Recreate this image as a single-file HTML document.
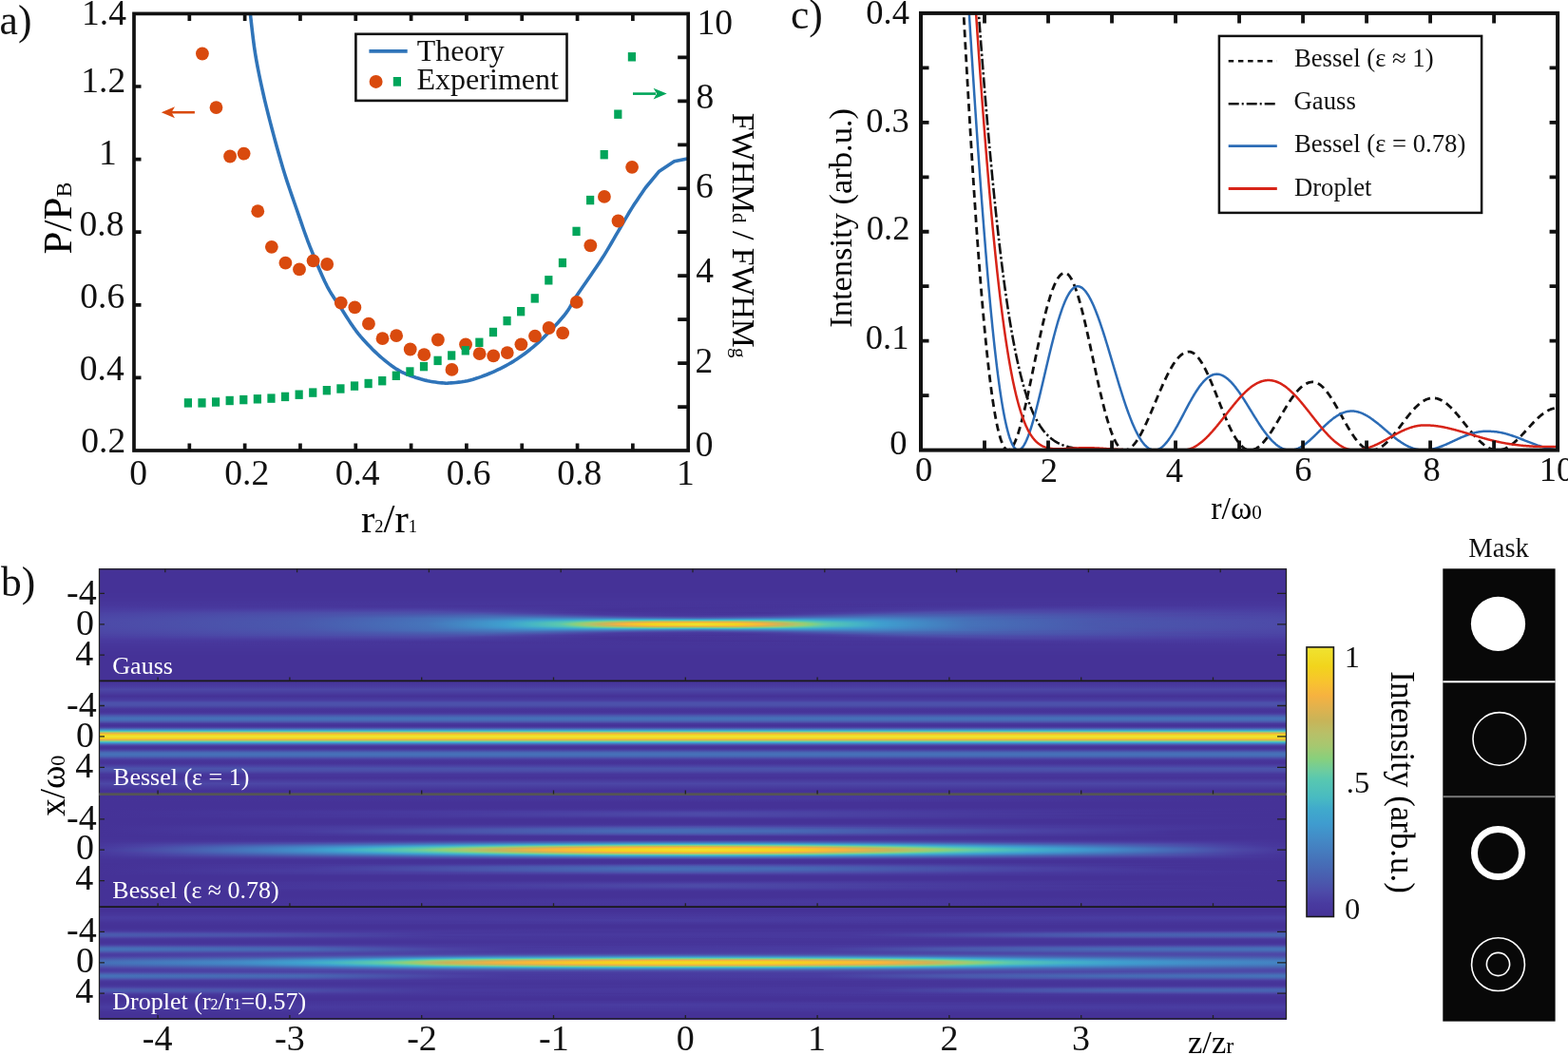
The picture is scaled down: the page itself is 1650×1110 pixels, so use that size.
<!DOCTYPE html>
<html><head><meta charset="utf-8"><title>Figure</title><style>html,body{margin:0;padding:0;background:#fff;width:1650px;height:1110px;overflow:hidden}svg{display:block}text{font-family:"Liberation Serif","Times New Roman",serif}</style></head><body>
<svg width="1650" height="1110" viewBox="0 0 1650 1110">
<defs><linearGradient id="g1"><stop offset="0" stop-color="#453297"/><stop offset="1" stop-color="#453297"/></linearGradient><linearGradient id="g2"><stop offset="0" stop-color="#453398"/><stop offset="1" stop-color="#453398"/></linearGradient><linearGradient id="g3"><stop offset="0" stop-color="#463398"/><stop offset="1" stop-color="#463398"/></linearGradient><linearGradient id="g4"><stop offset="0" stop-color="#463499"/><stop offset="1" stop-color="#463499"/></linearGradient><linearGradient id="g5"><stop offset="0" stop-color="#46359a"/><stop offset="1" stop-color="#46359a"/></linearGradient><linearGradient id="g6"><stop offset="0" stop-color="#47369b"/><stop offset="0.779" stop-color="#463499"/><stop offset="1" stop-color="#47369b"/></linearGradient><linearGradient id="g7"><stop offset="0" stop-color="#47369b"/><stop offset="0.731" stop-color="#463499"/><stop offset="1" stop-color="#47369b"/></linearGradient><linearGradient id="g8"><stop offset="0" stop-color="#47379c"/><stop offset="0.698" stop-color="#463499"/><stop offset="1" stop-color="#47379c"/></linearGradient><linearGradient id="g9"><stop offset="0" stop-color="#47379c"/><stop offset="0.67" stop-color="#463398"/><stop offset="1" stop-color="#47379c"/></linearGradient><linearGradient id="g10"><stop offset="0" stop-color="#48389d"/><stop offset="0.323" stop-color="#463499"/><stop offset="0.698" stop-color="#46359a"/><stop offset="1" stop-color="#48389d"/></linearGradient><linearGradient id="g11"><stop offset="0" stop-color="#48399e"/><stop offset="0.31" stop-color="#47369b"/><stop offset="0.629" stop-color="#453398"/><stop offset="0.846" stop-color="#483a9f"/><stop offset="1" stop-color="#48399e"/></linearGradient><linearGradient id="g12"><stop offset="0" stop-color="#483a9f"/><stop offset="0.296" stop-color="#48389d"/><stop offset="0.491" stop-color="#453297"/><stop offset="0.691" stop-color="#48389d"/><stop offset="0.875" stop-color="#493ba0"/><stop offset="1" stop-color="#483a9f"/></linearGradient><linearGradient id="g13"><stop offset="0" stop-color="#493ba0"/><stop offset="0.27" stop-color="#493da1"/><stop offset="0.45" stop-color="#453297"/><stop offset="0.664" stop-color="#47379c"/><stop offset="0.789" stop-color="#4a3fa2"/><stop offset="1" stop-color="#493ba0"/></linearGradient><linearGradient id="g14"><stop offset="0" stop-color="#493ca1"/><stop offset="0.272" stop-color="#4b41a3"/><stop offset="0.432" stop-color="#453297"/><stop offset="0.645" stop-color="#47379c"/><stop offset="0.773" stop-color="#4b43a4"/><stop offset="1" stop-color="#493ca1"/></linearGradient><linearGradient id="g15"><stop offset="0" stop-color="#4a3ea1"/><stop offset="0.275" stop-color="#4c46a6"/><stop offset="0.424" stop-color="#453398"/><stop offset="0.629" stop-color="#47369b"/><stop offset="0.749" stop-color="#4c48a7"/><stop offset="1" stop-color="#4a3ea1"/></linearGradient><linearGradient id="g16"><stop offset="0" stop-color="#4a3fa2"/><stop offset="0.285" stop-color="#4d4ba8"/><stop offset="0.35" stop-color="#4a3ea1"/><stop offset="0.437" stop-color="#453398"/><stop offset="0.616" stop-color="#47379c"/><stop offset="0.714" stop-color="#4d4ba8"/><stop offset="0.822" stop-color="#4c47a6"/><stop offset="1" stop-color="#4a3fa2"/></linearGradient><linearGradient id="g17"><stop offset="0" stop-color="#4b41a3"/><stop offset="0.24" stop-color="#4c50aa"/><stop offset="0.326" stop-color="#4d4ca9"/><stop offset="0.398" stop-color="#47379c"/><stop offset="0.555" stop-color="#453398"/><stop offset="0.632" stop-color="#4a3ea2"/><stop offset="0.698" stop-color="#4c50aa"/><stop offset="0.806" stop-color="#4d4ba8"/><stop offset="1" stop-color="#4b41a3"/></linearGradient><linearGradient id="g18"><stop offset="0" stop-color="#4b43a4"/><stop offset="0.226" stop-color="#4c52ab"/><stop offset="0.322" stop-color="#4b55ac"/><stop offset="0.379" stop-color="#4b41a3"/><stop offset="0.424" stop-color="#47379c"/><stop offset="0.565" stop-color="#46359a"/><stop offset="0.619" stop-color="#4a40a3"/><stop offset="0.677" stop-color="#4b55ac"/><stop offset="0.773" stop-color="#4c52ab"/><stop offset="0.997" stop-color="#4b43a4"/><stop offset="1" stop-color="#4b43a4"/></linearGradient><linearGradient id="g19"><stop offset="0" stop-color="#4b44a5"/><stop offset="0.208" stop-color="#4b53ab"/><stop offset="0.323" stop-color="#495daf"/><stop offset="0.373" stop-color="#4c4faa"/><stop offset="0.422" stop-color="#493a9f"/><stop offset="0.525" stop-color="#46359a"/><stop offset="0.587" stop-color="#4a3ea1"/><stop offset="0.651" stop-color="#4a59ad"/><stop offset="0.71" stop-color="#495daf"/><stop offset="0.946" stop-color="#4c45a5"/><stop offset="1" stop-color="#4b44a5"/></linearGradient><linearGradient id="g20"><stop offset="0" stop-color="#4c45a5"/><stop offset="0.195" stop-color="#4b54ac"/><stop offset="0.326" stop-color="#4865b3"/><stop offset="0.374" stop-color="#4a5aae"/><stop offset="0.435" stop-color="#4a3fa2"/><stop offset="0.482" stop-color="#48389d"/><stop offset="0.563" stop-color="#4a3ea2"/><stop offset="0.622" stop-color="#4a58ad"/><stop offset="0.664" stop-color="#4864b2"/><stop offset="0.731" stop-color="#495fb0"/><stop offset="0.91" stop-color="#4d49a7"/><stop offset="1" stop-color="#4c45a5"/></linearGradient><linearGradient id="g21"><stop offset="0" stop-color="#4c46a6"/><stop offset="0.186" stop-color="#4b55ac"/><stop offset="0.331" stop-color="#476db6"/><stop offset="0.373" stop-color="#4867b4"/><stop offset="0.405" stop-color="#4a5caf"/><stop offset="0.454" stop-color="#4c46a6"/><stop offset="0.507" stop-color="#4a3ea2"/><stop offset="0.562" stop-color="#4d4ca9"/><stop offset="0.605" stop-color="#495eb0"/><stop offset="0.654" stop-color="#476db7"/><stop offset="0.72" stop-color="#4865b3"/><stop offset="0.893" stop-color="#4d4ca9"/><stop offset="1" stop-color="#4c46a6"/></linearGradient><linearGradient id="g22"><stop offset="0" stop-color="#4c47a7"/><stop offset="0.181" stop-color="#4b56ac"/><stop offset="0.355" stop-color="#4578bc"/><stop offset="0.405" stop-color="#466eb7"/><stop offset="0.456" stop-color="#4a5bae"/><stop offset="0.506" stop-color="#4c51ab"/><stop offset="0.562" stop-color="#4960b1"/><stop offset="0.602" stop-color="#466eb7"/><stop offset="0.653" stop-color="#4578bc"/><stop offset="0.853" stop-color="#4c51ab"/><stop offset="1" stop-color="#4c47a7"/></linearGradient><linearGradient id="g23"><stop offset="0" stop-color="#4c48a7"/><stop offset="0.176" stop-color="#4b57ad"/><stop offset="0.296" stop-color="#4673ba"/><stop offset="0.368" stop-color="#4485c3"/><stop offset="0.397" stop-color="#4482c2"/><stop offset="0.434" stop-color="#457dbf"/><stop offset="0.454" stop-color="#4576bb"/><stop offset="0.506" stop-color="#476cb6"/><stop offset="0.563" stop-color="#457bbe"/><stop offset="0.6" stop-color="#4482c2"/><stop offset="0.619" stop-color="#4483c2"/><stop offset="0.656" stop-color="#4481c2"/><stop offset="0.786" stop-color="#495db0"/><stop offset="0.952" stop-color="#4d49a8"/><stop offset="1" stop-color="#4c48a7"/></linearGradient><linearGradient id="g24"><stop offset="0" stop-color="#4d49a7"/><stop offset="0.173" stop-color="#4b57ad"/><stop offset="0.286" stop-color="#4673ba"/><stop offset="0.373" stop-color="#4193cb"/><stop offset="0.395" stop-color="#4096cc"/><stop offset="0.432" stop-color="#3f9ccf"/><stop offset="0.461" stop-color="#409ace"/><stop offset="0.506" stop-color="#4192ca"/><stop offset="0.546" stop-color="#4099ce"/><stop offset="0.592" stop-color="#3f9bce"/><stop offset="0.618" stop-color="#4193cb"/><stop offset="0.656" stop-color="#438bc6"/><stop offset="0.746" stop-color="#4769b5"/><stop offset="0.877" stop-color="#4c51ab"/><stop offset="1" stop-color="#4d49a7"/></linearGradient><linearGradient id="g25"><stop offset="0" stop-color="#4d49a8"/><stop offset="0.17" stop-color="#4a57ad"/><stop offset="0.282" stop-color="#4673ba"/><stop offset="0.368" stop-color="#3f9fce"/><stop offset="0.397" stop-color="#40a9cc"/><stop offset="0.427" stop-color="#4bbcbf"/><stop offset="0.478" stop-color="#50c1b9"/><stop offset="0.512" stop-color="#4ec0bb"/><stop offset="0.546" stop-color="#4fc0ba"/><stop offset="0.586" stop-color="#46b7c4"/><stop offset="0.614" stop-color="#3fa3ce"/><stop offset="0.653" stop-color="#4195cc"/><stop offset="0.734" stop-color="#466eb7"/><stop offset="0.851" stop-color="#4b55ac"/><stop offset="1" stop-color="#4d49a8"/></linearGradient><linearGradient id="g26"><stop offset="0" stop-color="#4d4aa8"/><stop offset="0.168" stop-color="#4a58ad"/><stop offset="0.278" stop-color="#4673ba"/><stop offset="0.344" stop-color="#409ace"/><stop offset="0.382" stop-color="#44b2c7"/><stop offset="0.411" stop-color="#57c7b1"/><stop offset="0.438" stop-color="#86d07e"/><stop offset="0.467" stop-color="#a7c76f"/><stop offset="0.536" stop-color="#a5c870"/><stop offset="0.563" stop-color="#84cf81"/><stop offset="0.589" stop-color="#57c7b1"/><stop offset="0.618" stop-color="#44b2c7"/><stop offset="0.656" stop-color="#409ace"/><stop offset="0.726" stop-color="#4672b9"/><stop offset="0.838" stop-color="#4b57ad"/><stop offset="1" stop-color="#4d4aa8"/></linearGradient><linearGradient id="g27"><stop offset="0" stop-color="#4d4aa8"/><stop offset="0.168" stop-color="#4a58ad"/><stop offset="0.278" stop-color="#4674ba"/><stop offset="0.344" stop-color="#3f9ecf"/><stop offset="0.368" stop-color="#44b3c7"/><stop offset="0.395" stop-color="#56c6b2"/><stop offset="0.406" stop-color="#74cd95"/><stop offset="0.414" stop-color="#89d07c"/><stop offset="0.426" stop-color="#a9c76f"/><stop offset="0.451" stop-color="#ceb456"/><stop offset="0.469" stop-color="#e4b24b"/><stop offset="0.507" stop-color="#ebb247"/><stop offset="0.536" stop-color="#e0b24e"/><stop offset="0.558" stop-color="#c2b95e"/><stop offset="0.578" stop-color="#a1c972"/><stop offset="0.587" stop-color="#85d080"/><stop offset="0.602" stop-color="#5dc9ac"/><stop offset="0.613" stop-color="#4fc0bb"/><stop offset="0.634" stop-color="#43b1c8"/><stop offset="0.661" stop-color="#3f9ace"/><stop offset="0.733" stop-color="#4671b8"/><stop offset="0.84" stop-color="#4b57ad"/><stop offset="1" stop-color="#4d4aa8"/></linearGradient><linearGradient id="g28"><stop offset="0" stop-color="#4d4aa8"/><stop offset="0.166" stop-color="#4a58ad"/><stop offset="0.275" stop-color="#4674ba"/><stop offset="0.342" stop-color="#3f9fce"/><stop offset="0.363" stop-color="#45b4c6"/><stop offset="0.39" stop-color="#59c8af"/><stop offset="0.4" stop-color="#7ace8e"/><stop offset="0.406" stop-color="#8fce79"/><stop offset="0.416" stop-color="#acc56d"/><stop offset="0.432" stop-color="#d0b355"/><stop offset="0.446" stop-color="#f6b240"/><stop offset="0.47" stop-color="#f5cb26"/><stop offset="0.504" stop-color="#f2d41c"/><stop offset="0.538" stop-color="#f7c52d"/><stop offset="0.555" stop-color="#f3b242"/><stop offset="0.573" stop-color="#c4b75c"/><stop offset="0.584" stop-color="#acc56d"/><stop offset="0.594" stop-color="#8fce79"/><stop offset="0.6" stop-color="#7ace8e"/><stop offset="0.61" stop-color="#59c8af"/><stop offset="0.637" stop-color="#45b4c6"/><stop offset="0.658" stop-color="#3f9fce"/><stop offset="0.728" stop-color="#4673b9"/><stop offset="0.835" stop-color="#4a58ad"/><stop offset="1" stop-color="#4d4aa8"/></linearGradient><linearGradient id="g29"><stop offset="0" stop-color="#4d4aa8"/><stop offset="0.166" stop-color="#4a58ad"/><stop offset="0.275" stop-color="#4674ba"/><stop offset="0.342" stop-color="#3fa0ce"/><stop offset="0.362" stop-color="#45b4c5"/><stop offset="0.387" stop-color="#5ac8ae"/><stop offset="0.395" stop-color="#75cd95"/><stop offset="0.402" stop-color="#8bcf7b"/><stop offset="0.411" stop-color="#abc66e"/><stop offset="0.422" stop-color="#c4b75c"/><stop offset="0.438" stop-color="#f5b241"/><stop offset="0.453" stop-color="#f6c928"/><stop offset="0.462" stop-color="#f2d41c"/><stop offset="0.502" stop-color="#f0e130"/><stop offset="0.538" stop-color="#f2d41c"/><stop offset="0.558" stop-color="#f7b83a"/><stop offset="0.563" stop-color="#f0b244"/><stop offset="0.578" stop-color="#c4b75c"/><stop offset="0.589" stop-color="#abc66e"/><stop offset="0.6" stop-color="#85d07f"/><stop offset="0.61" stop-color="#64caa7"/><stop offset="0.616" stop-color="#56c6b2"/><stop offset="0.64" stop-color="#44b2c7"/><stop offset="0.662" stop-color="#3f9ccf"/><stop offset="0.731" stop-color="#4672b9"/><stop offset="0.837" stop-color="#4a58ad"/><stop offset="1" stop-color="#4d4aa8"/></linearGradient><linearGradient id="g30"><stop offset="0" stop-color="#4d4aa8"/><stop offset="0.166" stop-color="#4a58ad"/><stop offset="0.275" stop-color="#4674ba"/><stop offset="0.342" stop-color="#3fa0ce"/><stop offset="0.362" stop-color="#45b4c6"/><stop offset="0.389" stop-color="#5bc9ad"/><stop offset="0.397" stop-color="#78ce91"/><stop offset="0.402" stop-color="#88d07c"/><stop offset="0.411" stop-color="#a9c76f"/><stop offset="0.422" stop-color="#c1b95f"/><stop offset="0.434" stop-color="#e2b24d"/><stop offset="0.442" stop-color="#f6b53d"/><stop offset="0.464" stop-color="#f3d21e"/><stop offset="0.504" stop-color="#f0de29"/><stop offset="0.536" stop-color="#f3d21e"/><stop offset="0.558" stop-color="#f6b53d"/><stop offset="0.568" stop-color="#ddb24f"/><stop offset="0.578" stop-color="#c1b95f"/><stop offset="0.589" stop-color="#a9c76f"/><stop offset="0.598" stop-color="#88d07c"/><stop offset="0.61" stop-color="#61caa9"/><stop offset="0.614" stop-color="#57c7b1"/><stop offset="0.638" stop-color="#45b4c6"/><stop offset="0.659" stop-color="#3f9ece"/><stop offset="0.731" stop-color="#4672b9"/><stop offset="0.837" stop-color="#4a58ad"/><stop offset="1" stop-color="#4d4aa8"/></linearGradient><linearGradient id="g31"><stop offset="0" stop-color="#4d4aa8"/><stop offset="0.166" stop-color="#4a58ad"/><stop offset="0.277" stop-color="#4674ba"/><stop offset="0.344" stop-color="#3fa0ce"/><stop offset="0.365" stop-color="#45b4c6"/><stop offset="0.392" stop-color="#58c8b0"/><stop offset="0.403" stop-color="#7cce8b"/><stop offset="0.408" stop-color="#8bcf7b"/><stop offset="0.419" stop-color="#acc56d"/><stop offset="0.437" stop-color="#cfb355"/><stop offset="0.45" stop-color="#ebb247"/><stop offset="0.459" stop-color="#f6b53d"/><stop offset="0.475" stop-color="#f8c032"/><stop offset="0.506" stop-color="#f7c62c"/><stop offset="0.536" stop-color="#f7bb37"/><stop offset="0.546" stop-color="#f3b242"/><stop offset="0.56" stop-color="#d8b351"/><stop offset="0.571" stop-color="#bfbb61"/><stop offset="0.586" stop-color="#9fca73"/><stop offset="0.594" stop-color="#86d07f"/><stop offset="0.605" stop-color="#63caa7"/><stop offset="0.61" stop-color="#56c6b2"/><stop offset="0.637" stop-color="#44b2c7"/><stop offset="0.661" stop-color="#3f9ccf"/><stop offset="0.731" stop-color="#4672b9"/><stop offset="0.837" stop-color="#4a58ad"/><stop offset="1" stop-color="#4d4aa8"/></linearGradient><linearGradient id="g32"><stop offset="0" stop-color="#4d4aa8"/><stop offset="0.168" stop-color="#4a58ad"/><stop offset="0.278" stop-color="#4674ba"/><stop offset="0.342" stop-color="#3f9bcf"/><stop offset="0.371" stop-color="#44b2c7"/><stop offset="0.395" stop-color="#52c3b7"/><stop offset="0.403" stop-color="#5dc9ac"/><stop offset="0.419" stop-color="#84cf81"/><stop offset="0.435" stop-color="#aac66e"/><stop offset="0.467" stop-color="#c8b458"/><stop offset="0.518" stop-color="#cab457"/><stop offset="0.539" stop-color="#c3b85d"/><stop offset="0.568" stop-color="#a5c870"/><stop offset="0.581" stop-color="#84cf81"/><stop offset="0.597" stop-color="#5dc9ac"/><stop offset="0.614" stop-color="#4abcbf"/><stop offset="0.646" stop-color="#40a3cd"/><stop offset="0.669" stop-color="#4192ca"/><stop offset="0.736" stop-color="#466fb8"/><stop offset="0.843" stop-color="#4b57ad"/><stop offset="1" stop-color="#4d4aa8"/></linearGradient><linearGradient id="g33"><stop offset="0" stop-color="#4d49a8"/><stop offset="0.17" stop-color="#4a58ad"/><stop offset="0.28" stop-color="#4673ba"/><stop offset="0.346" stop-color="#4098cd"/><stop offset="0.392" stop-color="#43b1c8"/><stop offset="0.41" stop-color="#4fc0ba"/><stop offset="0.429" stop-color="#5ec9ab"/><stop offset="0.469" stop-color="#80cf86"/><stop offset="0.504" stop-color="#7ace8e"/><stop offset="0.534" stop-color="#7fcf87"/><stop offset="0.573" stop-color="#5cc9ad"/><stop offset="0.605" stop-color="#46b5c5"/><stop offset="0.616" stop-color="#40abcb"/><stop offset="0.656" stop-color="#4097cd"/><stop offset="0.734" stop-color="#466fb7"/><stop offset="0.846" stop-color="#4b56ac"/><stop offset="1" stop-color="#4d49a8"/></linearGradient><linearGradient id="g34"><stop offset="0" stop-color="#4d49a7"/><stop offset="0.171" stop-color="#4a57ad"/><stop offset="0.283" stop-color="#4673ba"/><stop offset="0.376" stop-color="#3f9dcf"/><stop offset="0.398" stop-color="#3fa3ce"/><stop offset="0.438" stop-color="#42afc9"/><stop offset="0.475" stop-color="#43b0c8"/><stop offset="0.506" stop-color="#40aacc"/><stop offset="0.539" stop-color="#44b1c7"/><stop offset="0.587" stop-color="#40a9cc"/><stop offset="0.619" stop-color="#3f9dcf"/><stop offset="0.659" stop-color="#428ec8"/><stop offset="0.741" stop-color="#476bb6"/><stop offset="0.864" stop-color="#4b53ab"/><stop offset="1" stop-color="#4d49a7"/></linearGradient><linearGradient id="g35"><stop offset="0" stop-color="#4d48a7"/><stop offset="0.174" stop-color="#4b57ad"/><stop offset="0.288" stop-color="#4672b9"/><stop offset="0.371" stop-color="#428dc8"/><stop offset="0.395" stop-color="#428dc8"/><stop offset="0.432" stop-color="#4290c9"/><stop offset="0.456" stop-color="#438ac6"/><stop offset="0.506" stop-color="#4481c1"/><stop offset="0.549" stop-color="#438ac6"/><stop offset="0.59" stop-color="#4291c9"/><stop offset="0.618" stop-color="#438cc7"/><stop offset="0.654" stop-color="#4488c5"/><stop offset="0.752" stop-color="#4867b4"/><stop offset="0.883" stop-color="#4c50aa"/><stop offset="1" stop-color="#4d48a7"/></linearGradient><linearGradient id="g36"><stop offset="0" stop-color="#4c48a7"/><stop offset="0.178" stop-color="#4b56ad"/><stop offset="0.299" stop-color="#4673b9"/><stop offset="0.368" stop-color="#457fc0"/><stop offset="0.397" stop-color="#457abd"/><stop offset="0.435" stop-color="#4671b9"/><stop offset="0.456" stop-color="#476ab5"/><stop offset="0.506" stop-color="#4961b1"/><stop offset="0.562" stop-color="#466fb8"/><stop offset="0.598" stop-color="#457abd"/><stop offset="0.619" stop-color="#457cbf"/><stop offset="0.656" stop-color="#457ebf"/><stop offset="0.813" stop-color="#4a58ad"/><stop offset="0.986" stop-color="#4d48a7"/><stop offset="1" stop-color="#4c48a7"/></linearGradient><linearGradient id="g37"><stop offset="0" stop-color="#4c47a6"/><stop offset="0.182" stop-color="#4b55ac"/><stop offset="0.347" stop-color="#4674ba"/><stop offset="0.386" stop-color="#476ab5"/><stop offset="0.434" stop-color="#4a5bae"/><stop offset="0.454" stop-color="#4c52ab"/><stop offset="0.506" stop-color="#4d49a7"/><stop offset="0.562" stop-color="#4a58ad"/><stop offset="0.603" stop-color="#4867b4"/><stop offset="0.654" stop-color="#4673ba"/><stop offset="0.776" stop-color="#4a5caf"/><stop offset="0.947" stop-color="#4d48a7"/><stop offset="1" stop-color="#4c47a6"/></linearGradient><linearGradient id="g38"><stop offset="0" stop-color="#4c46a6"/><stop offset="0.189" stop-color="#4b54ac"/><stop offset="0.33" stop-color="#4769b5"/><stop offset="0.373" stop-color="#4962b2"/><stop offset="0.443" stop-color="#4b42a4"/><stop offset="0.514" stop-color="#493ba0"/><stop offset="0.562" stop-color="#4c45a5"/><stop offset="0.608" stop-color="#4a59ae"/><stop offset="0.654" stop-color="#4769b5"/><stop offset="0.718" stop-color="#4864b2"/><stop offset="0.898" stop-color="#4d4ba8"/><stop offset="1" stop-color="#4c46a6"/></linearGradient><linearGradient id="g39"><stop offset="0" stop-color="#4c45a5"/><stop offset="0.2" stop-color="#4b53ac"/><stop offset="0.325" stop-color="#4962b1"/><stop offset="0.373" stop-color="#4b56ac"/><stop offset="0.437" stop-color="#493a9f"/><stop offset="0.534" stop-color="#47379c"/><stop offset="0.574" stop-color="#4a3fa2"/><stop offset="0.632" stop-color="#4a58ad"/><stop offset="0.688" stop-color="#4962b2"/><stop offset="0.926" stop-color="#4c47a6"/><stop offset="1" stop-color="#4c45a5"/></linearGradient><linearGradient id="g40"><stop offset="0" stop-color="#4b43a4"/><stop offset="0.216" stop-color="#4b52ab"/><stop offset="0.323" stop-color="#4a5aae"/><stop offset="0.378" stop-color="#4c48a7"/><stop offset="0.424" stop-color="#48399e"/><stop offset="0.549" stop-color="#46359a"/><stop offset="0.614" stop-color="#4b43a4"/><stop offset="0.664" stop-color="#4b57ad"/><stop offset="0.72" stop-color="#4a5aae"/><stop offset="0.96" stop-color="#4b44a5"/><stop offset="1" stop-color="#4b43a4"/></linearGradient><linearGradient id="g41"><stop offset="0" stop-color="#4b42a4"/><stop offset="0.23" stop-color="#4c51ab"/><stop offset="0.323" stop-color="#4c52ab"/><stop offset="0.4" stop-color="#48399e"/><stop offset="0.52" stop-color="#453398"/><stop offset="0.619" stop-color="#493da1"/><stop offset="0.682" stop-color="#4b53ab"/><stop offset="0.781" stop-color="#4c4faa"/><stop offset="1" stop-color="#4b42a4"/></linearGradient><linearGradient id="g42"><stop offset="0" stop-color="#4a40a3"/><stop offset="0.293" stop-color="#4c4eaa"/><stop offset="0.354" stop-color="#4b41a3"/><stop offset="0.416" stop-color="#46359a"/><stop offset="0.597" stop-color="#47369b"/><stop offset="0.653" stop-color="#4b43a4"/><stop offset="0.714" stop-color="#4c4eaa"/><stop offset="1" stop-color="#4a40a3"/></linearGradient><linearGradient id="g43"><stop offset="0" stop-color="#4a3fa2"/><stop offset="0.277" stop-color="#4d49a7"/><stop offset="0.346" stop-color="#493da1"/><stop offset="0.445" stop-color="#453297"/><stop offset="0.624" stop-color="#47379c"/><stop offset="0.722" stop-color="#4d49a7"/><stop offset="0.829" stop-color="#4c45a5"/><stop offset="1" stop-color="#4a3fa2"/></linearGradient><linearGradient id="g44"><stop offset="0" stop-color="#4a3da1"/><stop offset="0.274" stop-color="#4b44a5"/><stop offset="0.427" stop-color="#453297"/><stop offset="0.635" stop-color="#47379c"/><stop offset="0.76" stop-color="#4c46a6"/><stop offset="1" stop-color="#4a3da1"/></linearGradient><linearGradient id="g45"><stop offset="0" stop-color="#493ba0"/><stop offset="0.27" stop-color="#4a3fa2"/><stop offset="0.437" stop-color="#453297"/><stop offset="0.653" stop-color="#47379c"/><stop offset="0.778" stop-color="#4b41a3"/><stop offset="1" stop-color="#493ba0"/></linearGradient><linearGradient id="g46"><stop offset="0" stop-color="#493a9f"/><stop offset="0.272" stop-color="#493ba0"/><stop offset="0.466" stop-color="#453297"/><stop offset="0.672" stop-color="#47379c"/><stop offset="0.802" stop-color="#4a3da1"/><stop offset="1" stop-color="#493a9f"/></linearGradient><linearGradient id="g47"><stop offset="0" stop-color="#48399e"/><stop offset="0.306" stop-color="#47379c"/><stop offset="0.536" stop-color="#453297"/><stop offset="0.856" stop-color="#493a9f"/><stop offset="1" stop-color="#48399e"/></linearGradient><linearGradient id="g48"><stop offset="0" stop-color="#48399e"/><stop offset="0.314" stop-color="#46359a"/><stop offset="0.666" stop-color="#463499"/><stop offset="0.888" stop-color="#48399e"/><stop offset="1" stop-color="#48399e"/></linearGradient><linearGradient id="g49"><stop offset="0" stop-color="#48389d"/><stop offset="0.33" stop-color="#463499"/><stop offset="0.715" stop-color="#47369b"/><stop offset="1" stop-color="#48389d"/></linearGradient><linearGradient id="g50"><stop offset="0" stop-color="#47379c"/><stop offset="0.68" stop-color="#463398"/><stop offset="1" stop-color="#47379c"/></linearGradient><linearGradient id="g51"><stop offset="0" stop-color="#47369b"/><stop offset="0.71" stop-color="#463499"/><stop offset="1" stop-color="#47369b"/></linearGradient><linearGradient id="g52"><stop offset="0" stop-color="#47369b"/><stop offset="0.742" stop-color="#463499"/><stop offset="1" stop-color="#47369b"/></linearGradient><linearGradient id="g53"><stop offset="0" stop-color="#46359a"/><stop offset="0.824" stop-color="#46359a"/><stop offset="1" stop-color="#46359a"/></linearGradient><linearGradient id="g54" x1="0" y1="0" x2="0" y2="1"><stop offset="0." stop-color="#453297"/><stop offset="0.0462" stop-color="#493ba0"/><stop offset="0.0756" stop-color="#4c47a6"/><stop offset="0.1345" stop-color="#453297"/><stop offset="0.1681" stop-color="#493ca0"/><stop offset="0.1933" stop-color="#4c51ab"/><stop offset="0.2143" stop-color="#4c51aa"/><stop offset="0.2479" stop-color="#47369b"/><stop offset="0.2731" stop-color="#463398"/><stop offset="0.2899" stop-color="#4a3ea2"/><stop offset="0.3067" stop-color="#4a5aae"/><stop offset="0.3277" stop-color="#4670b8"/><stop offset="0.3445" stop-color="#476db7"/><stop offset="0.3613" stop-color="#4b56ac"/><stop offset="0.3782" stop-color="#48389d"/><stop offset="0.395" stop-color="#453297"/><stop offset="0.4076" stop-color="#483a9f"/><stop offset="0.416" stop-color="#4c50aa"/><stop offset="0.4286" stop-color="#457fc0"/><stop offset="0.4328" stop-color="#4192ca"/><stop offset="0.437" stop-color="#40a4cd"/><stop offset="0.4412" stop-color="#49bbc1"/><stop offset="0.4454" stop-color="#5ac8ae"/><stop offset="0.4496" stop-color="#85d07f"/><stop offset="0.4538" stop-color="#adc56d"/><stop offset="0.458" stop-color="#c4b75c"/><stop offset="0.4622" stop-color="#e2b24d"/><stop offset="0.4664" stop-color="#f7b73b"/><stop offset="0.4748" stop-color="#f2d41d"/><stop offset="0.4874" stop-color="#f0e232"/><stop offset="0.4958" stop-color="#f0e130"/><stop offset="0.5042" stop-color="#f1d822"/><stop offset="0.5084" stop-color="#f4cf22"/><stop offset="0.5126" stop-color="#f8c131"/><stop offset="0.5168" stop-color="#f3b242"/><stop offset="0.521" stop-color="#d6b352"/><stop offset="0.5294" stop-color="#a0ca72"/><stop offset="0.5336" stop-color="#75cd95"/><stop offset="0.5378" stop-color="#52c3b6"/><stop offset="0.542" stop-color="#43b1c8"/><stop offset="0.5462" stop-color="#3f9dcf"/><stop offset="0.5588" stop-color="#4867b4"/><stop offset="0.5672" stop-color="#4d4aa8"/><stop offset="0.5756" stop-color="#48389d"/><stop offset="0.5924" stop-color="#453297"/><stop offset="0.6092" stop-color="#4a40a3"/><stop offset="0.6303" stop-color="#4866b3"/><stop offset="0.6471" stop-color="#4672b9"/><stop offset="0.6639" stop-color="#4769b5"/><stop offset="0.6891" stop-color="#4b42a4"/><stop offset="0.7017" stop-color="#47369b"/><stop offset="0.7269" stop-color="#463398"/><stop offset="0.7479" stop-color="#4a3fa2"/><stop offset="0.7731" stop-color="#4b53ab"/><stop offset="0.7941" stop-color="#4c4ea9"/><stop offset="0.8235" stop-color="#47379c"/><stop offset="0.8571" stop-color="#463398"/><stop offset="0.9076" stop-color="#4c47a6"/><stop offset="0.9706" stop-color="#453297"/><stop offset="0.9958" stop-color="#46359a"/></linearGradient><linearGradient id="g55"><stop offset="0" stop-color="#453297"/><stop offset="0.658" stop-color="#46359a"/><stop offset="1" stop-color="#453297"/></linearGradient><linearGradient id="g56"><stop offset="0" stop-color="#453297"/><stop offset="0.624" stop-color="#47369b"/><stop offset="1" stop-color="#453297"/></linearGradient><linearGradient id="g57"><stop offset="0" stop-color="#453297"/><stop offset="0.608" stop-color="#48389d"/><stop offset="1" stop-color="#453297"/></linearGradient><linearGradient id="g58"><stop offset="0" stop-color="#453297"/><stop offset="0.598" stop-color="#48399e"/><stop offset="1" stop-color="#453297"/></linearGradient><linearGradient id="g59"><stop offset="0" stop-color="#453297"/><stop offset="0.597" stop-color="#48399e"/><stop offset="1" stop-color="#453297"/></linearGradient><linearGradient id="g60"><stop offset="0" stop-color="#453297"/><stop offset="0.602" stop-color="#48399e"/><stop offset="1" stop-color="#453297"/></linearGradient><linearGradient id="g61"><stop offset="0" stop-color="#453297"/><stop offset="0.614" stop-color="#47379c"/><stop offset="1" stop-color="#453297"/></linearGradient><linearGradient id="g62"><stop offset="0" stop-color="#453297"/><stop offset="0.64" stop-color="#47369b"/><stop offset="1" stop-color="#453297"/></linearGradient><linearGradient id="g63"><stop offset="0" stop-color="#453297"/><stop offset="0.709" stop-color="#463499"/><stop offset="1" stop-color="#453297"/></linearGradient><linearGradient id="g64"><stop offset="0" stop-color="#453297"/><stop offset="1" stop-color="#453297"/></linearGradient><linearGradient id="g65"><stop offset="0" stop-color="#453297"/><stop offset="0.726" stop-color="#463499"/><stop offset="1" stop-color="#453297"/></linearGradient><linearGradient id="g66"><stop offset="0" stop-color="#453297"/><stop offset="0.63" stop-color="#47379c"/><stop offset="1" stop-color="#453297"/></linearGradient><linearGradient id="g67"><stop offset="0" stop-color="#453297"/><stop offset="0.579" stop-color="#493a9f"/><stop offset="1" stop-color="#453297"/></linearGradient><linearGradient id="g68"><stop offset="0" stop-color="#453297"/><stop offset="0.397" stop-color="#4a3da1"/><stop offset="0.563" stop-color="#4a40a3"/><stop offset="0.936" stop-color="#453297"/><stop offset="1" stop-color="#453297"/></linearGradient><linearGradient id="g69"><stop offset="0" stop-color="#453297"/><stop offset="0.346" stop-color="#493ca1"/><stop offset="0.517" stop-color="#4c46a6"/><stop offset="0.811" stop-color="#46359a"/><stop offset="1" stop-color="#453297"/></linearGradient><linearGradient id="g70"><stop offset="0" stop-color="#453297"/><stop offset="0.307" stop-color="#493ba0"/><stop offset="0.506" stop-color="#4d4aa8"/><stop offset="0.8" stop-color="#47369b"/><stop offset="1" stop-color="#453297"/></linearGradient><linearGradient id="g71"><stop offset="0" stop-color="#453297"/><stop offset="0.269" stop-color="#48399e"/><stop offset="0.506" stop-color="#4d4ba8"/><stop offset="0.67" stop-color="#4a3da1"/><stop offset="0.942" stop-color="#453297"/><stop offset="1" stop-color="#453297"/></linearGradient><linearGradient id="g72"><stop offset="0" stop-color="#453297"/><stop offset="0.258" stop-color="#48389d"/><stop offset="0.51" stop-color="#4d4aa8"/><stop offset="0.854" stop-color="#453297"/><stop offset="1" stop-color="#453297"/></linearGradient><linearGradient id="g73"><stop offset="0" stop-color="#453297"/><stop offset="0.267" stop-color="#48389d"/><stop offset="0.518" stop-color="#4c46a6"/><stop offset="0.875" stop-color="#453297"/><stop offset="1" stop-color="#453297"/></linearGradient><linearGradient id="g74"><stop offset="0" stop-color="#453297"/><stop offset="0.315" stop-color="#48399e"/><stop offset="0.546" stop-color="#4a41a3"/><stop offset="0.912" stop-color="#453297"/><stop offset="1" stop-color="#453297"/></linearGradient><linearGradient id="g75"><stop offset="0" stop-color="#453297"/><stop offset="0.662" stop-color="#47369b"/><stop offset="1" stop-color="#453297"/></linearGradient><linearGradient id="g76"><stop offset="0" stop-color="#453297"/><stop offset="0.706" stop-color="#463499"/><stop offset="1" stop-color="#453297"/></linearGradient><linearGradient id="g77"><stop offset="0" stop-color="#453297"/><stop offset="0.637" stop-color="#47379c"/><stop offset="1" stop-color="#453297"/></linearGradient><linearGradient id="g78"><stop offset="0" stop-color="#453297"/><stop offset="0.56" stop-color="#4a40a2"/><stop offset="0.834" stop-color="#47379c"/><stop offset="1" stop-color="#453297"/></linearGradient><linearGradient id="g79"><stop offset="0" stop-color="#453297"/><stop offset="0.323" stop-color="#4a3fa2"/><stop offset="0.506" stop-color="#4d4ca9"/><stop offset="0.672" stop-color="#4a3fa2"/><stop offset="1" stop-color="#453297"/></linearGradient><linearGradient id="g80"><stop offset="0" stop-color="#453297"/><stop offset="0.269" stop-color="#4a3fa2"/><stop offset="0.47" stop-color="#4b57ad"/><stop offset="0.603" stop-color="#4c51ab"/><stop offset="0.797" stop-color="#493a9f"/><stop offset="1" stop-color="#453297"/></linearGradient><linearGradient id="g81"><stop offset="0" stop-color="#453297"/><stop offset="0.237" stop-color="#4a40a2"/><stop offset="0.416" stop-color="#4a5caf"/><stop offset="0.541" stop-color="#4960b1"/><stop offset="0.76" stop-color="#4a40a3"/><stop offset="0.986" stop-color="#453297"/><stop offset="1" stop-color="#453297"/></linearGradient><linearGradient id="g82"><stop offset="0" stop-color="#453297"/><stop offset="0.206" stop-color="#4a3ea2"/><stop offset="0.35" stop-color="#4a59ae"/><stop offset="0.494" stop-color="#4769b5"/><stop offset="0.618" stop-color="#495eb0"/><stop offset="0.787" stop-color="#4a41a3"/><stop offset="0.954" stop-color="#453297"/><stop offset="1" stop-color="#453297"/></linearGradient><linearGradient id="g83"><stop offset="0" stop-color="#453297"/><stop offset="0.178" stop-color="#493ba0"/><stop offset="0.322" stop-color="#4b56ad"/><stop offset="0.462" stop-color="#476cb6"/><stop offset="0.582" stop-color="#4768b4"/><stop offset="0.79" stop-color="#4b42a4"/><stop offset="0.928" stop-color="#453398"/><stop offset="1" stop-color="#453297"/></linearGradient><linearGradient id="g84"><stop offset="0" stop-color="#453297"/><stop offset="0.166" stop-color="#493a9f"/><stop offset="0.31" stop-color="#4b55ac"/><stop offset="0.456" stop-color="#476db6"/><stop offset="0.571" stop-color="#476bb6"/><stop offset="0.792" stop-color="#4b42a4"/><stop offset="0.907" stop-color="#453398"/><stop offset="1" stop-color="#453297"/></linearGradient><linearGradient id="g85"><stop offset="0" stop-color="#453297"/><stop offset="0.165" stop-color="#48399e"/><stop offset="0.317" stop-color="#4b54ac"/><stop offset="0.459" stop-color="#476ab5"/><stop offset="0.581" stop-color="#4866b4"/><stop offset="0.787" stop-color="#4b41a3"/><stop offset="0.902" stop-color="#453398"/><stop offset="1" stop-color="#453297"/></linearGradient><linearGradient id="g86"><stop offset="0" stop-color="#453297"/><stop offset="0.17" stop-color="#48389d"/><stop offset="0.344" stop-color="#4b54ac"/><stop offset="0.491" stop-color="#4864b2"/><stop offset="0.622" stop-color="#4a5aae"/><stop offset="0.786" stop-color="#4a3fa2"/><stop offset="0.91" stop-color="#453297"/><stop offset="1" stop-color="#453297"/></linearGradient><linearGradient id="g87"><stop offset="0" stop-color="#453297"/><stop offset="0.181" stop-color="#47379c"/><stop offset="0.408" stop-color="#4b53ac"/><stop offset="0.544" stop-color="#4a58ad"/><stop offset="0.758" stop-color="#4a3da1"/><stop offset="0.917" stop-color="#453297"/><stop offset="1" stop-color="#453297"/></linearGradient><linearGradient id="g88"><stop offset="0" stop-color="#453297"/><stop offset="0.202" stop-color="#47379c"/><stop offset="0.514" stop-color="#4d4aa8"/><stop offset="0.904" stop-color="#453297"/><stop offset="1" stop-color="#453297"/></linearGradient><linearGradient id="g89"><stop offset="0" stop-color="#453297"/><stop offset="0.606" stop-color="#483a9f"/><stop offset="1" stop-color="#453297"/></linearGradient><linearGradient id="g90"><stop offset="0" stop-color="#453297"/><stop offset="0.816" stop-color="#453297"/><stop offset="1" stop-color="#453297"/></linearGradient><linearGradient id="g91"><stop offset="0" stop-color="#453398"/><stop offset="1" stop-color="#453297"/></linearGradient><linearGradient id="g92"><stop offset="0" stop-color="#463398"/><stop offset="0.72" stop-color="#46359a"/><stop offset="0.982" stop-color="#463398"/><stop offset="1" stop-color="#453398"/></linearGradient><linearGradient id="g93"><stop offset="0" stop-color="#463499"/><stop offset="0.182" stop-color="#47379c"/><stop offset="0.546" stop-color="#4b43a5"/><stop offset="0.814" stop-color="#48389d"/><stop offset="0.99" stop-color="#463499"/><stop offset="1" stop-color="#453398"/></linearGradient><linearGradient id="g94"><stop offset="0" stop-color="#463499"/><stop offset="0.189" stop-color="#493ba0"/><stop offset="0.398" stop-color="#4b57ad"/><stop offset="0.544" stop-color="#4a5caf"/><stop offset="0.77" stop-color="#4a3fa2"/><stop offset="0.91" stop-color="#493a9f"/><stop offset="1" stop-color="#463398"/></linearGradient><linearGradient id="g95"><stop offset="0" stop-color="#46359a"/><stop offset="0.237" stop-color="#4c4faa"/><stop offset="0.443" stop-color="#4675bb"/><stop offset="0.55" stop-color="#4576bb"/><stop offset="0.758" stop-color="#4c50aa"/><stop offset="0.907" stop-color="#4a3fa2"/><stop offset="1" stop-color="#463499"/></linearGradient><linearGradient id="g96"><stop offset="0" stop-color="#47369b"/><stop offset="0.171" stop-color="#4c50aa"/><stop offset="0.368" stop-color="#4484c3"/><stop offset="0.475" stop-color="#4098cd"/><stop offset="0.582" stop-color="#4191ca"/><stop offset="0.792" stop-color="#4a5aae"/><stop offset="0.901" stop-color="#4c48a7"/><stop offset="0.976" stop-color="#47379c"/><stop offset="1" stop-color="#46359a"/></linearGradient><linearGradient id="g97"><stop offset="0" stop-color="#47379c"/><stop offset="0.061" stop-color="#4b44a5"/><stop offset="0.238" stop-color="#4671b9"/><stop offset="0.362" stop-color="#3fa0ce"/><stop offset="0.456" stop-color="#49bbc1"/><stop offset="0.525" stop-color="#4bbdbf"/><stop offset="0.586" stop-color="#45b3c6"/><stop offset="0.651" stop-color="#3f9ccf"/><stop offset="0.781" stop-color="#476cb6"/><stop offset="0.893" stop-color="#4c52ab"/><stop offset="0.97" stop-color="#48399e"/><stop offset="1" stop-color="#46359a"/></linearGradient><linearGradient id="g98"><stop offset="0" stop-color="#47379c"/><stop offset="0.048" stop-color="#4b44a5"/><stop offset="0.224" stop-color="#457fc0"/><stop offset="0.296" stop-color="#3fa0ce"/><stop offset="0.333" stop-color="#45b3c6"/><stop offset="0.392" stop-color="#5ec9ab"/><stop offset="0.45" stop-color="#82cf84"/><stop offset="0.493" stop-color="#91ce78"/><stop offset="0.552" stop-color="#84cf81"/><stop offset="0.587" stop-color="#72cd98"/><stop offset="0.621" stop-color="#56c6b2"/><stop offset="0.667" stop-color="#45b4c6"/><stop offset="0.702" stop-color="#3fa1ce"/><stop offset="0.805" stop-color="#4578bc"/><stop offset="0.914" stop-color="#4c4faa"/><stop offset="0.981" stop-color="#48389d"/><stop offset="1" stop-color="#47369b"/></linearGradient><linearGradient id="g99"><stop offset="0" stop-color="#48389d"/><stop offset="0.04" stop-color="#4b44a5"/><stop offset="0.205" stop-color="#4488c5"/><stop offset="0.251" stop-color="#3fa0ce"/><stop offset="0.285" stop-color="#45b3c6"/><stop offset="0.331" stop-color="#5cc9ac"/><stop offset="0.357" stop-color="#7dce8a"/><stop offset="0.37" stop-color="#8dcf7a"/><stop offset="0.394" stop-color="#a8c76f"/><stop offset="0.453" stop-color="#c2b95e"/><stop offset="0.501" stop-color="#cbb457"/><stop offset="0.573" stop-color="#bcbd64"/><stop offset="0.614" stop-color="#a1c972"/><stop offset="0.638" stop-color="#84cf81"/><stop offset="0.674" stop-color="#58c8b0"/><stop offset="0.717" stop-color="#44b1c8"/><stop offset="0.762" stop-color="#3f9ace"/><stop offset="0.923" stop-color="#4c4faa"/><stop offset="0.987" stop-color="#48389d"/><stop offset="1" stop-color="#47369b"/></linearGradient><linearGradient id="g100"><stop offset="0" stop-color="#48399e"/><stop offset="0.038" stop-color="#4c46a6"/><stop offset="0.189" stop-color="#428dc7"/><stop offset="0.224" stop-color="#3fa1ce"/><stop offset="0.254" stop-color="#45b5c5"/><stop offset="0.294" stop-color="#5bc9ae"/><stop offset="0.315" stop-color="#7ace8f"/><stop offset="0.328" stop-color="#8ccf7b"/><stop offset="0.352" stop-color="#acc56d"/><stop offset="0.394" stop-color="#ceb456"/><stop offset="0.448" stop-color="#f4b241"/><stop offset="0.502" stop-color="#f7bb37"/><stop offset="0.562" stop-color="#f3b242"/><stop offset="0.592" stop-color="#dfb24e"/><stop offset="0.622" stop-color="#c2b95e"/><stop offset="0.661" stop-color="#a0ca72"/><stop offset="0.678" stop-color="#84cf82"/><stop offset="0.701" stop-color="#61caa9"/><stop offset="0.712" stop-color="#55c5b4"/><stop offset="0.749" stop-color="#44b3c7"/><stop offset="0.784" stop-color="#3f9fce"/><stop offset="0.957" stop-color="#4b43a5"/><stop offset="1" stop-color="#47379c"/></linearGradient><linearGradient id="g101"><stop offset="0" stop-color="#48399e"/><stop offset="0.062" stop-color="#4b54ac"/><stop offset="0.176" stop-color="#428ec8"/><stop offset="0.206" stop-color="#3fa2ce"/><stop offset="0.234" stop-color="#46b5c5"/><stop offset="0.274" stop-color="#5cc9ad"/><stop offset="0.294" stop-color="#7ecf89"/><stop offset="0.304" stop-color="#8dcf7a"/><stop offset="0.325" stop-color="#abc66e"/><stop offset="0.352" stop-color="#c5b75b"/><stop offset="0.392" stop-color="#f2b242"/><stop offset="0.427" stop-color="#f7c42e"/><stop offset="0.485" stop-color="#f2d51d"/><stop offset="0.546" stop-color="#f4cf21"/><stop offset="0.592" stop-color="#f7bd35"/><stop offset="0.61" stop-color="#f3b242"/><stop offset="0.651" stop-color="#c3b75d"/><stop offset="0.685" stop-color="#a0ca72"/><stop offset="0.701" stop-color="#84cf81"/><stop offset="0.72" stop-color="#66cba5"/><stop offset="0.733" stop-color="#56c7b2"/><stop offset="0.771" stop-color="#44b1c7"/><stop offset="0.813" stop-color="#3f9bcf"/><stop offset="0.954" stop-color="#4c47a7"/><stop offset="0.997" stop-color="#48389d"/><stop offset="1" stop-color="#47389d"/></linearGradient><linearGradient id="g102"><stop offset="0" stop-color="#493a9f"/><stop offset="0.059" stop-color="#4b55ac"/><stop offset="0.166" stop-color="#428dc8"/><stop offset="0.195" stop-color="#3fa1ce"/><stop offset="0.222" stop-color="#46b5c5"/><stop offset="0.261" stop-color="#5dc9ac"/><stop offset="0.277" stop-color="#75cd94"/><stop offset="0.291" stop-color="#8dcf7a"/><stop offset="0.31" stop-color="#abc66e"/><stop offset="0.336" stop-color="#c4b75c"/><stop offset="0.376" stop-color="#f6b33f"/><stop offset="0.422" stop-color="#f4cf22"/><stop offset="0.435" stop-color="#f2d51e"/><stop offset="0.499" stop-color="#f0e02d"/><stop offset="0.579" stop-color="#f2d31d"/><stop offset="0.621" stop-color="#f6b53d"/><stop offset="0.635" stop-color="#e9b248"/><stop offset="0.667" stop-color="#c3b85d"/><stop offset="0.693" stop-color="#a8c76f"/><stop offset="0.712" stop-color="#86d07f"/><stop offset="0.736" stop-color="#62caa8"/><stop offset="0.747" stop-color="#56c6b3"/><stop offset="0.787" stop-color="#42afc9"/><stop offset="0.829" stop-color="#4097cd"/><stop offset="0.95" stop-color="#4d4ba8"/><stop offset="0.998" stop-color="#48389d"/><stop offset="1" stop-color="#48389d"/></linearGradient><linearGradient id="g103"><stop offset="0" stop-color="#493a9f"/><stop offset="0.058" stop-color="#4b55ac"/><stop offset="0.165" stop-color="#428dc8"/><stop offset="0.194" stop-color="#3fa1ce"/><stop offset="0.221" stop-color="#46b6c5"/><stop offset="0.258" stop-color="#5bc9ad"/><stop offset="0.275" stop-color="#76cd93"/><stop offset="0.288" stop-color="#8bcf7b"/><stop offset="0.309" stop-color="#acc56d"/><stop offset="0.336" stop-color="#c6b55a"/><stop offset="0.374" stop-color="#f6b43e"/><stop offset="0.419" stop-color="#f3d021"/><stop offset="0.43" stop-color="#f2d51e"/><stop offset="0.499" stop-color="#f0e132"/><stop offset="0.578" stop-color="#f2d51e"/><stop offset="0.589" stop-color="#f3d021"/><stop offset="0.626" stop-color="#f6b43e"/><stop offset="0.666" stop-color="#c7b559"/><stop offset="0.691" stop-color="#acc56d"/><stop offset="0.71" stop-color="#8ccf7a"/><stop offset="0.741" stop-color="#5fc9ab"/><stop offset="0.755" stop-color="#53c3b6"/><stop offset="0.79" stop-color="#42aec9"/><stop offset="0.83" stop-color="#4098cd"/><stop offset="0.95" stop-color="#4d4ba8"/><stop offset="1" stop-color="#48389d"/></linearGradient><linearGradient id="g104"><stop offset="0" stop-color="#483a9f"/><stop offset="0.062" stop-color="#4b55ac"/><stop offset="0.171" stop-color="#428ec8"/><stop offset="0.2" stop-color="#3fa1ce"/><stop offset="0.227" stop-color="#45b4c6"/><stop offset="0.267" stop-color="#5cc9ad"/><stop offset="0.283" stop-color="#76cd93"/><stop offset="0.298" stop-color="#8dcf7a"/><stop offset="0.318" stop-color="#acc56d"/><stop offset="0.347" stop-color="#c7b559"/><stop offset="0.386" stop-color="#f6b33f"/><stop offset="0.435" stop-color="#f4cf22"/><stop offset="0.459" stop-color="#f2d51e"/><stop offset="0.502" stop-color="#f1db25"/><stop offset="0.56" stop-color="#f3d21e"/><stop offset="0.597" stop-color="#f8c131"/><stop offset="0.619" stop-color="#f2b243"/><stop offset="0.659" stop-color="#c3b75d"/><stop offset="0.685" stop-color="#a9c66e"/><stop offset="0.706" stop-color="#86d07e"/><stop offset="0.726" stop-color="#67cba4"/><stop offset="0.739" stop-color="#56c7b2"/><stop offset="0.779" stop-color="#43b0c8"/><stop offset="0.822" stop-color="#4098cd"/><stop offset="0.952" stop-color="#4d49a7"/><stop offset="0.997" stop-color="#48389d"/><stop offset="1" stop-color="#48389d"/></linearGradient><linearGradient id="g105"><stop offset="0" stop-color="#48399e"/><stop offset="0.042" stop-color="#4d49a7"/><stop offset="0.179" stop-color="#438bc7"/><stop offset="0.214" stop-color="#3fa1ce"/><stop offset="0.243" stop-color="#45b4c6"/><stop offset="0.285" stop-color="#5cc9ad"/><stop offset="0.307" stop-color="#7ecf89"/><stop offset="0.318" stop-color="#8fce79"/><stop offset="0.339" stop-color="#acc56d"/><stop offset="0.37" stop-color="#c6b55a"/><stop offset="0.402" stop-color="#e6b24a"/><stop offset="0.427" stop-color="#f6b43e"/><stop offset="0.494" stop-color="#f6c928"/><stop offset="0.566" stop-color="#f7ba38"/><stop offset="0.589" stop-color="#f3b242"/><stop offset="0.635" stop-color="#c3b85d"/><stop offset="0.67" stop-color="#a3c971"/><stop offset="0.688" stop-color="#85d080"/><stop offset="0.71" stop-color="#61caa8"/><stop offset="0.722" stop-color="#56c6b3"/><stop offset="0.758" stop-color="#44b3c7"/><stop offset="0.794" stop-color="#3f9fce"/><stop offset="0.957" stop-color="#4c44a5"/><stop offset="0.998" stop-color="#47379c"/><stop offset="1" stop-color="#47379c"/></linearGradient><linearGradient id="g106"><stop offset="0" stop-color="#48389d"/><stop offset="0.038" stop-color="#4c44a5"/><stop offset="0.197" stop-color="#4389c6"/><stop offset="0.238" stop-color="#3fa0ce"/><stop offset="0.272" stop-color="#45b4c6"/><stop offset="0.315" stop-color="#5dc9ac"/><stop offset="0.341" stop-color="#7fcf87"/><stop offset="0.352" stop-color="#8ece79"/><stop offset="0.376" stop-color="#acc56d"/><stop offset="0.438" stop-color="#d1b354"/><stop offset="0.499" stop-color="#e4b24b"/><stop offset="0.562" stop-color="#d3b353"/><stop offset="0.594" stop-color="#c1b95f"/><stop offset="0.637" stop-color="#9fca73"/><stop offset="0.658" stop-color="#84cf81"/><stop offset="0.683" stop-color="#60caaa"/><stop offset="0.696" stop-color="#54c4b5"/><stop offset="0.736" stop-color="#42aec9"/><stop offset="0.781" stop-color="#4098cd"/><stop offset="0.954" stop-color="#4b43a4"/><stop offset="0.998" stop-color="#47379c"/><stop offset="1" stop-color="#47379c"/></linearGradient><linearGradient id="g107"><stop offset="0" stop-color="#48389d"/><stop offset="0.045" stop-color="#4b44a5"/><stop offset="0.216" stop-color="#4483c2"/><stop offset="0.277" stop-color="#3fa0ce"/><stop offset="0.312" stop-color="#45b4c6"/><stop offset="0.362" stop-color="#5cc9ad"/><stop offset="0.395" stop-color="#7ecf89"/><stop offset="0.416" stop-color="#8dcf7a"/><stop offset="0.451" stop-color="#a5c871"/><stop offset="0.502" stop-color="#aec46c"/><stop offset="0.56" stop-color="#a2c971"/><stop offset="0.589" stop-color="#90ce79"/><stop offset="0.603" stop-color="#82cf84"/><stop offset="0.637" stop-color="#5ec9ab"/><stop offset="0.659" stop-color="#51c2b7"/><stop offset="0.693" stop-color="#43b0c8"/><stop offset="0.739" stop-color="#4099ce"/><stop offset="0.922" stop-color="#4c4da9"/><stop offset="0.984" stop-color="#48389d"/><stop offset="1" stop-color="#47369b"/></linearGradient><linearGradient id="g108"><stop offset="0" stop-color="#47379c"/><stop offset="0.054" stop-color="#4b43a5"/><stop offset="0.235" stop-color="#4578bd"/><stop offset="0.331" stop-color="#3fa0ce"/><stop offset="0.376" stop-color="#45b4c6"/><stop offset="0.429" stop-color="#51c2b7"/><stop offset="0.502" stop-color="#5bc9ad"/><stop offset="0.602" stop-color="#4cbdbe"/><stop offset="0.658" stop-color="#40a5cd"/><stop offset="0.696" stop-color="#4195cb"/><stop offset="0.798" stop-color="#466fb8"/><stop offset="0.901" stop-color="#4c52ab"/><stop offset="0.973" stop-color="#48399e"/><stop offset="1" stop-color="#47359a"/></linearGradient><linearGradient id="g109"><stop offset="0" stop-color="#47369b"/><stop offset="0.072" stop-color="#4b44a5"/><stop offset="0.238" stop-color="#4866b3"/><stop offset="0.421" stop-color="#3f9dcf"/><stop offset="0.517" stop-color="#40a4cd"/><stop offset="0.603" stop-color="#4099cd"/><stop offset="0.786" stop-color="#4960b1"/><stop offset="0.893" stop-color="#4c4da9"/><stop offset="0.973" stop-color="#47379c"/><stop offset="1" stop-color="#46359a"/></linearGradient><linearGradient id="g110"><stop offset="0" stop-color="#46359a"/><stop offset="0.229" stop-color="#4b53ab"/><stop offset="0.44" stop-color="#4481c1"/><stop offset="0.534" stop-color="#4483c3"/><stop offset="0.63" stop-color="#4674ba"/><stop offset="0.802" stop-color="#4c50aa"/><stop offset="0.907" stop-color="#4b42a4"/><stop offset="1" stop-color="#463499"/></linearGradient><linearGradient id="g111"><stop offset="0" stop-color="#46359a"/><stop offset="0.242" stop-color="#4c46a6"/><stop offset="0.448" stop-color="#4865b3"/><stop offset="0.579" stop-color="#4863b2"/><stop offset="0.802" stop-color="#4b43a4"/><stop offset="0.904" stop-color="#493da1"/><stop offset="1" stop-color="#463499"/></linearGradient><linearGradient id="g112"><stop offset="0" stop-color="#463499"/><stop offset="0.181" stop-color="#48399e"/><stop offset="0.346" stop-color="#4b44a5"/><stop offset="0.518" stop-color="#4c4da9"/><stop offset="0.802" stop-color="#48399e"/><stop offset="0.962" stop-color="#47359a"/><stop offset="1" stop-color="#463398"/></linearGradient><linearGradient id="g113"><stop offset="0" stop-color="#463398"/><stop offset="0.19" stop-color="#46359a"/><stop offset="0.65" stop-color="#48389d"/><stop offset="0.984" stop-color="#463499"/><stop offset="1" stop-color="#453398"/></linearGradient><linearGradient id="g114"><stop offset="0" stop-color="#453398"/><stop offset="0.997" stop-color="#453398"/><stop offset="1" stop-color="#453398"/></linearGradient><linearGradient id="g115"><stop offset="0" stop-color="#453297"/><stop offset="0.656" stop-color="#47379c"/><stop offset="1" stop-color="#453297"/></linearGradient><linearGradient id="g116"><stop offset="0" stop-color="#453297"/><stop offset="0.24" stop-color="#48389d"/><stop offset="0.534" stop-color="#4b44a5"/><stop offset="0.918" stop-color="#453297"/><stop offset="1" stop-color="#453297"/></linearGradient><linearGradient id="g117"><stop offset="0" stop-color="#453297"/><stop offset="0.189" stop-color="#47379c"/><stop offset="0.466" stop-color="#4b52ab"/><stop offset="0.613" stop-color="#4d4ca9"/><stop offset="0.874" stop-color="#453297"/><stop offset="1" stop-color="#453297"/></linearGradient><linearGradient id="g118"><stop offset="0" stop-color="#453297"/><stop offset="0.174" stop-color="#48389d"/><stop offset="0.363" stop-color="#4b54ac"/><stop offset="0.502" stop-color="#4960b1"/><stop offset="0.629" stop-color="#4b55ac"/><stop offset="0.806" stop-color="#483a9f"/><stop offset="0.944" stop-color="#453297"/><stop offset="1" stop-color="#453297"/></linearGradient><linearGradient id="g119"><stop offset="0" stop-color="#453297"/><stop offset="0.166" stop-color="#48389d"/><stop offset="0.325" stop-color="#4b54ac"/><stop offset="0.466" stop-color="#4867b4"/><stop offset="0.592" stop-color="#4862b2"/><stop offset="0.784" stop-color="#4b41a3"/><stop offset="0.901" stop-color="#453297"/><stop offset="1" stop-color="#453297"/></linearGradient><linearGradient id="g120"><stop offset="0" stop-color="#453297"/><stop offset="0.165" stop-color="#48399e"/><stop offset="0.31" stop-color="#4b54ac"/><stop offset="0.456" stop-color="#476cb6"/><stop offset="0.573" stop-color="#476ab5"/><stop offset="0.79" stop-color="#4b42a4"/><stop offset="0.902" stop-color="#453398"/><stop offset="1" stop-color="#453297"/></linearGradient><linearGradient id="g121"><stop offset="0" stop-color="#453297"/><stop offset="0.173" stop-color="#493ba0"/><stop offset="0.315" stop-color="#4b56ac"/><stop offset="0.459" stop-color="#476db7"/><stop offset="0.576" stop-color="#476ab5"/><stop offset="0.792" stop-color="#4b42a4"/><stop offset="0.92" stop-color="#453398"/><stop offset="1" stop-color="#453297"/></linearGradient><linearGradient id="g122"><stop offset="0" stop-color="#453297"/><stop offset="0.192" stop-color="#493da1"/><stop offset="0.334" stop-color="#4b57ad"/><stop offset="0.472" stop-color="#476ab5"/><stop offset="0.592" stop-color="#4865b3"/><stop offset="0.787" stop-color="#4b41a3"/><stop offset="0.942" stop-color="#453297"/><stop offset="1" stop-color="#453297"/></linearGradient><linearGradient id="g123"><stop offset="0" stop-color="#453297"/><stop offset="0.229" stop-color="#4a40a3"/><stop offset="0.397" stop-color="#495db0"/><stop offset="0.53" stop-color="#4864b3"/><stop offset="0.661" stop-color="#4b53ab"/><stop offset="0.84" stop-color="#483a9f"/><stop offset="1" stop-color="#453297"/></linearGradient><linearGradient id="g124"><stop offset="0" stop-color="#453297"/><stop offset="0.254" stop-color="#4a3fa2"/><stop offset="0.462" stop-color="#4a5bae"/><stop offset="0.594" stop-color="#4b56ad"/><stop offset="0.787" stop-color="#493ba0"/><stop offset="1" stop-color="#453297"/></linearGradient><linearGradient id="g125"><stop offset="0" stop-color="#453297"/><stop offset="0.299" stop-color="#4a3fa2"/><stop offset="0.485" stop-color="#4c51ab"/><stop offset="0.632" stop-color="#4c48a7"/><stop offset="0.787" stop-color="#48399e"/><stop offset="1" stop-color="#453297"/></linearGradient><linearGradient id="g126"><stop offset="0" stop-color="#453297"/><stop offset="0.373" stop-color="#4a3fa2"/><stop offset="0.55" stop-color="#4b44a5"/><stop offset="0.797" stop-color="#47379c"/><stop offset="1" stop-color="#453297"/></linearGradient><linearGradient id="g127"><stop offset="0" stop-color="#453297"/><stop offset="0.606" stop-color="#48399e"/><stop offset="1" stop-color="#453297"/></linearGradient><linearGradient id="g128"><stop offset="0" stop-color="#453297"/><stop offset="0.661" stop-color="#46359a"/><stop offset="1" stop-color="#453297"/></linearGradient><linearGradient id="g129"><stop offset="0" stop-color="#453297"/><stop offset="0.717" stop-color="#463499"/><stop offset="1" stop-color="#453297"/></linearGradient><linearGradient id="g130"><stop offset="0" stop-color="#453297"/><stop offset="0.621" stop-color="#48389d"/><stop offset="1" stop-color="#453297"/></linearGradient><linearGradient id="g131"><stop offset="0" stop-color="#453297"/><stop offset="0.349" stop-color="#48399e"/><stop offset="0.568" stop-color="#4a3da1"/><stop offset="0.931" stop-color="#453297"/><stop offset="1" stop-color="#453297"/></linearGradient><linearGradient id="g132"><stop offset="0" stop-color="#453297"/><stop offset="0.28" stop-color="#48389d"/><stop offset="0.526" stop-color="#4b44a5"/><stop offset="0.893" stop-color="#453297"/><stop offset="1" stop-color="#453297"/></linearGradient><linearGradient id="g133"><stop offset="0" stop-color="#453297"/><stop offset="0.259" stop-color="#48389d"/><stop offset="0.512" stop-color="#4d49a7"/><stop offset="0.861" stop-color="#453297"/><stop offset="1" stop-color="#453297"/></linearGradient><linearGradient id="g134"><stop offset="0" stop-color="#453297"/><stop offset="0.262" stop-color="#48399e"/><stop offset="0.507" stop-color="#4d4ba8"/><stop offset="0.682" stop-color="#493ca0"/><stop offset="0.949" stop-color="#453297"/><stop offset="1" stop-color="#453297"/></linearGradient><linearGradient id="g135"><stop offset="0" stop-color="#453297"/><stop offset="0.288" stop-color="#483a9f"/><stop offset="0.506" stop-color="#4d4ba8"/><stop offset="0.677" stop-color="#493ca0"/><stop offset="0.96" stop-color="#453297"/><stop offset="1" stop-color="#453297"/></linearGradient><linearGradient id="g136"><stop offset="0" stop-color="#453297"/><stop offset="0.331" stop-color="#493ba0"/><stop offset="0.509" stop-color="#4c48a7"/><stop offset="0.803" stop-color="#47369b"/><stop offset="1" stop-color="#453297"/></linearGradient><linearGradient id="g137"><stop offset="0" stop-color="#453297"/><stop offset="0.378" stop-color="#4a3da1"/><stop offset="0.544" stop-color="#4b43a4"/><stop offset="0.88" stop-color="#453297"/><stop offset="1" stop-color="#453297"/></linearGradient><linearGradient id="g138"><stop offset="0" stop-color="#453297"/><stop offset="0.565" stop-color="#4a3da1"/><stop offset="1" stop-color="#453297"/></linearGradient><linearGradient id="g139"><stop offset="0" stop-color="#453297"/><stop offset="0.613" stop-color="#48389d"/><stop offset="1" stop-color="#453297"/></linearGradient><linearGradient id="g140"><stop offset="0" stop-color="#453297"/><stop offset="0.67" stop-color="#46359a"/><stop offset="1" stop-color="#453297"/></linearGradient><linearGradient id="g141"><stop offset="0" stop-color="#453297"/><stop offset="0.773" stop-color="#453398"/><stop offset="1" stop-color="#453297"/></linearGradient><linearGradient id="g142"><stop offset="0" stop-color="#453297"/><stop offset="0.622" stop-color="#47379c"/><stop offset="1" stop-color="#453297"/></linearGradient><linearGradient id="g143"><stop offset="0" stop-color="#453297"/><stop offset="0.606" stop-color="#48389d"/><stop offset="1" stop-color="#453297"/></linearGradient><linearGradient id="g144"><stop offset="0" stop-color="#453297"/><stop offset="0.603" stop-color="#48389d"/><stop offset="1" stop-color="#453297"/></linearGradient><linearGradient id="g145"><stop offset="0" stop-color="#453297"/><stop offset="0.616" stop-color="#47379c"/><stop offset="1" stop-color="#453297"/></linearGradient><linearGradient id="g146"><stop offset="0" stop-color="#453297"/><stop offset="0.702" stop-color="#463499"/><stop offset="1" stop-color="#453297"/></linearGradient><linearGradient id="g147"><stop offset="0" stop-color="#453297"/><stop offset="1" stop-color="#453297"/></linearGradient><linearGradient id="g148"><stop offset="0" stop-color="#453398"/><stop offset="1" stop-color="#453398"/></linearGradient><linearGradient id="g149"><stop offset="0" stop-color="#463499"/><stop offset="1" stop-color="#463499"/></linearGradient><linearGradient id="g150"><stop offset="0" stop-color="#46359a"/><stop offset="1" stop-color="#47359a"/></linearGradient><linearGradient id="g151"><stop offset="0" stop-color="#47369b"/><stop offset="1" stop-color="#47379c"/></linearGradient><linearGradient id="g152"><stop offset="0" stop-color="#48389d"/><stop offset="0.717" stop-color="#47369b"/><stop offset="1" stop-color="#483a9f"/></linearGradient><linearGradient id="g153"><stop offset="0" stop-color="#493a9f"/><stop offset="0.354" stop-color="#48389d"/><stop offset="1" stop-color="#493ca1"/></linearGradient><linearGradient id="g154"><stop offset="0" stop-color="#493ba0"/><stop offset="0.326" stop-color="#48399e"/><stop offset="0.859" stop-color="#493ca1"/><stop offset="1" stop-color="#4a3ea2"/></linearGradient><linearGradient id="g155"><stop offset="0" stop-color="#493ba0"/><stop offset="0.312" stop-color="#48399e"/><stop offset="0.896" stop-color="#493ca1"/><stop offset="1" stop-color="#4a3ea2"/></linearGradient><linearGradient id="g156"><stop offset="0" stop-color="#48399e"/><stop offset="0.304" stop-color="#48399e"/><stop offset="0.462" stop-color="#493da1"/><stop offset="0.714" stop-color="#48399e"/><stop offset="1" stop-color="#493ba0"/></linearGradient><linearGradient id="g157"><stop offset="0" stop-color="#48389d"/><stop offset="0.299" stop-color="#48389d"/><stop offset="0.451" stop-color="#4a3da1"/><stop offset="0.688" stop-color="#48399e"/><stop offset="1" stop-color="#48399e"/></linearGradient><linearGradient id="g158"><stop offset="0" stop-color="#47369b"/><stop offset="0.301" stop-color="#47379c"/><stop offset="0.498" stop-color="#493ba0"/><stop offset="0.714" stop-color="#47379c"/><stop offset="1" stop-color="#47379c"/></linearGradient><linearGradient id="g159"><stop offset="0" stop-color="#463499"/><stop offset="0.306" stop-color="#47379c"/><stop offset="0.662" stop-color="#48389d"/><stop offset="0.899" stop-color="#46359a"/><stop offset="1" stop-color="#46359a"/></linearGradient><linearGradient id="g160"><stop offset="0" stop-color="#463398"/><stop offset="0.323" stop-color="#47379c"/><stop offset="0.699" stop-color="#46359a"/><stop offset="1" stop-color="#463398"/></linearGradient><linearGradient id="g161"><stop offset="0" stop-color="#453398"/><stop offset="0.683" stop-color="#46359a"/><stop offset="1" stop-color="#453398"/></linearGradient><linearGradient id="g162"><stop offset="0" stop-color="#453297"/><stop offset="0.754" stop-color="#453297"/><stop offset="1" stop-color="#453297"/></linearGradient><linearGradient id="g163"><stop offset="0" stop-color="#463499"/><stop offset="1" stop-color="#46359a"/></linearGradient><linearGradient id="g164"><stop offset="0" stop-color="#47369b"/><stop offset="0.765" stop-color="#47359a"/><stop offset="1" stop-color="#47379c"/></linearGradient><linearGradient id="g165"><stop offset="0" stop-color="#493a9f"/><stop offset="0.622" stop-color="#463499"/><stop offset="1" stop-color="#493da1"/></linearGradient><linearGradient id="g166"><stop offset="0" stop-color="#4b43a5"/><stop offset="0.176" stop-color="#493ba0"/><stop offset="0.426" stop-color="#463499"/><stop offset="0.71" stop-color="#48399e"/><stop offset="0.878" stop-color="#4c47a6"/><stop offset="1" stop-color="#4d49a8"/></linearGradient><linearGradient id="g167"><stop offset="0" stop-color="#4c4faa"/><stop offset="0.147" stop-color="#4c47a6"/><stop offset="0.299" stop-color="#47379c"/><stop offset="0.656" stop-color="#48389d"/><stop offset="0.856" stop-color="#4b52ab"/><stop offset="1" stop-color="#4b57ad"/></linearGradient><linearGradient id="g168"><stop offset="0" stop-color="#4a58ad"/><stop offset="0.139" stop-color="#4c4faa"/><stop offset="0.288" stop-color="#48389d"/><stop offset="0.64" stop-color="#48389d"/><stop offset="0.797" stop-color="#4b54ac"/><stop offset="0.862" stop-color="#4a5caf"/><stop offset="1" stop-color="#4960b1"/></linearGradient><linearGradient id="g169"><stop offset="0" stop-color="#4a5baf"/><stop offset="0.134" stop-color="#4b53ac"/><stop offset="0.266" stop-color="#493a9f"/><stop offset="0.63" stop-color="#48389d"/><stop offset="0.779" stop-color="#4b54ac"/><stop offset="0.85" stop-color="#495fb0"/><stop offset="1" stop-color="#4865b3"/></linearGradient><linearGradient id="g170"><stop offset="0" stop-color="#4a59ae"/><stop offset="0.138" stop-color="#4c51ab"/><stop offset="0.286" stop-color="#48399e"/><stop offset="0.638" stop-color="#48389d"/><stop offset="0.789" stop-color="#4b54ac"/><stop offset="0.854" stop-color="#495db0"/><stop offset="1" stop-color="#4862b2"/></linearGradient><linearGradient id="g171"><stop offset="0" stop-color="#4c51ab"/><stop offset="0.146" stop-color="#4d4aa8"/><stop offset="0.293" stop-color="#47379c"/><stop offset="0.65" stop-color="#48389d"/><stop offset="0.826" stop-color="#4b54ac"/><stop offset="1" stop-color="#4a5aae"/></linearGradient><linearGradient id="g172"><stop offset="0" stop-color="#4c47a6"/><stop offset="0.165" stop-color="#4a3fa2"/><stop offset="0.341" stop-color="#47369b"/><stop offset="0.686" stop-color="#48399e"/><stop offset="0.869" stop-color="#4d4aa8"/><stop offset="1" stop-color="#4c4da9"/></linearGradient><linearGradient id="g173"><stop offset="0" stop-color="#493ca0"/><stop offset="0.542" stop-color="#463499"/><stop offset="1" stop-color="#4a40a3"/></linearGradient><linearGradient id="g174"><stop offset="0" stop-color="#47379c"/><stop offset="0.715" stop-color="#46359a"/><stop offset="1" stop-color="#48389d"/></linearGradient><linearGradient id="g175"><stop offset="0" stop-color="#47369b"/><stop offset="0.81" stop-color="#46359a"/><stop offset="1" stop-color="#47369b"/></linearGradient><linearGradient id="g176"><stop offset="0" stop-color="#483a9f"/><stop offset="0.602" stop-color="#463499"/><stop offset="1" stop-color="#483a9f"/></linearGradient><linearGradient id="g177"><stop offset="0" stop-color="#4b44a5"/><stop offset="0.19" stop-color="#4a3ea1"/><stop offset="0.402" stop-color="#463499"/><stop offset="0.722" stop-color="#493a9f"/><stop offset="1" stop-color="#4b44a5"/></linearGradient><linearGradient id="g178"><stop offset="0" stop-color="#4b53ab"/><stop offset="0.179" stop-color="#4d4ca9"/><stop offset="0.294" stop-color="#48399e"/><stop offset="0.614" stop-color="#48389d"/><stop offset="0.856" stop-color="#4c4eaa"/><stop offset="1" stop-color="#4b53ab"/></linearGradient><linearGradient id="g179"><stop offset="0" stop-color="#4962b1"/><stop offset="0.174" stop-color="#4a5aae"/><stop offset="0.278" stop-color="#4a3ea2"/><stop offset="0.368" stop-color="#47379c"/><stop offset="0.626" stop-color="#493ba0"/><stop offset="0.771" stop-color="#4b55ac"/><stop offset="1" stop-color="#4962b2"/></linearGradient><linearGradient id="g180"><stop offset="0" stop-color="#476db6"/><stop offset="0.173" stop-color="#4863b2"/><stop offset="0.286" stop-color="#4b41a3"/><stop offset="0.347" stop-color="#48399e"/><stop offset="0.61" stop-color="#493ba0"/><stop offset="0.72" stop-color="#4b56ac"/><stop offset="0.877" stop-color="#4867b4"/><stop offset="1" stop-color="#476db7"/></linearGradient><linearGradient id="g181"><stop offset="0" stop-color="#4671b9"/><stop offset="0.171" stop-color="#4768b4"/><stop offset="0.293" stop-color="#4b42a4"/><stop offset="0.344" stop-color="#48399e"/><stop offset="0.605" stop-color="#493ca0"/><stop offset="0.706" stop-color="#4b56ad"/><stop offset="0.843" stop-color="#476ab5"/><stop offset="1" stop-color="#4672b9"/></linearGradient><linearGradient id="g182"><stop offset="0" stop-color="#466fb7"/><stop offset="0.173" stop-color="#4866b3"/><stop offset="0.293" stop-color="#4b42a4"/><stop offset="0.347" stop-color="#483a9f"/><stop offset="0.605" stop-color="#493ca1"/><stop offset="0.712" stop-color="#4b56ad"/><stop offset="0.864" stop-color="#4769b5"/><stop offset="1" stop-color="#4670b8"/></linearGradient><linearGradient id="g183"><stop offset="0" stop-color="#4865b3"/><stop offset="0.174" stop-color="#495eb0"/><stop offset="0.29" stop-color="#4a41a3"/><stop offset="0.357" stop-color="#48399e"/><stop offset="0.611" stop-color="#4a3da1"/><stop offset="0.741" stop-color="#4b57ad"/><stop offset="0.917" stop-color="#4864b3"/><stop offset="1" stop-color="#4868b4"/></linearGradient><linearGradient id="g184"><stop offset="0" stop-color="#4a59ae"/><stop offset="0.178" stop-color="#4b52ab"/><stop offset="0.333" stop-color="#493a9f"/><stop offset="0.621" stop-color="#4a3ea2"/><stop offset="0.832" stop-color="#4a57ad"/><stop offset="1" stop-color="#4a5caf"/></linearGradient><linearGradient id="g185"><stop offset="0" stop-color="#4d4ba8"/><stop offset="0.19" stop-color="#4c47a7"/><stop offset="0.365" stop-color="#493da1"/><stop offset="0.646" stop-color="#4b43a4"/><stop offset="0.926" stop-color="#4c50aa"/><stop offset="1" stop-color="#4c51ab"/></linearGradient><linearGradient id="g186"><stop offset="0" stop-color="#4b41a3"/><stop offset="0.949" stop-color="#4d4aa8"/><stop offset="1" stop-color="#4d49a8"/></linearGradient><linearGradient id="g187"><stop offset="0" stop-color="#493ca1"/><stop offset="0.256" stop-color="#4d4aa8"/><stop offset="0.456" stop-color="#4a59ae"/><stop offset="0.712" stop-color="#4b53ab"/><stop offset="1" stop-color="#4c47a7"/></linearGradient><linearGradient id="g188"><stop offset="0" stop-color="#493da1"/><stop offset="0.182" stop-color="#4d4ba8"/><stop offset="0.339" stop-color="#4867b4"/><stop offset="0.52" stop-color="#4670b8"/><stop offset="0.701" stop-color="#4864b3"/><stop offset="0.854" stop-color="#4b53ab"/><stop offset="1" stop-color="#4d4ba8"/></linearGradient><linearGradient id="g189"><stop offset="0" stop-color="#4b42a4"/><stop offset="0.15" stop-color="#4c51ab"/><stop offset="0.269" stop-color="#466fb8"/><stop offset="0.338" stop-color="#4481c1"/><stop offset="0.493" stop-color="#428fc9"/><stop offset="0.619" stop-color="#4389c5"/><stop offset="0.726" stop-color="#4673ba"/><stop offset="0.83" stop-color="#4961b1"/><stop offset="1" stop-color="#4b53ab"/></linearGradient><linearGradient id="g190"><stop offset="0" stop-color="#4d4ba8"/><stop offset="0.134" stop-color="#4a5caf"/><stop offset="0.224" stop-color="#4674ba"/><stop offset="0.307" stop-color="#4099ce"/><stop offset="0.478" stop-color="#45b4c6"/><stop offset="0.574" stop-color="#43b0c8"/><stop offset="0.696" stop-color="#409ace"/><stop offset="0.787" stop-color="#4578bc"/><stop offset="0.928" stop-color="#4862b2"/><stop offset="1" stop-color="#4a5daf"/></linearGradient><linearGradient id="g191"><stop offset="0" stop-color="#4b54ac"/><stop offset="0.128" stop-color="#4868b4"/><stop offset="0.208" stop-color="#4482c2"/><stop offset="0.266" stop-color="#3fa1ce"/><stop offset="0.306" stop-color="#48bac1"/><stop offset="0.384" stop-color="#5dc9ac"/><stop offset="0.467" stop-color="#79ce90"/><stop offset="0.557" stop-color="#76cd93"/><stop offset="0.667" stop-color="#51c2b8"/><stop offset="0.704" stop-color="#45b5c5"/><stop offset="0.736" stop-color="#3fa1ce"/><stop offset="0.8" stop-color="#4388c5"/><stop offset="0.909" stop-color="#466fb8"/><stop offset="1" stop-color="#4867b4"/></linearGradient><linearGradient id="g192"><stop offset="0" stop-color="#495eb0"/><stop offset="0.122" stop-color="#4673ba"/><stop offset="0.198" stop-color="#4192ca"/><stop offset="0.23" stop-color="#3fa3ce"/><stop offset="0.258" stop-color="#46b6c4"/><stop offset="0.285" stop-color="#5bc9ae"/><stop offset="0.304" stop-color="#71cd99"/><stop offset="0.333" stop-color="#8bcf7b"/><stop offset="0.386" stop-color="#abc66e"/><stop offset="0.474" stop-color="#bfbb61"/><stop offset="0.565" stop-color="#bbbe65"/><stop offset="0.651" stop-color="#a0ca72"/><stop offset="0.678" stop-color="#84cf81"/><stop offset="0.699" stop-color="#6dcc9e"/><stop offset="0.715" stop-color="#56c6b2"/><stop offset="0.754" stop-color="#43afc9"/><stop offset="0.789" stop-color="#3f9fce"/><stop offset="0.885" stop-color="#4580c1"/><stop offset="1" stop-color="#4671b8"/></linearGradient><linearGradient id="g193"><stop offset="0" stop-color="#4866b4"/><stop offset="0.118" stop-color="#457ebf"/><stop offset="0.198" stop-color="#3fa2ce"/><stop offset="0.224" stop-color="#44b3c7"/><stop offset="0.259" stop-color="#59c8af"/><stop offset="0.274" stop-color="#7ace8e"/><stop offset="0.282" stop-color="#8ccf7a"/><stop offset="0.293" stop-color="#a1c972"/><stop offset="0.342" stop-color="#c2b95e"/><stop offset="0.4" stop-color="#e1b24d"/><stop offset="0.466" stop-color="#f6b33f"/><stop offset="0.562" stop-color="#f3b242"/><stop offset="0.654" stop-color="#c8b458"/><stop offset="0.699" stop-color="#a7c76f"/><stop offset="0.717" stop-color="#86d07f"/><stop offset="0.736" stop-color="#62caa8"/><stop offset="0.747" stop-color="#55c5b4"/><stop offset="0.79" stop-color="#41adca"/><stop offset="0.843" stop-color="#4097cd"/><stop offset="0.922" stop-color="#4483c3"/><stop offset="1" stop-color="#4579bd"/></linearGradient><linearGradient id="g194"><stop offset="0" stop-color="#476cb6"/><stop offset="0.117" stop-color="#4486c4"/><stop offset="0.178" stop-color="#3fa0ce"/><stop offset="0.205" stop-color="#44b3c7"/><stop offset="0.242" stop-color="#5cc9ad"/><stop offset="0.256" stop-color="#75cd94"/><stop offset="0.266" stop-color="#8dcf7a"/><stop offset="0.278" stop-color="#abc66e"/><stop offset="0.293" stop-color="#bdbc63"/><stop offset="0.322" stop-color="#d4b353"/><stop offset="0.368" stop-color="#f6b240"/><stop offset="0.429" stop-color="#f6c829"/><stop offset="0.477" stop-color="#f3d021"/><stop offset="0.562" stop-color="#f4cd24"/><stop offset="0.648" stop-color="#f6b240"/><stop offset="0.696" stop-color="#c4b75c"/><stop offset="0.717" stop-color="#abc66e"/><stop offset="0.734" stop-color="#87d07d"/><stop offset="0.754" stop-color="#65cba6"/><stop offset="0.763" stop-color="#56c6b2"/><stop offset="0.81" stop-color="#43afc9"/><stop offset="0.866" stop-color="#4099cd"/><stop offset="0.925" stop-color="#438ac6"/><stop offset="1" stop-color="#457fc0"/></linearGradient><linearGradient id="g195"><stop offset="0" stop-color="#466fb8"/><stop offset="0.117" stop-color="#438ac6"/><stop offset="0.168" stop-color="#3fa1ce"/><stop offset="0.195" stop-color="#44b1c7"/><stop offset="0.232" stop-color="#5ac8ae"/><stop offset="0.25" stop-color="#7ace8e"/><stop offset="0.261" stop-color="#92cd78"/><stop offset="0.272" stop-color="#acc56d"/><stop offset="0.293" stop-color="#c8b458"/><stop offset="0.341" stop-color="#f6b240"/><stop offset="0.406" stop-color="#f4ce22"/><stop offset="0.435" stop-color="#f2d51e"/><stop offset="0.482" stop-color="#f1da24"/><stop offset="0.563" stop-color="#f1d821"/><stop offset="0.589" stop-color="#f3d21e"/><stop offset="0.656" stop-color="#f7ba38"/><stop offset="0.67" stop-color="#f1b243"/><stop offset="0.698" stop-color="#d1b354"/><stop offset="0.725" stop-color="#abc66e"/><stop offset="0.744" stop-color="#84cf81"/><stop offset="0.763" stop-color="#61caa9"/><stop offset="0.771" stop-color="#56c6b3"/><stop offset="0.814" stop-color="#44b3c7"/><stop offset="0.851" stop-color="#3fa1ce"/><stop offset="0.923" stop-color="#428dc8"/><stop offset="1" stop-color="#4482c2"/></linearGradient><linearGradient id="g196"><stop offset="0" stop-color="#466fb7"/><stop offset="0.117" stop-color="#4389c5"/><stop offset="0.17" stop-color="#3fa0ce"/><stop offset="0.198" stop-color="#44b3c7"/><stop offset="0.235" stop-color="#5cc9ad"/><stop offset="0.254" stop-color="#7ecf89"/><stop offset="0.261" stop-color="#8dcf7a"/><stop offset="0.274" stop-color="#acc56d"/><stop offset="0.293" stop-color="#c5b65b"/><stop offset="0.344" stop-color="#f4b241"/><stop offset="0.4" stop-color="#f5ca28"/><stop offset="0.446" stop-color="#f2d51e"/><stop offset="0.534" stop-color="#f1d821"/><stop offset="0.578" stop-color="#f3d21e"/><stop offset="0.656" stop-color="#f7b63c"/><stop offset="0.669" stop-color="#efb245"/><stop offset="0.698" stop-color="#ccb456"/><stop offset="0.722" stop-color="#adc56d"/><stop offset="0.734" stop-color="#94cd77"/><stop offset="0.744" stop-color="#81cf85"/><stop offset="0.763" stop-color="#5dc9ac"/><stop offset="0.776" stop-color="#52c3b6"/><stop offset="0.814" stop-color="#44b1c8"/><stop offset="0.858" stop-color="#3f9ecf"/><stop offset="0.923" stop-color="#438cc7"/><stop offset="1" stop-color="#4481c1"/></linearGradient><linearGradient id="g197"><stop offset="0" stop-color="#476ab5"/><stop offset="0.118" stop-color="#4483c3"/><stop offset="0.186" stop-color="#3fa1ce"/><stop offset="0.213" stop-color="#45b4c6"/><stop offset="0.248" stop-color="#5bc9ad"/><stop offset="0.259" stop-color="#71cd99"/><stop offset="0.27" stop-color="#8ccf7b"/><stop offset="0.285" stop-color="#acc56d"/><stop offset="0.331" stop-color="#d1b354"/><stop offset="0.394" stop-color="#f6b43e"/><stop offset="0.472" stop-color="#f6c72b"/><stop offset="0.562" stop-color="#f7c42e"/><stop offset="0.626" stop-color="#f3b242"/><stop offset="0.656" stop-color="#e1b24d"/><stop offset="0.69" stop-color="#c1b95f"/><stop offset="0.717" stop-color="#a0ca72"/><stop offset="0.73" stop-color="#85d080"/><stop offset="0.747" stop-color="#65cba6"/><stop offset="0.758" stop-color="#56c6b3"/><stop offset="0.813" stop-color="#40a9cc"/><stop offset="0.866" stop-color="#4096cc"/><stop offset="0.926" stop-color="#4487c5"/><stop offset="1" stop-color="#457dbf"/></linearGradient><linearGradient id="g198"><stop offset="0" stop-color="#4863b2"/><stop offset="0.12" stop-color="#457abd"/><stop offset="0.195" stop-color="#3f9ace"/><stop offset="0.232" stop-color="#43b1c8"/><stop offset="0.267" stop-color="#58c8b0"/><stop offset="0.283" stop-color="#7bce8d"/><stop offset="0.291" stop-color="#88d07c"/><stop offset="0.326" stop-color="#abc66e"/><stop offset="0.408" stop-color="#ceb456"/><stop offset="0.469" stop-color="#e1b24d"/><stop offset="0.558" stop-color="#deb24f"/><stop offset="0.635" stop-color="#c2b95e"/><stop offset="0.667" stop-color="#b2c36b"/><stop offset="0.693" stop-color="#9ccb74"/><stop offset="0.706" stop-color="#86d07f"/><stop offset="0.726" stop-color="#62caa8"/><stop offset="0.736" stop-color="#55c5b3"/><stop offset="0.768" stop-color="#44b3c7"/><stop offset="0.811" stop-color="#3f9fce"/><stop offset="0.909" stop-color="#4481c1"/><stop offset="1" stop-color="#4576bb"/></linearGradient><linearGradient id="g199"><stop offset="0" stop-color="#4a5bae"/><stop offset="0.123" stop-color="#466eb7"/><stop offset="0.202" stop-color="#438cc7"/><stop offset="0.242" stop-color="#3fa1ce"/><stop offset="0.266" stop-color="#44b2c7"/><stop offset="0.29" stop-color="#52c3b6"/><stop offset="0.314" stop-color="#5ec9ab"/><stop offset="0.349" stop-color="#79ce90"/><stop offset="0.382" stop-color="#8ccf7a"/><stop offset="0.459" stop-color="#aac66e"/><stop offset="0.563" stop-color="#a7c76f"/><stop offset="0.645" stop-color="#85d080"/><stop offset="0.69" stop-color="#5ec9ab"/><stop offset="0.733" stop-color="#45b4c6"/><stop offset="0.765" stop-color="#3fa0ce"/><stop offset="0.87" stop-color="#457ec0"/><stop offset="0.99" stop-color="#466eb7"/><stop offset="1" stop-color="#476db6"/></linearGradient><linearGradient id="g200"><stop offset="0" stop-color="#4c50aa"/><stop offset="0.133" stop-color="#4863b2"/><stop offset="0.216" stop-color="#457dbf"/><stop offset="0.282" stop-color="#3fa1ce"/><stop offset="0.362" stop-color="#4abcc0"/><stop offset="0.486" stop-color="#57c7b1"/><stop offset="0.587" stop-color="#53c3b6"/><stop offset="0.667" stop-color="#46b7c4"/><stop offset="0.728" stop-color="#3f9ccf"/><stop offset="0.79" stop-color="#4483c2"/><stop offset="0.91" stop-color="#476bb6"/><stop offset="1" stop-color="#4863b2"/></linearGradient><linearGradient id="g201"><stop offset="0" stop-color="#4c47a6"/><stop offset="0.138" stop-color="#4b57ad"/><stop offset="0.243" stop-color="#4673ba"/><stop offset="0.309" stop-color="#428dc8"/><stop offset="0.419" stop-color="#3fa0ce"/><stop offset="0.563" stop-color="#3fa2ce"/><stop offset="0.669" stop-color="#4194cb"/><stop offset="0.795" stop-color="#466fb8"/><stop offset="0.947" stop-color="#4a5daf"/><stop offset="1" stop-color="#4a59ad"/></linearGradient><linearGradient id="g202"><stop offset="0" stop-color="#4a40a2"/><stop offset="0.16" stop-color="#4c4eaa"/><stop offset="0.282" stop-color="#476bb6"/><stop offset="0.432" stop-color="#4580c1"/><stop offset="0.59" stop-color="#457fc0"/><stop offset="0.709" stop-color="#466fb8"/><stop offset="0.818" stop-color="#495daf"/><stop offset="1" stop-color="#4c4faa"/></linearGradient><linearGradient id="g203"><stop offset="0" stop-color="#493ca1"/><stop offset="0.198" stop-color="#4d49a8"/><stop offset="0.346" stop-color="#495fb0"/><stop offset="0.549" stop-color="#4867b4"/><stop offset="0.733" stop-color="#4a59ad"/><stop offset="1" stop-color="#4d49a8"/></linearGradient><linearGradient id="g204"><stop offset="0" stop-color="#4a3da1"/><stop offset="0.283" stop-color="#4d4aa8"/><stop offset="0.566" stop-color="#4c52ab"/><stop offset="1" stop-color="#4c48a7"/></linearGradient><linearGradient id="g205"><stop offset="0" stop-color="#4b44a5"/><stop offset="0.221" stop-color="#4b42a4"/><stop offset="0.64" stop-color="#4c46a6"/><stop offset="1" stop-color="#4d4ca9"/></linearGradient><linearGradient id="g206"><stop offset="0" stop-color="#4c50aa"/><stop offset="0.184" stop-color="#4d4ba9"/><stop offset="0.35" stop-color="#493ba0"/><stop offset="0.63" stop-color="#4a41a3"/><stop offset="0.867" stop-color="#4b53ab"/><stop offset="1" stop-color="#4b55ac"/></linearGradient><linearGradient id="g207"><stop offset="0" stop-color="#495eb0"/><stop offset="0.176" stop-color="#4b57ad"/><stop offset="0.306" stop-color="#493ca1"/><stop offset="0.605" stop-color="#493ca0"/><stop offset="0.768" stop-color="#4b55ac"/><stop offset="1" stop-color="#4961b1"/></linearGradient><linearGradient id="g208"><stop offset="0" stop-color="#476ab5"/><stop offset="0.173" stop-color="#4962b1"/><stop offset="0.291" stop-color="#4b41a3"/><stop offset="0.352" stop-color="#48399e"/><stop offset="0.608" stop-color="#493da1"/><stop offset="0.726" stop-color="#4b57ad"/><stop offset="0.886" stop-color="#4867b4"/><stop offset="1" stop-color="#476cb6"/></linearGradient><linearGradient id="g209"><stop offset="0" stop-color="#4671b8"/><stop offset="0.171" stop-color="#4868b4"/><stop offset="0.293" stop-color="#4b42a4"/><stop offset="0.344" stop-color="#483a9f"/><stop offset="0.605" stop-color="#493ca1"/><stop offset="0.707" stop-color="#4b56ad"/><stop offset="0.848" stop-color="#476ab5"/><stop offset="1" stop-color="#4672b9"/></linearGradient><linearGradient id="g210"><stop offset="0" stop-color="#4670b8"/><stop offset="0.171" stop-color="#4867b4"/><stop offset="0.291" stop-color="#4b42a4"/><stop offset="0.346" stop-color="#48399e"/><stop offset="0.606" stop-color="#493ca0"/><stop offset="0.709" stop-color="#4b56ac"/><stop offset="0.848" stop-color="#4769b5"/><stop offset="1" stop-color="#4671b9"/></linearGradient><linearGradient id="g211"><stop offset="0" stop-color="#4769b5"/><stop offset="0.173" stop-color="#4960b1"/><stop offset="0.282" stop-color="#4b41a3"/><stop offset="0.352" stop-color="#48389d"/><stop offset="0.614" stop-color="#493ba0"/><stop offset="0.733" stop-color="#4b55ac"/><stop offset="0.893" stop-color="#4864b3"/><stop offset="1" stop-color="#4769b5"/></linearGradient><linearGradient id="g212"><stop offset="0" stop-color="#4a5caf"/><stop offset="0.174" stop-color="#4b54ac"/><stop offset="0.306" stop-color="#48399e"/><stop offset="0.608" stop-color="#48389d"/><stop offset="0.795" stop-color="#4b53ab"/><stop offset="1" stop-color="#4a5caf"/></linearGradient><linearGradient id="g213"><stop offset="0" stop-color="#4c4da9"/><stop offset="0.181" stop-color="#4c46a6"/><stop offset="0.291" stop-color="#48389d"/><stop offset="0.622" stop-color="#47379c"/><stop offset="0.907" stop-color="#4d4aa8"/><stop offset="1" stop-color="#4c4da9"/></linearGradient><linearGradient id="g214"><stop offset="0" stop-color="#4a3fa2"/><stop offset="0.283" stop-color="#47369b"/><stop offset="0.67" stop-color="#47379c"/><stop offset="1" stop-color="#4a3fa2"/></linearGradient><linearGradient id="g215"><stop offset="0" stop-color="#48389d"/><stop offset="0.65" stop-color="#463499"/><stop offset="1" stop-color="#48389d"/></linearGradient><linearGradient id="g216"><stop offset="0" stop-color="#46359a"/><stop offset="1" stop-color="#46359a"/></linearGradient><linearGradient id="g217"><stop offset="0" stop-color="#47369b"/><stop offset="0.8" stop-color="#47359a"/><stop offset="1" stop-color="#47369b"/></linearGradient><linearGradient id="g218"><stop offset="0" stop-color="#48399e"/><stop offset="0.659" stop-color="#463499"/><stop offset="1" stop-color="#493a9f"/></linearGradient><linearGradient id="g219"><stop offset="0" stop-color="#4a40a3"/><stop offset="0.414" stop-color="#463499"/><stop offset="0.723" stop-color="#48399e"/><stop offset="0.907" stop-color="#4b43a4"/><stop offset="1" stop-color="#4c45a5"/></linearGradient><linearGradient id="g220"><stop offset="0" stop-color="#4d4ba8"/><stop offset="0.154" stop-color="#4b43a5"/><stop offset="0.314" stop-color="#47369b"/><stop offset="0.667" stop-color="#48389d"/><stop offset="0.861" stop-color="#4c4faa"/><stop offset="1" stop-color="#4b52ab"/></linearGradient><linearGradient id="g221"><stop offset="0" stop-color="#4b55ac"/><stop offset="0.141" stop-color="#4c4da9"/><stop offset="0.29" stop-color="#48389d"/><stop offset="0.643" stop-color="#48389d"/><stop offset="0.806" stop-color="#4b54ac"/><stop offset="0.928" stop-color="#4a5caf"/><stop offset="1" stop-color="#495eb0"/></linearGradient><linearGradient id="g222"><stop offset="0" stop-color="#4a5bae"/><stop offset="0.136" stop-color="#4b53ab"/><stop offset="0.286" stop-color="#48399e"/><stop offset="0.637" stop-color="#48389d"/><stop offset="0.782" stop-color="#4b54ac"/><stop offset="0.851" stop-color="#495fb0"/><stop offset="1" stop-color="#4864b3"/></linearGradient><linearGradient id="g223"><stop offset="0" stop-color="#4a5bae"/><stop offset="0.136" stop-color="#4b53ab"/><stop offset="0.286" stop-color="#48399e"/><stop offset="0.637" stop-color="#48389d"/><stop offset="0.784" stop-color="#4b54ac"/><stop offset="0.851" stop-color="#495fb0"/><stop offset="1" stop-color="#4864b2"/></linearGradient><linearGradient id="g224"><stop offset="0" stop-color="#4b54ac"/><stop offset="0.142" stop-color="#4d4ca9"/><stop offset="0.29" stop-color="#48389d"/><stop offset="0.645" stop-color="#48389d"/><stop offset="0.811" stop-color="#4b54ac"/><stop offset="1" stop-color="#495daf"/></linearGradient><linearGradient id="g225"><stop offset="0" stop-color="#4d4aa8"/><stop offset="0.155" stop-color="#4b43a4"/><stop offset="0.317" stop-color="#47369b"/><stop offset="0.672" stop-color="#48399e"/><stop offset="0.861" stop-color="#4c4ea9"/><stop offset="1" stop-color="#4c51ab"/></linearGradient><linearGradient id="g226"><stop offset="0" stop-color="#4a3fa2"/><stop offset="0.434" stop-color="#463499"/><stop offset="0.736" stop-color="#48399e"/><stop offset="0.922" stop-color="#4b43a4"/><stop offset="1" stop-color="#4b44a5"/></linearGradient><linearGradient id="g227"><stop offset="0" stop-color="#48389d"/><stop offset="0.67" stop-color="#46359a"/><stop offset="1" stop-color="#483a9f"/></linearGradient><linearGradient id="g228"><stop offset="0" stop-color="#46359a"/><stop offset="1" stop-color="#47369b"/></linearGradient><linearGradient id="g229"><stop offset="0" stop-color="#463398"/><stop offset="1" stop-color="#463499"/></linearGradient><linearGradient id="g230"><stop offset="0" stop-color="#453297"/><stop offset="0.712" stop-color="#463398"/><stop offset="1" stop-color="#453297"/></linearGradient><linearGradient id="g231"><stop offset="0" stop-color="#453398"/><stop offset="0.346" stop-color="#47379c"/><stop offset="0.726" stop-color="#463398"/><stop offset="1" stop-color="#453398"/></linearGradient><linearGradient id="g232"><stop offset="0" stop-color="#463499"/><stop offset="0.314" stop-color="#47379c"/><stop offset="0.69" stop-color="#47369b"/><stop offset="1" stop-color="#463499"/></linearGradient><linearGradient id="g233"><stop offset="0" stop-color="#46359a"/><stop offset="0.302" stop-color="#47379c"/><stop offset="0.634" stop-color="#493a9f"/><stop offset="0.846" stop-color="#46359a"/><stop offset="1" stop-color="#47359a"/></linearGradient><linearGradient id="g234"><stop offset="0" stop-color="#47379c"/><stop offset="0.299" stop-color="#48389d"/><stop offset="0.466" stop-color="#493ca1"/><stop offset="0.694" stop-color="#48389d"/><stop offset="1" stop-color="#47389d"/></linearGradient><linearGradient id="g235"><stop offset="0" stop-color="#48389d"/><stop offset="0.301" stop-color="#48389d"/><stop offset="0.451" stop-color="#4a3da1"/><stop offset="0.691" stop-color="#48399e"/><stop offset="1" stop-color="#483a9f"/></linearGradient><linearGradient id="g236"><stop offset="0" stop-color="#493a9f"/><stop offset="0.307" stop-color="#48399e"/><stop offset="0.488" stop-color="#493ca0"/><stop offset="0.864" stop-color="#493ba0"/><stop offset="1" stop-color="#493ca1"/></linearGradient><linearGradient id="g237"><stop offset="0" stop-color="#493ba0"/><stop offset="0.317" stop-color="#48399e"/><stop offset="0.859" stop-color="#493ca1"/><stop offset="1" stop-color="#4a3ea2"/></linearGradient><linearGradient id="g238"><stop offset="0" stop-color="#493ba0"/><stop offset="0.334" stop-color="#48389d"/><stop offset="0.904" stop-color="#493ca1"/><stop offset="1" stop-color="#4a3ea1"/></linearGradient><linearGradient id="g239"><stop offset="0" stop-color="#48399e"/><stop offset="0.517" stop-color="#47379c"/><stop offset="1" stop-color="#493ba0"/></linearGradient><linearGradient id="g240"><stop offset="0" stop-color="#47389d"/><stop offset="0.774" stop-color="#47379c"/><stop offset="1" stop-color="#48399e"/></linearGradient><linearGradient id="g241"><stop offset="0" stop-color="#463398"/><stop offset="1" stop-color="#463398"/></linearGradient><linearGradient id="cbg" x1="0" y1="0" x2="0" y2="1"><stop offset="0.000" stop-color="#f0e234"/><stop offset="0.016" stop-color="#f0e02c"/><stop offset="0.072" stop-color="#f2d41c"/><stop offset="0.133" stop-color="#f8c230"/><stop offset="0.180" stop-color="#f6b240"/><stop offset="0.226" stop-color="#e0b24e"/><stop offset="0.273" stop-color="#c8b458"/><stop offset="0.320" stop-color="#b8c068"/><stop offset="0.367" stop-color="#a6c870"/><stop offset="0.413" stop-color="#88d07c"/><stop offset="0.460" stop-color="#6ccca0"/><stop offset="0.490" stop-color="#58c8b0"/><stop offset="0.560" stop-color="#48bac2"/><stop offset="0.600" stop-color="#40aacc"/><stop offset="0.655" stop-color="#3f9ccf"/><stop offset="0.725" stop-color="#4486c4"/><stop offset="0.795" stop-color="#4670b8"/><stop offset="0.865" stop-color="#4a5aae"/><stop offset="0.910" stop-color="#4d4aa8"/><stop offset="0.950" stop-color="#493ba0"/><stop offset="1.000" stop-color="#453297"/></linearGradient></defs>
<rect width="1650" height="1110" fill="#fff"/>
<g shape-rendering="crispEdges"><rect x="104" y="598" width="1250" height="1" fill="url(#g1)"/><rect x="104" y="599" width="1250" height="1" fill="url(#g1)"/><rect x="104" y="600" width="1250" height="1" fill="url(#g1)"/><rect x="104" y="601" width="1250" height="1" fill="url(#g1)"/><rect x="104" y="602" width="1250" height="1" fill="url(#g1)"/><rect x="104" y="603" width="1250" height="1" fill="url(#g1)"/><rect x="104" y="604" width="1250" height="1" fill="url(#g1)"/><rect x="104" y="605" width="1250" height="1" fill="url(#g1)"/><rect x="104" y="606" width="1250" height="1" fill="url(#g1)"/><rect x="104" y="607" width="1250" height="1" fill="url(#g1)"/><rect x="104" y="608" width="1250" height="1" fill="url(#g1)"/><rect x="104" y="609" width="1250" height="1" fill="url(#g1)"/><rect x="104" y="610" width="1250" height="1" fill="url(#g1)"/><rect x="104" y="611" width="1250" height="1" fill="url(#g1)"/><rect x="104" y="612" width="1250" height="1" fill="url(#g1)"/><rect x="104" y="613" width="1250" height="1" fill="url(#g1)"/><rect x="104" y="614" width="1250" height="1" fill="url(#g1)"/><rect x="104" y="615" width="1250" height="1" fill="url(#g1)"/><rect x="104" y="616" width="1250" height="1" fill="url(#g1)"/><rect x="104" y="617" width="1250" height="1" fill="url(#g1)"/><rect x="104" y="618" width="1250" height="1" fill="url(#g1)"/><rect x="104" y="619" width="1250" height="1" fill="url(#g1)"/><rect x="104" y="620" width="1250" height="1" fill="url(#g1)"/><rect x="104" y="621" width="1250" height="1" fill="url(#g1)"/><rect x="104" y="622" width="1250" height="1" fill="url(#g1)"/><rect x="104" y="623" width="1250" height="1" fill="url(#g1)"/><rect x="104" y="624" width="1250" height="1" fill="url(#g2)"/><rect x="104" y="625" width="1250" height="1" fill="url(#g2)"/><rect x="104" y="626" width="1250" height="1" fill="url(#g2)"/><rect x="104" y="627" width="1250" height="1" fill="url(#g2)"/><rect x="104" y="628" width="1250" height="1" fill="url(#g3)"/><rect x="104" y="629" width="1250" height="1" fill="url(#g4)"/><rect x="104" y="630" width="1250" height="1" fill="url(#g4)"/><rect x="104" y="631" width="1250" height="1" fill="url(#g4)"/><rect x="104" y="632" width="1250" height="1" fill="url(#g5)"/><rect x="104" y="633" width="1250" height="1" fill="url(#g6)"/><rect x="104" y="634" width="1250" height="1" fill="url(#g7)"/><rect x="104" y="635" width="1250" height="1" fill="url(#g8)"/><rect x="104" y="636" width="1250" height="1" fill="url(#g9)"/><rect x="104" y="637" width="1250" height="1" fill="url(#g10)"/><rect x="104" y="638" width="1250" height="1" fill="url(#g11)"/><rect x="104" y="639" width="1250" height="1" fill="url(#g12)"/><rect x="104" y="640" width="1250" height="1" fill="url(#g13)"/><rect x="104" y="641" width="1250" height="1" fill="url(#g14)"/><rect x="104" y="642" width="1250" height="1" fill="url(#g15)"/><rect x="104" y="643" width="1250" height="1" fill="url(#g16)"/><rect x="104" y="644" width="1250" height="1" fill="url(#g17)"/><rect x="104" y="645" width="1250" height="1" fill="url(#g18)"/><rect x="104" y="646" width="1250" height="1" fill="url(#g19)"/><rect x="104" y="647" width="1250" height="1" fill="url(#g20)"/><rect x="104" y="648" width="1250" height="1" fill="url(#g21)"/><rect x="104" y="649" width="1250" height="1" fill="url(#g22)"/><rect x="104" y="650" width="1250" height="1" fill="url(#g23)"/><rect x="104" y="651" width="1250" height="1" fill="url(#g24)"/><rect x="104" y="652" width="1250" height="1" fill="url(#g25)"/><rect x="104" y="653" width="1250" height="1" fill="url(#g26)"/><rect x="104" y="654" width="1250" height="1" fill="url(#g27)"/><rect x="104" y="655" width="1250" height="1" fill="url(#g28)"/><rect x="104" y="656" width="1250" height="1" fill="url(#g29)"/><rect x="104" y="657" width="1250" height="1" fill="url(#g30)"/><rect x="104" y="658" width="1250" height="1" fill="url(#g31)"/><rect x="104" y="659" width="1250" height="1" fill="url(#g32)"/><rect x="104" y="660" width="1250" height="1" fill="url(#g33)"/><rect x="104" y="661" width="1250" height="1" fill="url(#g34)"/><rect x="104" y="662" width="1250" height="1" fill="url(#g35)"/><rect x="104" y="663" width="1250" height="1" fill="url(#g36)"/><rect x="104" y="664" width="1250" height="1" fill="url(#g37)"/><rect x="104" y="665" width="1250" height="1" fill="url(#g38)"/><rect x="104" y="666" width="1250" height="1" fill="url(#g39)"/><rect x="104" y="667" width="1250" height="1" fill="url(#g40)"/><rect x="104" y="668" width="1250" height="1" fill="url(#g41)"/><rect x="104" y="669" width="1250" height="1" fill="url(#g42)"/><rect x="104" y="670" width="1250" height="1" fill="url(#g43)"/><rect x="104" y="671" width="1250" height="1" fill="url(#g44)"/><rect x="104" y="672" width="1250" height="1" fill="url(#g45)"/><rect x="104" y="673" width="1250" height="1" fill="url(#g46)"/><rect x="104" y="674" width="1250" height="1" fill="url(#g47)"/><rect x="104" y="675" width="1250" height="1" fill="url(#g48)"/><rect x="104" y="676" width="1250" height="1" fill="url(#g49)"/><rect x="104" y="677" width="1250" height="1" fill="url(#g50)"/><rect x="104" y="678" width="1250" height="1" fill="url(#g51)"/><rect x="104" y="679" width="1250" height="1" fill="url(#g52)"/><rect x="104" y="680" width="1250" height="1" fill="url(#g53)"/><rect x="104" y="681" width="1250" height="1" fill="url(#g5)"/><rect x="104" y="682" width="1250" height="1" fill="url(#g4)"/><rect x="104" y="683" width="1250" height="1" fill="url(#g4)"/><rect x="104" y="684" width="1250" height="1" fill="url(#g4)"/><rect x="104" y="685" width="1250" height="1" fill="url(#g3)"/><rect x="104" y="686" width="1250" height="1" fill="url(#g2)"/><rect x="104" y="687" width="1250" height="1" fill="url(#g2)"/><rect x="104" y="688" width="1250" height="1" fill="url(#g2)"/><rect x="104" y="689" width="1250" height="1" fill="url(#g1)"/><rect x="104" y="690" width="1250" height="1" fill="url(#g1)"/><rect x="104" y="691" width="1250" height="1" fill="url(#g1)"/><rect x="104" y="692" width="1250" height="1" fill="url(#g1)"/><rect x="104" y="693" width="1250" height="1" fill="url(#g1)"/><rect x="104" y="694" width="1250" height="1" fill="url(#g1)"/><rect x="104" y="695" width="1250" height="1" fill="url(#g1)"/><rect x="104" y="696" width="1250" height="1" fill="url(#g1)"/><rect x="104" y="697" width="1250" height="1" fill="url(#g1)"/><rect x="104" y="698" width="1250" height="1" fill="url(#g1)"/><rect x="104" y="699" width="1250" height="1" fill="url(#g1)"/><rect x="104" y="700" width="1250" height="1" fill="url(#g1)"/><rect x="104" y="701" width="1250" height="1" fill="url(#g1)"/><rect x="104" y="702" width="1250" height="1" fill="url(#g1)"/><rect x="104" y="703" width="1250" height="1" fill="url(#g1)"/><rect x="104" y="704" width="1250" height="1" fill="url(#g1)"/><rect x="104" y="705" width="1250" height="1" fill="url(#g1)"/><rect x="104" y="706" width="1250" height="1" fill="url(#g1)"/><rect x="104" y="707" width="1250" height="1" fill="url(#g1)"/><rect x="104" y="708" width="1250" height="1" fill="url(#g1)"/><rect x="104" y="709" width="1250" height="1" fill="url(#g1)"/><rect x="104" y="710" width="1250" height="1" fill="url(#g1)"/><rect x="104" y="711" width="1250" height="1" fill="url(#g1)"/><rect x="104" y="712" width="1250" height="1" fill="url(#g1)"/><rect x="104" y="713" width="1250" height="1" fill="url(#g1)"/><rect x="104" y="714" width="1250" height="1" fill="url(#g1)"/><rect x="104" y="715" width="1250" height="1" fill="url(#g1)"/><rect x="104" y="716" width="1250" height="0.5" fill="url(#g1)"/><rect x="104" y="716.5" width="1250" height="119" fill="url(#g54)"/><rect x="104" y="835.5" width="1250" height="0.5" fill="url(#g55)"/><rect x="104" y="836" width="1250" height="1" fill="url(#g56)"/><rect x="104" y="837" width="1250" height="1" fill="url(#g57)"/><rect x="104" y="838" width="1250" height="1" fill="url(#g58)"/><rect x="104" y="839" width="1250" height="1" fill="url(#g59)"/><rect x="104" y="840" width="1250" height="1" fill="url(#g60)"/><rect x="104" y="841" width="1250" height="1" fill="url(#g61)"/><rect x="104" y="842" width="1250" height="1" fill="url(#g62)"/><rect x="104" y="843" width="1250" height="1" fill="url(#g63)"/><rect x="104" y="844" width="1250" height="1" fill="url(#g64)"/><rect x="104" y="845" width="1250" height="1" fill="url(#g64)"/><rect x="104" y="846" width="1250" height="1" fill="url(#g64)"/><rect x="104" y="847" width="1250" height="1" fill="url(#g64)"/><rect x="104" y="848" width="1250" height="1" fill="url(#g64)"/><rect x="104" y="849" width="1250" height="1" fill="url(#g64)"/><rect x="104" y="850" width="1250" height="1" fill="url(#g65)"/><rect x="104" y="851" width="1250" height="1" fill="url(#g66)"/><rect x="104" y="852" width="1250" height="1" fill="url(#g67)"/><rect x="104" y="853" width="1250" height="1" fill="url(#g68)"/><rect x="104" y="854" width="1250" height="1" fill="url(#g69)"/><rect x="104" y="855" width="1250" height="1" fill="url(#g70)"/><rect x="104" y="856" width="1250" height="1" fill="url(#g71)"/><rect x="104" y="857" width="1250" height="1" fill="url(#g72)"/><rect x="104" y="858" width="1250" height="1" fill="url(#g73)"/><rect x="104" y="859" width="1250" height="1" fill="url(#g74)"/><rect x="104" y="860" width="1250" height="1" fill="url(#g60)"/><rect x="104" y="861" width="1250" height="1" fill="url(#g75)"/><rect x="104" y="862" width="1250" height="1" fill="url(#g64)"/><rect x="104" y="863" width="1250" height="1" fill="url(#g64)"/><rect x="104" y="864" width="1250" height="1" fill="url(#g64)"/><rect x="104" y="865" width="1250" height="1" fill="url(#g64)"/><rect x="104" y="866" width="1250" height="1" fill="url(#g76)"/><rect x="104" y="867" width="1250" height="1" fill="url(#g77)"/><rect x="104" y="868" width="1250" height="1" fill="url(#g78)"/><rect x="104" y="869" width="1250" height="1" fill="url(#g79)"/><rect x="104" y="870" width="1250" height="1" fill="url(#g80)"/><rect x="104" y="871" width="1250" height="1" fill="url(#g81)"/><rect x="104" y="872" width="1250" height="1" fill="url(#g82)"/><rect x="104" y="873" width="1250" height="1" fill="url(#g83)"/><rect x="104" y="874" width="1250" height="1" fill="url(#g84)"/><rect x="104" y="875" width="1250" height="1" fill="url(#g85)"/><rect x="104" y="876" width="1250" height="1" fill="url(#g86)"/><rect x="104" y="877" width="1250" height="1" fill="url(#g87)"/><rect x="104" y="878" width="1250" height="1" fill="url(#g88)"/><rect x="104" y="879" width="1250" height="1" fill="url(#g89)"/><rect x="104" y="880" width="1250" height="1" fill="url(#g90)"/><rect x="104" y="881" width="1250" height="1" fill="url(#g91)"/><rect x="104" y="882" width="1250" height="1" fill="url(#g91)"/><rect x="104" y="883" width="1250" height="1" fill="url(#g92)"/><rect x="104" y="884" width="1250" height="1" fill="url(#g93)"/><rect x="104" y="885" width="1250" height="1" fill="url(#g94)"/><rect x="104" y="886" width="1250" height="1" fill="url(#g95)"/><rect x="104" y="887" width="1250" height="1" fill="url(#g96)"/><rect x="104" y="888" width="1250" height="1" fill="url(#g97)"/><rect x="104" y="889" width="1250" height="1" fill="url(#g98)"/><rect x="104" y="890" width="1250" height="1" fill="url(#g99)"/><rect x="104" y="891" width="1250" height="1" fill="url(#g100)"/><rect x="104" y="892" width="1250" height="1" fill="url(#g101)"/><rect x="104" y="893" width="1250" height="1" fill="url(#g102)"/><rect x="104" y="894" width="1250" height="1" fill="url(#g103)"/><rect x="104" y="895" width="1250" height="1" fill="url(#g104)"/><rect x="104" y="896" width="1250" height="1" fill="url(#g105)"/><rect x="104" y="897" width="1250" height="1" fill="url(#g106)"/><rect x="104" y="898" width="1250" height="1" fill="url(#g107)"/><rect x="104" y="899" width="1250" height="1" fill="url(#g108)"/><rect x="104" y="900" width="1250" height="1" fill="url(#g109)"/><rect x="104" y="901" width="1250" height="1" fill="url(#g110)"/><rect x="104" y="902" width="1250" height="1" fill="url(#g111)"/><rect x="104" y="903" width="1250" height="1" fill="url(#g112)"/><rect x="104" y="904" width="1250" height="1" fill="url(#g113)"/><rect x="104" y="905" width="1250" height="1" fill="url(#g114)"/><rect x="104" y="906" width="1250" height="1" fill="url(#g91)"/><rect x="104" y="907" width="1250" height="1" fill="url(#g91)"/><rect x="104" y="908" width="1250" height="1" fill="url(#g115)"/><rect x="104" y="909" width="1250" height="1" fill="url(#g116)"/><rect x="104" y="910" width="1250" height="1" fill="url(#g117)"/><rect x="104" y="911" width="1250" height="1" fill="url(#g118)"/><rect x="104" y="912" width="1250" height="1" fill="url(#g119)"/><rect x="104" y="913" width="1250" height="1" fill="url(#g120)"/><rect x="104" y="914" width="1250" height="1" fill="url(#g121)"/><rect x="104" y="915" width="1250" height="1" fill="url(#g122)"/><rect x="104" y="916" width="1250" height="1" fill="url(#g123)"/><rect x="104" y="917" width="1250" height="1" fill="url(#g124)"/><rect x="104" y="918" width="1250" height="1" fill="url(#g125)"/><rect x="104" y="919" width="1250" height="1" fill="url(#g126)"/><rect x="104" y="920" width="1250" height="1" fill="url(#g127)"/><rect x="104" y="921" width="1250" height="1" fill="url(#g128)"/><rect x="104" y="922" width="1250" height="1" fill="url(#g64)"/><rect x="104" y="923" width="1250" height="1" fill="url(#g64)"/><rect x="104" y="924" width="1250" height="1" fill="url(#g64)"/><rect x="104" y="925" width="1250" height="1" fill="url(#g64)"/><rect x="104" y="926" width="1250" height="1" fill="url(#g129)"/><rect x="104" y="927" width="1250" height="1" fill="url(#g130)"/><rect x="104" y="928" width="1250" height="1" fill="url(#g131)"/><rect x="104" y="929" width="1250" height="1" fill="url(#g132)"/><rect x="104" y="930" width="1250" height="1" fill="url(#g133)"/><rect x="104" y="931" width="1250" height="1" fill="url(#g134)"/><rect x="104" y="932" width="1250" height="1" fill="url(#g135)"/><rect x="104" y="933" width="1250" height="1" fill="url(#g136)"/><rect x="104" y="934" width="1250" height="1" fill="url(#g137)"/><rect x="104" y="935" width="1250" height="1" fill="url(#g138)"/><rect x="104" y="936" width="1250" height="1" fill="url(#g139)"/><rect x="104" y="937" width="1250" height="1" fill="url(#g140)"/><rect x="104" y="938" width="1250" height="1" fill="url(#g64)"/><rect x="104" y="939" width="1250" height="1" fill="url(#g64)"/><rect x="104" y="940" width="1250" height="1" fill="url(#g64)"/><rect x="104" y="941" width="1250" height="1" fill="url(#g64)"/><rect x="104" y="942" width="1250" height="1" fill="url(#g64)"/><rect x="104" y="943" width="1250" height="1" fill="url(#g64)"/><rect x="104" y="944" width="1250" height="1" fill="url(#g141)"/><rect x="104" y="945" width="1250" height="1" fill="url(#g55)"/><rect x="104" y="946" width="1250" height="1" fill="url(#g142)"/><rect x="104" y="947" width="1250" height="1" fill="url(#g143)"/><rect x="104" y="948" width="1250" height="1" fill="url(#g58)"/><rect x="104" y="949" width="1250" height="1" fill="url(#g59)"/><rect x="104" y="950" width="1250" height="1" fill="url(#g144)"/><rect x="104" y="951" width="1250" height="1" fill="url(#g145)"/><rect x="104" y="952" width="1250" height="1" fill="url(#g62)"/><rect x="104" y="953" width="1250" height="1" fill="url(#g146)"/><rect x="104" y="954" width="1250" height="1" fill="url(#g147)"/><rect x="104" y="955" width="1250" height="1" fill="url(#g147)"/><rect x="104" y="956" width="1250" height="1" fill="url(#g147)"/><rect x="104" y="957" width="1250" height="1" fill="url(#g147)"/><rect x="104" y="958" width="1250" height="1" fill="url(#g147)"/><rect x="104" y="959" width="1250" height="1" fill="url(#g148)"/><rect x="104" y="960" width="1250" height="1" fill="url(#g149)"/><rect x="104" y="961" width="1250" height="1" fill="url(#g150)"/><rect x="104" y="962" width="1250" height="1" fill="url(#g151)"/><rect x="104" y="963" width="1250" height="1" fill="url(#g152)"/><rect x="104" y="964" width="1250" height="1" fill="url(#g153)"/><rect x="104" y="965" width="1250" height="1" fill="url(#g154)"/><rect x="104" y="966" width="1250" height="1" fill="url(#g155)"/><rect x="104" y="967" width="1250" height="1" fill="url(#g156)"/><rect x="104" y="968" width="1250" height="1" fill="url(#g157)"/><rect x="104" y="969" width="1250" height="1" fill="url(#g158)"/><rect x="104" y="970" width="1250" height="1" fill="url(#g159)"/><rect x="104" y="971" width="1250" height="1" fill="url(#g160)"/><rect x="104" y="972" width="1250" height="1" fill="url(#g161)"/><rect x="104" y="973" width="1250" height="1" fill="url(#g162)"/><rect x="104" y="974" width="1250" height="1" fill="url(#g147)"/><rect x="104" y="975" width="1250" height="1" fill="url(#g147)"/><rect x="104" y="976" width="1250" height="1" fill="url(#g148)"/><rect x="104" y="977" width="1250" height="1" fill="url(#g163)"/><rect x="104" y="978" width="1250" height="1" fill="url(#g164)"/><rect x="104" y="979" width="1250" height="1" fill="url(#g165)"/><rect x="104" y="980" width="1250" height="1" fill="url(#g166)"/><rect x="104" y="981" width="1250" height="1" fill="url(#g167)"/><rect x="104" y="982" width="1250" height="1" fill="url(#g168)"/><rect x="104" y="983" width="1250" height="1" fill="url(#g169)"/><rect x="104" y="984" width="1250" height="1" fill="url(#g170)"/><rect x="104" y="985" width="1250" height="1" fill="url(#g171)"/><rect x="104" y="986" width="1250" height="1" fill="url(#g172)"/><rect x="104" y="987" width="1250" height="1" fill="url(#g173)"/><rect x="104" y="988" width="1250" height="1" fill="url(#g174)"/><rect x="104" y="989" width="1250" height="1" fill="url(#g150)"/><rect x="104" y="990" width="1250" height="1" fill="url(#g149)"/><rect x="104" y="991" width="1250" height="1" fill="url(#g149)"/><rect x="104" y="992" width="1250" height="1" fill="url(#g175)"/><rect x="104" y="993" width="1250" height="1" fill="url(#g176)"/><rect x="104" y="994" width="1250" height="1" fill="url(#g177)"/><rect x="104" y="995" width="1250" height="1" fill="url(#g178)"/><rect x="104" y="996" width="1250" height="1" fill="url(#g179)"/><rect x="104" y="997" width="1250" height="1" fill="url(#g180)"/><rect x="104" y="998" width="1250" height="1" fill="url(#g181)"/><rect x="104" y="999" width="1250" height="1" fill="url(#g182)"/><rect x="104" y="1000" width="1250" height="1" fill="url(#g183)"/><rect x="104" y="1001" width="1250" height="1" fill="url(#g184)"/><rect x="104" y="1002" width="1250" height="1" fill="url(#g185)"/><rect x="104" y="1003" width="1250" height="1" fill="url(#g186)"/><rect x="104" y="1004" width="1250" height="1" fill="url(#g187)"/><rect x="104" y="1005" width="1250" height="1" fill="url(#g188)"/><rect x="104" y="1006" width="1250" height="1" fill="url(#g189)"/><rect x="104" y="1007" width="1250" height="1" fill="url(#g190)"/><rect x="104" y="1008" width="1250" height="1" fill="url(#g191)"/><rect x="104" y="1009" width="1250" height="1" fill="url(#g192)"/><rect x="104" y="1010" width="1250" height="1" fill="url(#g193)"/><rect x="104" y="1011" width="1250" height="1" fill="url(#g194)"/><rect x="104" y="1012" width="1250" height="1" fill="url(#g195)"/><rect x="104" y="1013" width="1250" height="1" fill="url(#g196)"/><rect x="104" y="1014" width="1250" height="1" fill="url(#g197)"/><rect x="104" y="1015" width="1250" height="1" fill="url(#g198)"/><rect x="104" y="1016" width="1250" height="1" fill="url(#g199)"/><rect x="104" y="1017" width="1250" height="1" fill="url(#g200)"/><rect x="104" y="1018" width="1250" height="1" fill="url(#g201)"/><rect x="104" y="1019" width="1250" height="1" fill="url(#g202)"/><rect x="104" y="1020" width="1250" height="1" fill="url(#g203)"/><rect x="104" y="1021" width="1250" height="1" fill="url(#g204)"/><rect x="104" y="1022" width="1250" height="1" fill="url(#g205)"/><rect x="104" y="1023" width="1250" height="1" fill="url(#g206)"/><rect x="104" y="1024" width="1250" height="1" fill="url(#g207)"/><rect x="104" y="1025" width="1250" height="1" fill="url(#g208)"/><rect x="104" y="1026" width="1250" height="1" fill="url(#g209)"/><rect x="104" y="1027" width="1250" height="1" fill="url(#g210)"/><rect x="104" y="1028" width="1250" height="1" fill="url(#g211)"/><rect x="104" y="1029" width="1250" height="1" fill="url(#g212)"/><rect x="104" y="1030" width="1250" height="1" fill="url(#g213)"/><rect x="104" y="1031" width="1250" height="1" fill="url(#g214)"/><rect x="104" y="1032" width="1250" height="1" fill="url(#g215)"/><rect x="104" y="1033" width="1250" height="1" fill="url(#g216)"/><rect x="104" y="1034" width="1250" height="1" fill="url(#g149)"/><rect x="104" y="1035" width="1250" height="1" fill="url(#g149)"/><rect x="104" y="1036" width="1250" height="1" fill="url(#g217)"/><rect x="104" y="1037" width="1250" height="1" fill="url(#g218)"/><rect x="104" y="1038" width="1250" height="1" fill="url(#g219)"/><rect x="104" y="1039" width="1250" height="1" fill="url(#g220)"/><rect x="104" y="1040" width="1250" height="1" fill="url(#g221)"/><rect x="104" y="1041" width="1250" height="1" fill="url(#g222)"/><rect x="104" y="1042" width="1250" height="1" fill="url(#g223)"/><rect x="104" y="1043" width="1250" height="1" fill="url(#g224)"/><rect x="104" y="1044" width="1250" height="1" fill="url(#g225)"/><rect x="104" y="1045" width="1250" height="1" fill="url(#g226)"/><rect x="104" y="1046" width="1250" height="1" fill="url(#g227)"/><rect x="104" y="1047" width="1250" height="1" fill="url(#g228)"/><rect x="104" y="1048" width="1250" height="1" fill="url(#g229)"/><rect x="104" y="1049" width="1250" height="1" fill="url(#g148)"/><rect x="104" y="1050" width="1250" height="1" fill="url(#g147)"/><rect x="104" y="1051" width="1250" height="1" fill="url(#g147)"/><rect x="104" y="1052" width="1250" height="1" fill="url(#g230)"/><rect x="104" y="1053" width="1250" height="1" fill="url(#g231)"/><rect x="104" y="1054" width="1250" height="1" fill="url(#g232)"/><rect x="104" y="1055" width="1250" height="1" fill="url(#g233)"/><rect x="104" y="1056" width="1250" height="1" fill="url(#g234)"/><rect x="104" y="1057" width="1250" height="1" fill="url(#g235)"/><rect x="104" y="1058" width="1250" height="1" fill="url(#g236)"/><rect x="104" y="1059" width="1250" height="1" fill="url(#g237)"/><rect x="104" y="1060" width="1250" height="1" fill="url(#g238)"/><rect x="104" y="1061" width="1250" height="1" fill="url(#g239)"/><rect x="104" y="1062" width="1250" height="1" fill="url(#g240)"/><rect x="104" y="1063" width="1250" height="1" fill="url(#g151)"/><rect x="104" y="1064" width="1250" height="1" fill="url(#g163)"/><rect x="104" y="1065" width="1250" height="1" fill="url(#g241)"/><rect x="104" y="1066" width="1250" height="1" fill="url(#g148)"/><rect x="104" y="1067" width="1250" height="1" fill="url(#g147)"/><rect x="104" y="1068" width="1250" height="1" fill="url(#g147)"/><rect x="104" y="1069" width="1250" height="1" fill="url(#g147)"/><rect x="104" y="1070" width="1250" height="1" fill="url(#g147)"/><rect x="104" y="1071" width="1250" height="1" fill="url(#g147)"/><rect x="104" y="1072" width="1250" height="0.5" fill="url(#g147)"/></g>
<rect x="104.5" y="598.8" width="1249" height="473" fill="none" stroke="#222" stroke-width="1.3"/>
<path d="M104 716.4H1354M104 954.2H1354" stroke="#1a1a1a" stroke-width="1.8"/>
<path d="M104 835.6H1354" stroke="#555" stroke-width="2.6"/>
<path d="M173.8 598.3v4M166.1 716.4v-4M312.6 598.3v4M304.9 716.4v-4M451.4 598.3v4M443.7 716.4v-4M590.2 598.3v4M582.5 716.4v-4M729 598.3v4M721.3 716.4v-4M867.8 598.3v4M860.1 716.4v-4M1006.6 598.3v4M998.9 716.4v-4M1145.4 598.3v4M1137.7 716.4v-4M1284.2 598.3v4M1276.5 716.4v-4M104 624.4h6M1354 624.4h-10M104 656.8h6M1354 656.8h-10M104 689.2h6M1354 689.2h-10M166.1 835.6v-4M304.9 835.6v-4M443.7 835.6v-4M582.5 835.6v-4M721.3 835.6v-4M860.1 835.6v-4M998.9 835.6v-4M1137.7 835.6v-4M1276.5 835.6v-4M104 742.5h6M1354 742.5h-10M104 774.9h6M1354 774.9h-10M104 807.3h6M1354 807.3h-10M166.1 954.2v-4M304.9 954.2v-4M443.7 954.2v-4M582.5 954.2v-4M721.3 954.2v-4M860.1 954.2v-4M998.9 954.2v-4M1137.7 954.2v-4M1276.5 954.2v-4M104 861.8h6M1354 861.8h-10M104 894.2h6M1354 894.2h-10M104 926.6h6M1354 926.6h-10M166.1 1072v-4M304.9 1072v-4M443.7 1072v-4M582.5 1072v-4M721.3 1072v-4M860.1 1072v-4M998.9 1072v-4M1137.7 1072v-4M1276.5 1072v-4M104 980.4h6M1354 980.4h-10M104 1012.8h6M1354 1012.8h-10M104 1045.2h6M1354 1045.2h-10" stroke="#222" stroke-width="1.3" fill="none"/>
<rect x="1375" y="680.9" width="28.4" height="283.6" fill="url(#cbg)" stroke="#1a1a1a" stroke-width="1.6"/>
<rect x="1518.3" y="598.3" width="118.3" height="476.3" fill="#080808"/>
<rect x="1518.3" y="716.3" width="118.3" height="2" fill="#ffffff"/>
<rect x="1518.3" y="837.2" width="118.3" height="2" fill="#777"/>
<circle cx="1576.5" cy="656.4" r="28.6" fill="#fff"/>
<circle cx="1577.8" cy="777.4" r="27.8" fill="none" stroke="#fff" stroke-width="1.6"/>
<circle cx="1576.5" cy="897.5" r="25.0" fill="none" stroke="#fff" stroke-width="7.0"/>
<circle cx="1576.5" cy="1014.6" r="27.9" fill="none" stroke="#fff" stroke-width="1.6"/>
<circle cx="1576.5" cy="1014.5" r="12.1" fill="none" stroke="#fff" stroke-width="1.6"/>
<clipPath id="clipa"><rect x="141" y="14.4" width="583.2" height="459.6"/></clipPath>
<polyline clip-path="url(#clipa)" fill="none" stroke="#2f74b9" stroke-width="3.6" stroke-linejoin="round" points="263.3,14 263.84,18.62 264.56,25.02 265.42,32.59 266.4,40.76 267.47,48.92 268.6,56.5 269.81,63.58 271.11,70.66 272.51,77.74 273.99,84.83 275.52,91.91 277.1,99 278.74,106.1 280.45,113.2 282.23,120.31 284.05,127.41 285.91,134.51 287.8,141.6 289.71,148.68 291.64,155.74 293.61,162.8 295.64,169.86 297.73,176.92 299.9,184 302.26,191.33 304.82,198.97 307.44,206.62 310,213.97 312.37,220.73 314.4,226.6 316.05,231.41 317.4,235.37 318.55,238.74 319.6,241.77 320.65,244.74 321.8,247.9 322.93,251 323.95,253.77 324.96,256.47 326.09,259.36 327.43,262.68 329.1,266.7 331.18,271.68 333.59,277.46 336.21,283.69 338.95,289.98 341.68,295.98 344.3,301.3 346.82,305.9 349.34,310.07 351.86,313.94 354.37,317.65 356.88,321.32 359.4,325.1 361.92,329.01 364.43,332.95 366.95,336.86 369.47,340.67 371.98,344.34 374.5,347.8 377.02,351.03 379.53,354.09 382.04,356.99 384.56,359.78 387.08,362.47 389.6,365.1 392.13,367.66 394.66,370.13 397.2,372.51 399.74,374.79 402.27,376.99 404.8,379.1 407.32,381.13 409.84,383.1 412.36,384.97 414.87,386.74 417.38,388.39 419.9,389.9 422.42,391.26 424.93,392.47 427.44,393.56 429.96,394.56 432.48,395.49 435,396.4 437.53,397.27 440.06,398.07 442.6,398.82 445.14,399.5 447.67,400.13 450.2,400.7 452.79,401.21 455.46,401.67 458.12,402.07 460.7,402.41 463.12,402.68 465.3,402.9 467.09,403.05 468.53,403.14 469.81,403.18 471.12,403.14 472.65,403.05 474.6,402.9 477.02,402.7 479.77,402.45 482.75,402.14 485.84,401.75 488.92,401.28 491.9,400.7 494.78,400.01 497.67,399.21 500.56,398.33 503.44,397.37 506.32,396.36 509.2,395.3 512.07,394.2 514.94,393.04 517.8,391.83 520.66,390.55 523.53,389.21 526.4,387.8 529.28,386.34 532.16,384.82 535.04,383.24 537.93,381.58 540.82,379.84 543.7,378 546.58,376.07 549.47,374.05 552.35,371.95 555.23,369.76 558.12,367.48 561,365.1 563.88,362.63 566.77,360.07 569.65,357.41 572.53,354.67 575.42,351.83 578.3,348.9 581.27,345.81 584.33,342.54 587.39,339.18 590.36,335.81 593.13,332.53 595.6,329.4 597.65,326.53 599.32,323.86 600.79,321.27 602.25,318.63 603.86,315.82 605.8,312.7 608.13,309.22 610.7,305.45 613.44,301.51 616.23,297.5 618.98,293.53 621.6,289.7 624.08,286.05 626.5,282.5 628.89,278.99 631.25,275.46 633.62,271.85 636,268.1 638.4,264.18 640.8,260.15 643.2,256.03 645.6,251.87 648,247.72 650.4,243.6 652.8,239.48 655.2,235.33 657.59,231.17 659.99,227.05 662.39,223.02 664.8,219.1 667.38,215.08 670.16,210.89 672.95,206.77 675.54,202.99 677.72,199.82 679.3,197.5 693.7,180.2 709.5,169.8 723.2,166.9"/>
<g fill="#d94a0e"><circle cx="212.9" cy="56.5" r="6.9"/><circle cx="227.49" cy="113.1" r="6.9"/><circle cx="242.07" cy="164.5" r="6.9"/><circle cx="256.66" cy="161.6" r="6.9"/><circle cx="271.25" cy="222.2" r="6.9"/><circle cx="285.84" cy="259.8" r="6.9"/><circle cx="300.42" cy="276.7" r="6.9"/><circle cx="315.01" cy="283.4" r="6.9"/><circle cx="329.6" cy="274.3" r="6.9"/><circle cx="344.18" cy="278" r="6.9"/><circle cx="358.77" cy="318.6" r="6.9"/><circle cx="373.36" cy="323.4" r="6.9"/><circle cx="387.94" cy="340.7" r="6.9"/><circle cx="402.53" cy="356.2" r="6.9"/><circle cx="417.12" cy="353.2" r="6.9"/><circle cx="431.71" cy="367.5" r="6.9"/><circle cx="446.29" cy="373.2" r="6.9"/><circle cx="460.88" cy="357.5" r="6.9"/><circle cx="475.47" cy="388.9" r="6.9"/><circle cx="490.05" cy="362.5" r="6.9"/><circle cx="504.64" cy="372.2" r="6.9"/><circle cx="519.23" cy="374.4" r="6.9"/><circle cx="533.81" cy="371.1" r="6.9"/><circle cx="548.4" cy="362.3" r="6.9"/><circle cx="562.99" cy="353.6" r="6.9"/><circle cx="577.58" cy="345" r="6.9"/><circle cx="592.16" cy="350.4" r="6.9"/><circle cx="606.75" cy="317.9" r="6.9"/><circle cx="621.34" cy="258.3" r="6.9"/><circle cx="635.92" cy="206.9" r="6.9"/><circle cx="650.51" cy="232.5" r="6.9"/><circle cx="665.1" cy="175.8" r="6.9"/></g>
<g fill="#00a55a"><rect x="193.8" y="419.2" width="8.2" height="9.4"/><rect x="208.39" y="419.2" width="8.2" height="9.4"/><rect x="222.99" y="418.3" width="8.2" height="9.4"/><rect x="237.58" y="416.8" width="8.2" height="9.4"/><rect x="252.18" y="415.9" width="8.2" height="9.4"/><rect x="266.77" y="415.1" width="8.2" height="9.4"/><rect x="281.36" y="414.4" width="8.2" height="9.4"/><rect x="295.96" y="412.7" width="8.2" height="9.4"/><rect x="310.55" y="410.5" width="8.2" height="9.4"/><rect x="325.15" y="408.4" width="8.2" height="9.4"/><rect x="339.74" y="406" width="8.2" height="9.4"/><rect x="354.33" y="404.3" width="8.2" height="9.4"/><rect x="368.93" y="401.4" width="8.2" height="9.4"/><rect x="383.52" y="398.8" width="8.2" height="9.4"/><rect x="398.12" y="396" width="8.2" height="9.4"/><rect x="412.71" y="390.6" width="8.2" height="9.4"/><rect x="427.3" y="386.3" width="8.2" height="9.4"/><rect x="441.9" y="380.9" width="8.2" height="9.4"/><rect x="456.49" y="374.7" width="8.2" height="9.4"/><rect x="471.09" y="369.3" width="8.2" height="9.4"/><rect x="485.68" y="364.1" width="8.2" height="9.4"/><rect x="500.27" y="355.6" width="8.2" height="9.4"/><rect x="514.87" y="344.8" width="8.2" height="9.4"/><rect x="529.46" y="332.9" width="8.2" height="9.4"/><rect x="544.06" y="323" width="8.2" height="9.4"/><rect x="558.65" y="309.2" width="8.2" height="9.4"/><rect x="573.24" y="290.1" width="8.2" height="9.4"/><rect x="587.84" y="271.8" width="8.2" height="9.4"/><rect x="602.43" y="238.7" width="8.2" height="9.4"/><rect x="617.03" y="205.9" width="8.2" height="9.4"/><rect x="631.62" y="158" width="8.2" height="9.4"/><rect x="646.21" y="115.5" width="8.2" height="9.4"/><rect x="660.81" y="55.1" width="8.2" height="9.4"/></g>
<rect x="141" y="14.4" width="583.2" height="459.6" fill="none" stroke="#111111" stroke-width="3.7"/>
<path d="M199.32 474v-7.5M199.32 14.4v7.5M257.64 474v-7.5M257.64 14.4v7.5M315.96 474v-7.5M315.96 14.4v7.5M374.28 474v-7.5M374.28 14.4v7.5M432.6 474v-7.5M432.6 14.4v7.5M490.92 474v-7.5M490.92 14.4v7.5M549.24 474v-7.5M549.24 14.4v7.5M607.56 474v-7.5M607.56 14.4v7.5M665.88 474v-7.5M665.88 14.4v7.5M141 397.4h7.5M141 320.8h7.5M141 244.2h7.5M141 167.6h7.5M141 91h7.5M724.2 428.04h-11M724.2 382.08h-11M724.2 336.12h-11M724.2 290.16h-11M724.2 244.2h-11M724.2 198.24h-11M724.2 152.28h-11M724.2 106.32h-11M724.2 60.36h-11" stroke="#111111" stroke-width="3.7" fill="none"/>
<rect x="374.4" y="35.8" width="222.1" height="70.1" fill="#fff" stroke="#111111" stroke-width="2.6"/>
<line x1="388.4" y1="53.9" x2="428.7" y2="53.9" stroke="#2f74b9" stroke-width="3.8"/>
<circle cx="395.6" cy="85.9" r="7" fill="#d94a0e"/>
<rect x="413.8" y="81" width="8.2" height="9.7" fill="#00a55a"/>
<g font-family='"Liberation Serif","Times New Roman",serif'>
<text x="438.72" y="64.31" font-size="31.9" fill="#111">Theory</text>
<text x="438.38" y="94.1" font-size="32.1" fill="#111">Experiment</text>
</g>
<path d="M204.9 118.2H180" stroke="#d94a0e" stroke-width="2.6"/>
<path d="M169.8 118.2L184 112.2L180.5 118.2L184 124.2Z" fill="#d94a0e"/>
<path d="M666 98.6H690" stroke="#00a55a" stroke-width="2.6"/>
<path d="M701.7 98.6L687.6 92.8L691.1 98.6L687.6 104.6Z" fill="#00a55a"/>
<clipPath id="clipc"><rect x="969" y="13.9" width="670.1" height="459.7"/></clipPath>
<polyline clip-path="url(#clipc)" fill="none" stroke="#111111" stroke-width="2.6" stroke-linejoin="round" stroke-dasharray="11.5 2.8 2.4 2.8" points="969,-16.1 969.67,-16.1 970.34,-16.1 971.01,-16.1 971.68,-16.1 972.35,-16.1 973.02,-16.1 973.69,-16.1 974.36,-16.1 975.03,-16.1 975.7,-16.1 976.37,-16.1 977.04,-16.1 977.71,-16.1 978.38,-16.1 979.05,-16.1 979.72,-16.1 980.39,-16.1 981.06,-16.1 981.73,-16.1 982.4,-16.1 983.07,-16.1 983.74,-16.1 984.41,-16.1 985.08,-16.1 985.75,-16.1 986.42,-16.1 987.09,-16.1 987.76,-16.1 988.43,-16.1 989.1,-16.1 989.77,-16.1 990.44,-16.1 991.11,-16.1 991.78,-16.1 992.45,-16.1 993.12,-16.1 993.79,-16.1 994.46,-16.1 995.13,-16.1 995.8,-16.1 996.47,-16.1 997.14,-16.1 997.81,-16.1 998.48,-16.1 999.15,-16.1 999.82,-16.1 1000.49,-16.1 1001.16,-16.1 1001.83,-16.1 1002.5,-16.1 1003.18,-16.1 1003.85,-16.1 1004.52,-16.1 1005.19,-16.1 1005.86,-16.1 1006.53,-16.1 1007.2,-16.1 1007.87,-16.1 1008.54,-16.1 1009.21,-16.1 1009.88,-16.1 1010.55,-16.1 1011.22,-16.1 1011.89,-16.1 1012.56,-16.1 1013.23,-16.1 1013.9,-16.1 1014.57,-16.1 1015.24,-16.1 1015.91,-16.1 1016.58,-16.1 1017.25,-16.1 1017.92,-16.1 1018.59,-16.1 1019.26,-16.1 1019.93,-16.1 1020.6,-16.1 1021.27,-16.1 1021.94,-16.1 1022.61,-16.1 1023.28,-16.1 1023.95,-16.1 1024.62,-16.1 1025.29,-16.1 1025.96,-16.1 1026.63,-16.1 1027.3,-16.1 1027.97,-11.6 1028.64,-2.43 1029.31,6.67 1029.98,15.69 1030.65,24.64 1031.32,33.51 1031.99,42.29 1032.66,50.99 1033.33,59.6 1034,68.13 1034.67,76.57 1035.34,84.91 1036.01,93.16 1036.68,101.32 1037.35,109.38 1038.02,117.34 1038.69,125.2 1039.36,132.96 1040.03,140.63 1040.7,148.19 1041.37,155.64 1042.04,162.99 1042.71,170.24 1043.38,177.39 1044.05,184.42 1044.72,191.35 1045.39,198.18 1046.06,204.89 1046.73,211.5 1047.4,218.01 1048.07,224.4 1048.74,230.69 1049.41,236.87 1050.08,242.94 1050.75,248.9 1051.42,254.76 1052.09,260.51 1052.76,266.16 1053.43,271.7 1054.1,277.13 1054.77,282.46 1055.44,287.68 1056.11,292.8 1056.78,297.82 1057.45,302.73 1058.12,307.54 1058.79,312.26 1059.46,316.87 1060.13,321.38 1060.8,325.8 1061.47,330.11 1062.14,334.34 1062.81,338.46 1063.48,342.5 1064.15,346.44 1064.82,350.28 1065.49,354.04 1066.16,357.71 1066.83,361.29 1067.5,364.78 1068.17,368.19 1068.84,371.51 1069.51,374.75 1070.19,377.91 1070.86,380.98 1071.53,383.98 1072.2,386.89 1072.87,389.74 1073.54,392.5 1074.21,395.19 1074.88,397.81 1075.55,400.36 1076.22,402.83 1076.89,405.24 1077.56,407.58 1078.23,409.85 1078.9,412.06 1079.57,414.21 1080.24,416.29 1080.91,418.31 1081.58,420.27 1082.25,422.17 1082.92,424.02 1083.59,425.81 1084.26,427.54 1084.93,429.23 1085.6,430.86 1086.27,432.43 1086.94,433.96 1087.61,435.44 1088.28,436.88 1088.95,438.26 1089.62,439.6 1090.29,440.9 1090.96,442.16 1091.63,443.37 1092.3,444.54 1092.97,445.68 1093.64,446.77 1094.31,447.83 1094.98,448.85 1095.65,449.84 1096.32,450.79 1096.99,451.71 1097.66,452.59 1098.33,453.45 1099,454.27 1099.67,455.06 1100.34,455.83 1101.01,456.57 1101.68,457.28 1102.35,457.96 1103.02,458.62 1103.69,459.25 1104.36,459.86 1105.03,460.45 1105.7,461.01 1106.37,461.56 1107.04,462.08 1107.71,462.58 1108.38,463.06 1109.05,463.53 1109.72,463.97 1110.39,464.4 1111.06,464.81 1111.73,465.2 1112.4,465.58 1113.07,465.94 1113.74,466.29 1114.41,466.62 1115.08,466.94 1115.75,467.25 1116.42,467.54 1117.09,467.82 1117.76,468.09 1118.43,468.35 1119.1,468.6 1119.77,468.84 1120.44,469.06 1121.11,469.28 1121.78,469.48 1122.45,469.68 1123.12,469.87 1123.79,470.05 1124.46,470.23 1125.13,470.39 1125.8,470.55 1126.47,470.7 1127.14,470.84 1127.81,470.98 1128.48,471.11 1129.15,471.23 1129.82,471.35 1130.49,471.47 1131.16,471.58 1131.83,471.68 1132.5,471.78 1133.17,471.87 1133.84,471.96 1134.51,472.04 1135.18,472.13 1135.85,472.2 1136.53,472.28 1137.2,472.35 1137.87,472.41 1138.54,472.47 1139.21,472.53 1139.88,472.59 1140.55,472.65 1141.22,472.7 1141.89,472.75 1142.56,472.79 1143.23,472.84 1143.9,472.88 1144.57,472.92 1145.24,472.95 1145.91,472.99 1146.58,473.02 1147.25,473.06 1147.92,473.09 1148.59,473.12 1149.26,473.14 1149.93,473.17 1150.6,473.19 1151.27,473.22 1151.94,473.24 1152.61,473.26 1153.28,473.28 1153.95,473.3 1154.62,473.31 1155.29,473.33 1155.96,473.35 1156.63,473.36 1157.3,473.38 1157.97,473.39 1158.64,473.4 1159.31,473.41 1159.98,473.42 1160.65,473.43 1161.32,473.44 1161.99,473.45 1162.66,473.46 1163.33,473.47 1164,473.48 1164.67,473.49 1165.34,473.49 1166.01,473.5 1166.68,473.51 1167.35,473.51 1168.02,473.52 1168.69,473.52 1169.36,473.53 1170.03,473.53 1170.7,473.54 1171.37,473.54 1172.04,473.54 1172.71,473.55 1173.38,473.55 1174.05,473.55 1174.72,473.56 1175.39,473.56 1176.06,473.56 1176.73,473.56 1177.4,473.57 1178.07,473.57 1178.74,473.57 1179.41,473.57 1180.08,473.57 1180.75,473.58 1181.42,473.58 1182.09,473.58 1182.76,473.58 1183.43,473.58 1184.1,473.58 1184.77,473.58 1185.44,473.59 1186.11,473.59 1186.78,473.59 1187.45,473.59 1188.12,473.59 1188.79,473.59 1189.46,473.59 1190.13,473.59 1190.8,473.59 1191.47,473.59 1192.14,473.59 1192.81,473.59 1193.48,473.59 1194.15,473.59 1194.82,473.59 1195.49,473.59 1196.16,473.6 1196.83,473.6 1197.5,473.6 1198.17,473.6 1198.84,473.6 1199.51,473.6 1200.18,473.6 1200.85,473.6 1201.52,473.6 1202.19,473.6 1202.86,473.6 1203.53,473.6 1204.21,473.6 1204.88,473.6 1205.55,473.6 1206.22,473.6 1206.89,473.6 1207.56,473.6 1208.23,473.6 1208.9,473.6 1209.57,473.6 1210.24,473.6 1210.91,473.6 1211.58,473.6 1212.25,473.6 1212.92,473.6 1213.59,473.6 1214.26,473.6 1214.93,473.6 1215.6,473.6 1216.27,473.6 1216.94,473.6 1217.61,473.6 1218.28,473.6 1218.95,473.6 1219.62,473.6 1220.29,473.6 1220.96,473.6 1221.63,473.6 1222.3,473.6 1222.97,473.6 1223.64,473.6 1224.31,473.6 1224.98,473.6 1225.65,473.6 1226.32,473.6 1226.99,473.6 1227.66,473.6 1228.33,473.6 1229,473.6 1229.67,473.6 1230.34,473.6 1231.01,473.6 1231.68,473.6 1232.35,473.6 1233.02,473.6 1233.69,473.6 1234.36,473.6 1235.03,473.6 1235.7,473.6 1236.37,473.6 1237.04,473.6 1237.71,473.6 1238.38,473.6 1239.05,473.6 1239.72,473.6 1240.39,473.6 1241.06,473.6 1241.73,473.6 1242.4,473.6 1243.07,473.6 1243.74,473.6 1244.41,473.6 1245.08,473.6 1245.75,473.6 1246.42,473.6 1247.09,473.6 1247.76,473.6 1248.43,473.6 1249.1,473.6 1249.77,473.6 1250.44,473.6 1251.11,473.6 1251.78,473.6 1252.45,473.6 1253.12,473.6 1253.79,473.6 1254.46,473.6 1255.13,473.6 1255.8,473.6 1256.47,473.6 1257.14,473.6 1257.81,473.6 1258.48,473.6 1259.15,473.6 1259.82,473.6 1260.49,473.6 1261.16,473.6 1261.83,473.6 1262.5,473.6 1263.17,473.6 1263.84,473.6 1264.51,473.6 1265.18,473.6 1265.85,473.6 1266.52,473.6 1267.19,473.6 1267.86,473.6 1268.53,473.6 1269.2,473.6 1269.87,473.6 1270.55,473.6 1271.22,473.6 1271.89,473.6 1272.56,473.6 1273.23,473.6 1273.9,473.6 1274.57,473.6 1275.24,473.6 1275.91,473.6 1276.58,473.6 1277.25,473.6 1277.92,473.6 1278.59,473.6 1279.26,473.6 1279.93,473.6 1280.6,473.6 1281.27,473.6 1281.94,473.6 1282.61,473.6 1283.28,473.6 1283.95,473.6 1284.62,473.6 1285.29,473.6 1285.96,473.6 1286.63,473.6 1287.3,473.6 1287.97,473.6 1288.64,473.6 1289.31,473.6 1289.98,473.6 1290.65,473.6 1291.32,473.6 1291.99,473.6 1292.66,473.6 1293.33,473.6 1294,473.6 1294.67,473.6 1295.34,473.6 1296.01,473.6 1296.68,473.6 1297.35,473.6 1298.02,473.6 1298.69,473.6 1299.36,473.6 1300.03,473.6 1300.7,473.6 1301.37,473.6 1302.04,473.6 1302.71,473.6 1303.38,473.6 1304.05,473.6 1304.72,473.6 1305.39,473.6 1306.06,473.6 1306.73,473.6 1307.4,473.6 1308.07,473.6 1308.74,473.6 1309.41,473.6 1310.08,473.6 1310.75,473.6 1311.42,473.6 1312.09,473.6 1312.76,473.6 1313.43,473.6 1314.1,473.6 1314.77,473.6 1315.44,473.6 1316.11,473.6 1316.78,473.6 1317.45,473.6 1318.12,473.6 1318.79,473.6 1319.46,473.6 1320.13,473.6 1320.8,473.6 1321.47,473.6 1322.14,473.6 1322.81,473.6 1323.48,473.6 1324.15,473.6 1324.82,473.6 1325.49,473.6 1326.16,473.6 1326.83,473.6 1327.5,473.6 1328.17,473.6 1328.84,473.6 1329.51,473.6 1330.18,473.6 1330.85,473.6 1331.52,473.6 1332.19,473.6 1332.86,473.6 1333.53,473.6 1334.2,473.6 1334.87,473.6 1335.54,473.6 1336.21,473.6 1336.88,473.6 1337.55,473.6 1338.23,473.6 1338.9,473.6 1339.57,473.6 1340.24,473.6 1340.91,473.6 1341.58,473.6 1342.25,473.6 1342.92,473.6 1343.59,473.6 1344.26,473.6 1344.93,473.6 1345.6,473.6 1346.27,473.6 1346.94,473.6 1347.61,473.6 1348.28,473.6 1348.95,473.6 1349.62,473.6 1350.29,473.6 1350.96,473.6 1351.63,473.6 1352.3,473.6 1352.97,473.6 1353.64,473.6 1354.31,473.6 1354.98,473.6 1355.65,473.6 1356.32,473.6 1356.99,473.6 1357.66,473.6 1358.33,473.6 1359,473.6 1359.67,473.6 1360.34,473.6 1361.01,473.6 1361.68,473.6 1362.35,473.6 1363.02,473.6 1363.69,473.6 1364.36,473.6 1365.03,473.6 1365.7,473.6 1366.37,473.6 1367.04,473.6 1367.71,473.6 1368.38,473.6 1369.05,473.6 1369.72,473.6 1370.39,473.6 1371.06,473.6 1371.73,473.6 1372.4,473.6 1373.07,473.6 1373.74,473.6 1374.41,473.6 1375.08,473.6 1375.75,473.6 1376.42,473.6 1377.09,473.6 1377.76,473.6 1378.43,473.6 1379.1,473.6 1379.77,473.6 1380.44,473.6 1381.11,473.6 1381.78,473.6 1382.45,473.6 1383.12,473.6 1383.79,473.6 1384.46,473.6 1385.13,473.6 1385.8,473.6 1386.47,473.6 1387.14,473.6 1387.81,473.6 1388.48,473.6 1389.15,473.6 1389.82,473.6 1390.49,473.6 1391.16,473.6 1391.83,473.6 1392.5,473.6 1393.17,473.6 1393.84,473.6 1394.51,473.6 1395.18,473.6 1395.85,473.6 1396.52,473.6 1397.19,473.6 1397.86,473.6 1398.53,473.6 1399.2,473.6 1399.87,473.6 1400.54,473.6 1401.21,473.6 1401.88,473.6 1402.55,473.6 1403.22,473.6 1403.89,473.6 1404.57,473.6 1405.24,473.6 1405.91,473.6 1406.58,473.6 1407.25,473.6 1407.92,473.6 1408.59,473.6 1409.26,473.6 1409.93,473.6 1410.6,473.6 1411.27,473.6 1411.94,473.6 1412.61,473.6 1413.28,473.6 1413.95,473.6 1414.62,473.6 1415.29,473.6 1415.96,473.6 1416.63,473.6 1417.3,473.6 1417.97,473.6 1418.64,473.6 1419.31,473.6 1419.98,473.6 1420.65,473.6 1421.32,473.6 1421.99,473.6 1422.66,473.6 1423.33,473.6 1424,473.6 1424.67,473.6 1425.34,473.6 1426.01,473.6 1426.68,473.6 1427.35,473.6 1428.02,473.6 1428.69,473.6 1429.36,473.6 1430.03,473.6 1430.7,473.6 1431.37,473.6 1432.04,473.6 1432.71,473.6 1433.38,473.6 1434.05,473.6 1434.72,473.6 1435.39,473.6 1436.06,473.6 1436.73,473.6 1437.4,473.6 1438.07,473.6 1438.74,473.6 1439.41,473.6 1440.08,473.6 1440.75,473.6 1441.42,473.6 1442.09,473.6 1442.76,473.6 1443.43,473.6 1444.1,473.6 1444.77,473.6 1445.44,473.6 1446.11,473.6 1446.78,473.6 1447.45,473.6 1448.12,473.6 1448.79,473.6 1449.46,473.6 1450.13,473.6 1450.8,473.6 1451.47,473.6 1452.14,473.6 1452.81,473.6 1453.48,473.6 1454.15,473.6 1454.82,473.6 1455.49,473.6 1456.16,473.6 1456.83,473.6 1457.5,473.6 1458.17,473.6 1458.84,473.6 1459.51,473.6 1460.18,473.6 1460.85,473.6 1461.52,473.6 1462.19,473.6 1462.86,473.6 1463.53,473.6 1464.2,473.6 1464.87,473.6 1465.54,473.6 1466.21,473.6 1466.88,473.6 1467.55,473.6 1468.22,473.6 1468.89,473.6 1469.56,473.6 1470.23,473.6 1470.9,473.6 1471.57,473.6 1472.25,473.6 1472.92,473.6 1473.59,473.6 1474.26,473.6 1474.93,473.6 1475.6,473.6 1476.27,473.6 1476.94,473.6 1477.61,473.6 1478.28,473.6 1478.95,473.6 1479.62,473.6 1480.29,473.6 1480.96,473.6 1481.63,473.6 1482.3,473.6 1482.97,473.6 1483.64,473.6 1484.31,473.6 1484.98,473.6 1485.65,473.6 1486.32,473.6 1486.99,473.6 1487.66,473.6 1488.33,473.6 1489,473.6 1489.67,473.6 1490.34,473.6 1491.01,473.6 1491.68,473.6 1492.35,473.6 1493.02,473.6 1493.69,473.6 1494.36,473.6 1495.03,473.6 1495.7,473.6 1496.37,473.6 1497.04,473.6 1497.71,473.6 1498.38,473.6 1499.05,473.6 1499.72,473.6 1500.39,473.6 1501.06,473.6 1501.73,473.6 1502.4,473.6 1503.07,473.6 1503.74,473.6 1504.41,473.6 1505.08,473.6 1505.75,473.6 1506.42,473.6 1507.09,473.6 1507.76,473.6 1508.43,473.6 1509.1,473.6 1509.77,473.6 1510.44,473.6 1511.11,473.6 1511.78,473.6 1512.45,473.6 1513.12,473.6 1513.79,473.6 1514.46,473.6 1515.13,473.6 1515.8,473.6 1516.47,473.6 1517.14,473.6 1517.81,473.6 1518.48,473.6 1519.15,473.6 1519.82,473.6 1520.49,473.6 1521.16,473.6 1521.83,473.6 1522.5,473.6 1523.17,473.6 1523.84,473.6 1524.51,473.6 1525.18,473.6 1525.85,473.6 1526.52,473.6 1527.19,473.6 1527.86,473.6 1528.53,473.6 1529.2,473.6 1529.87,473.6 1530.54,473.6 1531.21,473.6 1531.88,473.6 1532.55,473.6 1533.22,473.6 1533.89,473.6 1534.56,473.6 1535.23,473.6 1535.9,473.6 1536.57,473.6 1537.24,473.6 1537.91,473.6 1538.59,473.6 1539.26,473.6 1539.93,473.6 1540.6,473.6 1541.27,473.6 1541.94,473.6 1542.61,473.6 1543.28,473.6 1543.95,473.6 1544.62,473.6 1545.29,473.6 1545.96,473.6 1546.63,473.6 1547.3,473.6 1547.97,473.6 1548.64,473.6 1549.31,473.6 1549.98,473.6 1550.65,473.6 1551.32,473.6 1551.99,473.6 1552.66,473.6 1553.33,473.6 1554,473.6 1554.67,473.6 1555.34,473.6 1556.01,473.6 1556.68,473.6 1557.35,473.6 1558.02,473.6 1558.69,473.6 1559.36,473.6 1560.03,473.6 1560.7,473.6 1561.37,473.6 1562.04,473.6 1562.71,473.6 1563.38,473.6 1564.05,473.6 1564.72,473.6 1565.39,473.6 1566.06,473.6 1566.73,473.6 1567.4,473.6 1568.07,473.6 1568.74,473.6 1569.41,473.6 1570.08,473.6 1570.75,473.6 1571.42,473.6 1572.09,473.6 1572.76,473.6 1573.43,473.6 1574.1,473.6 1574.77,473.6 1575.44,473.6 1576.11,473.6 1576.78,473.6 1577.45,473.6 1578.12,473.6 1578.79,473.6 1579.46,473.6 1580.13,473.6 1580.8,473.6 1581.47,473.6 1582.14,473.6 1582.81,473.6 1583.48,473.6 1584.15,473.6 1584.82,473.6 1585.49,473.6 1586.16,473.6 1586.83,473.6 1587.5,473.6 1588.17,473.6 1588.84,473.6 1589.51,473.6 1590.18,473.6 1590.85,473.6 1591.52,473.6 1592.19,473.6 1592.86,473.6 1593.53,473.6 1594.2,473.6 1594.87,473.6 1595.54,473.6 1596.21,473.6 1596.88,473.6 1597.55,473.6 1598.22,473.6 1598.89,473.6 1599.56,473.6 1600.23,473.6 1600.9,473.6 1601.57,473.6 1602.24,473.6 1602.91,473.6 1603.58,473.6 1604.25,473.6 1604.92,473.6 1605.59,473.6 1606.27,473.6 1606.94,473.6 1607.61,473.6 1608.28,473.6 1608.95,473.6 1609.62,473.6 1610.29,473.6 1610.96,473.6 1611.63,473.6 1612.3,473.6 1612.97,473.6 1613.64,473.6 1614.31,473.6 1614.98,473.6 1615.65,473.6 1616.32,473.6 1616.99,473.6 1617.66,473.6 1618.33,473.6 1619,473.6 1619.67,473.6 1620.34,473.6 1621.01,473.6 1621.68,473.6 1622.35,473.6 1623.02,473.6 1623.69,473.6 1624.36,473.6 1625.03,473.6 1625.7,473.6 1626.37,473.6 1627.04,473.6 1627.71,473.6 1628.38,473.6 1629.05,473.6 1629.72,473.6 1630.39,473.6 1631.06,473.6 1631.73,473.6 1632.4,473.6 1633.07,473.6 1633.74,473.6 1634.41,473.6 1635.08,473.6 1635.75,473.6 1636.42,473.6 1637.09,473.6 1637.76,473.6 1638.43,473.6 1639.1,473.6"/>
<polyline clip-path="url(#clipc)" fill="none" stroke="#111111" stroke-width="2.8" stroke-linejoin="round" stroke-dasharray="8 5" points="969,-16.1 969.67,-16.1 970.34,-16.1 971.01,-16.1 971.68,-16.1 972.35,-16.1 973.02,-16.1 973.69,-16.1 974.36,-16.1 975.03,-16.1 975.7,-16.1 976.37,-16.1 977.04,-16.1 977.71,-16.1 978.38,-16.1 979.05,-16.1 979.72,-16.1 980.39,-16.1 981.06,-16.1 981.73,-16.1 982.4,-16.1 983.07,-16.1 983.74,-16.1 984.41,-16.1 985.08,-16.1 985.75,-16.1 986.42,-16.1 987.09,-16.1 987.76,-16.1 988.43,-16.1 989.1,-16.1 989.77,-16.1 990.44,-16.1 991.11,-16.1 991.78,-16.1 992.45,-16.1 993.12,-16.1 993.79,-16.1 994.46,-16.1 995.13,-16.1 995.8,-16.1 996.47,-16.1 997.14,-16.1 997.81,-16.1 998.48,-16.1 999.15,-16.1 999.82,-16.1 1000.49,-16.1 1001.16,-16.1 1001.83,-16.1 1002.5,-16.1 1003.18,-16.1 1003.85,-16.1 1004.52,-16.1 1005.19,-16.1 1005.86,-16.1 1006.53,-16.1 1007.2,-16.1 1007.87,-16.1 1008.54,-16.1 1009.21,-16.1 1009.88,-16.1 1010.55,-16.1 1011.22,-16.1 1011.89,-16.1 1012.56,-16.1 1013.23,-3.28 1013.9,11.06 1014.57,24.11 1015.24,36.28 1015.91,48.36 1016.58,60.36 1017.25,72.25 1017.92,84.05 1018.59,95.73 1019.26,107.3 1019.93,118.75 1020.6,130.08 1021.27,141.28 1021.94,152.34 1022.61,163.27 1023.28,174.05 1023.95,184.68 1024.62,195.16 1025.29,205.49 1025.96,215.65 1026.63,225.65 1027.3,235.49 1027.97,245.15 1028.64,254.51 1029.31,263.67 1029.98,272.66 1030.65,281.47 1031.32,290.09 1031.99,298.53 1032.66,306.79 1033.33,314.85 1034,322.73 1034.67,330.41 1035.34,337.89 1036.01,345.18 1036.68,352.27 1037.35,359.16 1038.02,365.85 1038.69,372.33 1039.36,378.62 1040.03,384.69 1040.7,390.56 1041.37,396.23 1042.04,401.69 1042.71,406.95 1043.38,411.99 1044.05,416.83 1044.72,421.47 1045.39,425.9 1046.06,430.12 1046.73,434.14 1047.4,437.95 1048.07,441.56 1048.74,444.97 1049.41,448.17 1050.08,451.18 1050.75,453.99 1051.42,456.6 1052.09,459.02 1052.76,461.24 1053.43,463.27 1054.1,465.11 1054.77,466.76 1055.44,468.23 1056.11,469.51 1056.78,470.61 1057.45,471.54 1058.12,472.29 1058.79,472.87 1059.46,473.28 1060.13,473.52 1060.8,473.6 1061.47,473.52 1062.14,473.28 1062.81,472.89 1063.48,472.35 1064.15,471.67 1064.82,470.84 1065.49,469.88 1066.16,468.78 1066.83,467.55 1067.5,466.19 1068.17,464.7 1068.84,463.1 1069.51,461.38 1070.19,459.55 1070.86,457.61 1071.53,455.57 1072.2,453.43 1072.87,451.2 1073.54,448.87 1074.21,446.46 1074.88,443.96 1075.55,441.38 1076.22,438.73 1076.89,436.01 1077.56,433.23 1078.23,430.38 1078.9,427.48 1079.57,424.52 1080.24,421.52 1080.91,418.47 1081.58,415.38 1082.25,412.25 1082.92,409.1 1083.59,405.91 1084.26,402.7 1084.93,399.48 1085.6,396.23 1086.27,392.98 1086.94,389.72 1087.61,386.46 1088.28,383.2 1088.95,379.94 1089.62,376.69 1090.29,373.45 1090.96,370.23 1091.63,367.03 1092.3,363.85 1092.97,360.7 1093.64,357.58 1094.31,354.5 1094.98,351.45 1095.65,348.44 1096.32,345.47 1096.99,342.55 1097.66,339.68 1098.33,336.86 1099,334.1 1099.67,331.4 1100.34,328.76 1101.01,326.18 1101.68,323.66 1102.35,321.22 1103.02,318.84 1103.69,316.54 1104.36,314.32 1105.03,312.17 1105.7,310.1 1106.37,308.11 1107.04,306.2 1107.71,304.37 1108.38,302.64 1109.05,300.99 1109.72,299.43 1110.39,297.95 1111.06,296.57 1111.73,295.28 1112.4,294.09 1113.07,292.98 1113.74,291.98 1114.41,291.06 1115.08,290.25 1115.75,289.52 1116.42,288.9 1117.09,288.37 1117.76,287.94 1118.43,287.6 1119.1,287.36 1119.77,287.22 1120.44,287.17 1121.11,287.24 1121.78,287.42 1122.45,287.72 1123.12,288.14 1123.79,288.67 1124.46,289.32 1125.13,290.09 1125.8,290.96 1126.47,291.95 1127.14,293.05 1127.81,294.26 1128.48,295.57 1129.15,296.98 1129.82,298.5 1130.49,300.12 1131.16,301.83 1131.83,303.63 1132.5,305.53 1133.17,307.52 1133.84,309.59 1134.51,311.75 1135.18,313.98 1135.85,316.29 1136.53,318.68 1137.2,321.14 1137.87,323.66 1138.54,326.25 1139.21,328.9 1139.88,331.61 1140.55,334.37 1141.22,337.18 1141.89,340.04 1142.56,342.94 1143.23,345.88 1143.9,348.86 1144.57,351.87 1145.24,354.91 1145.91,357.97 1146.58,361.06 1147.25,364.16 1147.92,367.28 1148.59,370.41 1149.26,373.54 1149.93,376.68 1150.6,379.82 1151.27,382.95 1151.94,386.08 1152.61,389.19 1153.28,392.29 1153.95,395.37 1154.62,398.43 1155.29,401.47 1155.96,404.47 1156.63,407.45 1157.3,410.39 1157.97,413.29 1158.64,416.16 1159.31,418.98 1159.98,421.75 1160.65,424.47 1161.32,427.14 1161.99,429.76 1162.66,432.32 1163.33,434.81 1164,437.25 1164.67,439.62 1165.34,441.93 1166.01,444.16 1166.68,446.32 1167.35,448.42 1168.02,450.43 1168.69,452.37 1169.36,454.24 1170.03,456.02 1170.7,457.72 1171.37,459.34 1172.04,460.87 1172.71,462.32 1173.38,463.69 1174.05,464.97 1174.72,466.16 1175.39,467.27 1176.06,468.28 1176.73,469.21 1177.4,470.05 1178.07,470.8 1178.74,471.46 1179.41,472.03 1180.08,472.51 1180.75,472.9 1181.42,473.21 1182.09,473.43 1182.76,473.56 1183.43,473.6 1184.1,473.57 1184.77,473.48 1185.44,473.34 1186.11,473.14 1186.78,472.88 1187.45,472.57 1188.12,472.2 1188.79,471.78 1189.46,471.31 1190.13,470.78 1190.8,470.2 1191.47,469.57 1192.14,468.9 1192.81,468.17 1193.48,467.39 1194.15,466.57 1194.82,465.71 1195.49,464.8 1196.16,463.84 1196.83,462.85 1197.5,461.81 1198.17,460.73 1198.84,459.62 1199.51,458.47 1200.18,457.28 1200.85,456.06 1201.52,454.81 1202.19,453.52 1202.86,452.21 1203.53,450.86 1204.21,449.49 1204.88,448.09 1205.55,446.67 1206.22,445.23 1206.89,443.76 1207.56,442.28 1208.23,440.78 1208.9,439.26 1209.57,437.72 1210.24,436.17 1210.91,434.61 1211.58,433.04 1212.25,431.46 1212.92,429.87 1213.59,428.28 1214.26,426.68 1214.93,425.08 1215.6,423.47 1216.27,421.87 1216.94,420.27 1217.61,418.67 1218.28,417.08 1218.95,415.49 1219.62,413.92 1220.29,412.35 1220.96,410.79 1221.63,409.24 1222.3,407.7 1222.97,406.19 1223.64,404.68 1224.31,403.2 1224.98,401.73 1225.65,400.28 1226.32,398.86 1226.99,397.46 1227.66,396.08 1228.33,394.72 1229,393.4 1229.67,392.1 1230.34,390.82 1231.01,389.58 1231.68,388.37 1232.35,387.19 1233.02,386.05 1233.69,384.93 1234.36,383.85 1235.03,382.81 1235.7,381.8 1236.37,380.83 1237.04,379.9 1237.71,379.01 1238.38,378.16 1239.05,377.34 1239.72,376.57 1240.39,375.84 1241.06,375.15 1241.73,374.5 1242.4,373.9 1243.07,373.34 1243.74,372.82 1244.41,372.35 1245.08,371.92 1245.75,371.53 1246.42,371.19 1247.09,370.9 1247.76,370.65 1248.43,370.45 1249.1,370.29 1249.77,370.18 1250.44,370.11 1251.11,370.09 1251.78,370.12 1252.45,370.21 1253.12,370.36 1253.79,370.57 1254.46,370.84 1255.13,371.17 1255.8,371.56 1256.47,372 1257.14,372.51 1257.81,373.06 1258.48,373.68 1259.15,374.34 1259.82,375.06 1260.49,375.84 1261.16,376.66 1261.83,377.54 1262.5,378.47 1263.17,379.44 1263.84,380.46 1264.51,381.53 1265.18,382.64 1265.85,383.8 1266.52,385 1267.19,386.24 1267.86,387.51 1268.53,388.83 1269.2,390.18 1269.87,391.56 1270.55,392.98 1271.22,394.43 1271.89,395.9 1272.56,397.41 1273.23,398.94 1273.9,400.49 1274.57,402.07 1275.24,403.67 1275.91,405.28 1276.58,406.92 1277.25,408.56 1277.92,410.22 1278.59,411.9 1279.26,413.58 1279.93,415.27 1280.6,416.96 1281.27,418.66 1281.94,420.36 1282.61,422.06 1283.28,423.76 1283.95,425.46 1284.62,427.15 1285.29,428.83 1285.96,430.5 1286.63,432.17 1287.3,433.82 1287.97,435.45 1288.64,437.07 1289.31,438.68 1289.98,440.26 1290.65,441.82 1291.32,443.36 1291.99,444.87 1292.66,446.36 1293.33,447.83 1294,449.26 1294.67,450.66 1295.34,452.03 1296.01,453.37 1296.68,454.68 1297.35,455.95 1298.02,457.18 1298.69,458.37 1299.36,459.53 1300.03,460.65 1300.7,461.72 1301.37,462.75 1302.04,463.74 1302.71,464.69 1303.38,465.59 1304.05,466.45 1304.72,467.26 1305.39,468.02 1306.06,468.74 1306.73,469.4 1307.4,470.02 1308.07,470.6 1308.74,471.12 1309.41,471.59 1310.08,472.01 1310.75,472.39 1311.42,472.71 1312.09,472.98 1312.76,473.21 1313.43,473.38 1314.1,473.5 1314.77,473.58 1315.44,473.6 1316.11,473.58 1316.78,473.52 1317.45,473.42 1318.12,473.28 1318.79,473.1 1319.46,472.88 1320.13,472.62 1320.8,472.32 1321.47,471.99 1322.14,471.62 1322.81,471.21 1323.48,470.77 1324.15,470.29 1324.82,469.78 1325.49,469.23 1326.16,468.65 1326.83,468.04 1327.5,467.39 1328.17,466.71 1328.84,466.01 1329.51,465.27 1330.18,464.51 1330.85,463.72 1331.52,462.9 1332.19,462.06 1332.86,461.19 1333.53,460.29 1334.2,459.38 1334.87,458.44 1335.54,457.48 1336.21,456.51 1336.88,455.51 1337.55,454.5 1338.23,453.47 1338.9,452.42 1339.57,451.36 1340.24,450.29 1340.91,449.2 1341.58,448.11 1342.25,447 1342.92,445.89 1343.59,444.77 1344.26,443.64 1344.93,442.5 1345.6,441.37 1346.27,440.23 1346.94,439.09 1347.61,437.94 1348.28,436.8 1348.95,435.66 1349.62,434.53 1350.29,433.39 1350.96,432.27 1351.63,431.15 1352.3,430.03 1352.97,428.93 1353.64,427.83 1354.31,426.75 1354.98,425.68 1355.65,424.61 1356.32,423.57 1356.99,422.54 1357.66,421.52 1358.33,420.52 1359,419.54 1359.67,418.58 1360.34,417.64 1361.01,416.71 1361.68,415.81 1362.35,414.93 1363.02,414.08 1363.69,413.25 1364.36,412.44 1365.03,411.66 1365.7,410.9 1366.37,410.17 1367.04,409.47 1367.71,408.8 1368.38,408.15 1369.05,407.54 1369.72,406.95 1370.39,406.4 1371.06,405.87 1371.73,405.38 1372.4,404.92 1373.07,404.49 1373.74,404.09 1374.41,403.73 1375.08,403.4 1375.75,403.1 1376.42,402.84 1377.09,402.61 1377.76,402.41 1378.43,402.25 1379.1,402.12 1379.77,402.03 1380.44,401.97 1381.11,401.94 1381.78,401.96 1382.45,402.01 1383.12,402.11 1383.79,402.25 1384.46,402.44 1385.13,402.67 1385.8,402.94 1386.47,403.25 1387.14,403.6 1387.81,404 1388.48,404.43 1389.15,404.91 1389.82,405.42 1390.49,405.97 1391.16,406.56 1391.83,407.19 1392.5,407.85 1393.17,408.55 1393.84,409.28 1394.51,410.05 1395.18,410.84 1395.85,411.67 1396.52,412.53 1397.19,413.42 1397.86,414.34 1398.53,415.28 1399.2,416.26 1399.87,417.25 1400.54,418.27 1401.21,419.31 1401.88,420.37 1402.55,421.45 1403.22,422.56 1403.89,423.67 1404.57,424.81 1405.24,425.95 1405.91,427.11 1406.58,428.29 1407.25,429.47 1407.92,430.66 1408.59,431.86 1409.26,433.07 1409.93,434.28 1410.6,435.49 1411.27,436.7 1411.94,437.92 1412.61,439.13 1413.28,440.35 1413.95,441.55 1414.62,442.76 1415.29,443.95 1415.96,445.14 1416.63,446.32 1417.3,447.49 1417.97,448.65 1418.64,449.79 1419.31,450.92 1419.98,452.04 1420.65,453.13 1421.32,454.21 1421.99,455.27 1422.66,456.31 1423.33,457.33 1424,458.32 1424.67,459.29 1425.34,460.24 1426.01,461.16 1426.68,462.05 1427.35,462.91 1428.02,463.75 1428.69,464.56 1429.36,465.33 1430.03,466.08 1430.7,466.79 1431.37,467.47 1432.04,468.12 1432.71,468.73 1433.38,469.31 1434.05,469.86 1434.72,470.37 1435.39,470.84 1436.06,471.27 1436.73,471.67 1437.4,472.04 1438.07,472.36 1438.74,472.65 1439.41,472.9 1440.08,473.11 1440.75,473.28 1441.42,473.42 1442.09,473.52 1442.76,473.58 1443.43,473.6 1444.1,473.59 1444.77,473.54 1445.44,473.47 1446.11,473.36 1446.78,473.22 1447.45,473.06 1448.12,472.86 1448.79,472.63 1449.46,472.37 1450.13,472.09 1450.8,471.77 1451.47,471.43 1452.14,471.05 1452.81,470.66 1453.48,470.23 1454.15,469.78 1454.82,469.3 1455.49,468.8 1456.16,468.27 1456.83,467.72 1457.5,467.14 1458.17,466.54 1458.84,465.92 1459.51,465.28 1460.18,464.62 1460.85,463.94 1461.52,463.24 1462.19,462.53 1462.86,461.79 1463.53,461.04 1464.2,460.27 1464.87,459.49 1465.54,458.7 1466.21,457.89 1466.88,457.07 1467.55,456.24 1468.22,455.39 1468.89,454.54 1469.56,453.68 1470.23,452.82 1470.9,451.94 1471.57,451.06 1472.25,450.18 1472.92,449.29 1473.59,448.4 1474.26,447.51 1474.93,446.62 1475.6,445.73 1476.27,444.83 1476.94,443.94 1477.61,443.06 1478.28,442.17 1478.95,441.29 1479.62,440.42 1480.29,439.56 1480.96,438.7 1481.63,437.85 1482.3,437 1482.97,436.17 1483.64,435.35 1484.31,434.54 1484.98,433.75 1485.65,432.97 1486.32,432.2 1486.99,431.44 1487.66,430.71 1488.33,429.98 1489,429.28 1489.67,428.59 1490.34,427.93 1491.01,427.28 1491.68,426.65 1492.35,426.04 1493.02,425.46 1493.69,424.89 1494.36,424.35 1495.03,423.83 1495.7,423.33 1496.37,422.86 1497.04,422.41 1497.71,421.99 1498.38,421.59 1499.05,421.22 1499.72,420.87 1500.39,420.55 1501.06,420.25 1501.73,419.98 1502.4,419.74 1503.07,419.53 1503.74,419.34 1504.41,419.18 1505.08,419.05 1505.75,418.95 1506.42,418.87 1507.09,418.82 1507.76,418.8 1508.43,418.81 1509.1,418.85 1509.77,418.91 1510.44,419 1511.11,419.11 1511.78,419.25 1512.45,419.42 1513.12,419.62 1513.79,419.84 1514.46,420.09 1515.13,420.36 1515.8,420.66 1516.47,420.99 1517.14,421.34 1517.81,421.71 1518.48,422.11 1519.15,422.53 1519.82,422.97 1520.49,423.44 1521.16,423.93 1521.83,424.44 1522.5,424.97 1523.17,425.52 1523.84,426.09 1524.51,426.69 1525.18,427.3 1525.85,427.92 1526.52,428.57 1527.19,429.23 1527.86,429.91 1528.53,430.61 1529.2,431.32 1529.87,432.04 1530.54,432.78 1531.21,433.53 1531.88,434.29 1532.55,435.07 1533.22,435.85 1533.89,436.64 1534.56,437.45 1535.23,438.26 1535.9,439.07 1536.57,439.9 1537.24,440.73 1537.91,441.56 1538.59,442.4 1539.26,443.25 1539.93,444.09 1540.6,444.94 1541.27,445.78 1541.94,446.63 1542.61,447.48 1543.28,448.32 1543.95,449.16 1544.62,450 1545.29,450.84 1545.96,451.67 1546.63,452.49 1547.3,453.31 1547.97,454.12 1548.64,454.93 1549.31,455.72 1549.98,456.51 1550.65,457.28 1551.32,458.05 1551.99,458.8 1552.66,459.54 1553.33,460.27 1554,460.98 1554.67,461.68 1555.34,462.36 1556.01,463.03 1556.68,463.69 1557.35,464.32 1558.02,464.94 1558.69,465.54 1559.36,466.12 1560.03,466.69 1560.7,467.23 1561.37,467.76 1562.04,468.26 1562.71,468.74 1563.38,469.21 1564.05,469.65 1564.72,470.07 1565.39,470.46 1566.06,470.84 1566.73,471.19 1567.4,471.52 1568.07,471.82 1568.74,472.1 1569.41,472.36 1570.08,472.59 1570.75,472.8 1571.42,472.99 1572.09,473.15 1572.76,473.29 1573.43,473.4 1574.1,473.49 1574.77,473.55 1575.44,473.59 1576.11,473.6 1576.78,473.59 1577.45,473.55 1578.12,473.49 1578.79,473.4 1579.46,473.28 1580.13,473.14 1580.8,472.97 1581.47,472.78 1582.14,472.56 1582.81,472.32 1583.48,472.06 1584.15,471.77 1584.82,471.46 1585.49,471.12 1586.16,470.77 1586.83,470.39 1587.5,469.99 1588.17,469.56 1588.84,469.12 1589.51,468.66 1590.18,468.18 1590.85,467.67 1591.52,467.16 1592.19,466.62 1592.86,466.06 1593.53,465.49 1594.2,464.91 1594.87,464.31 1595.54,463.69 1596.21,463.06 1596.88,462.42 1597.55,461.77 1598.22,461.11 1598.89,460.43 1599.56,459.74 1600.23,459.05 1600.9,458.35 1601.57,457.64 1602.24,456.92 1602.91,456.2 1603.58,455.47 1604.25,454.74 1604.92,454.01 1605.59,453.27 1606.27,452.53 1606.94,451.79 1607.61,451.05 1608.28,450.31 1608.95,449.58 1609.62,448.84 1610.29,448.11 1610.96,447.38 1611.63,446.66 1612.3,445.94 1612.97,445.23 1613.64,444.52 1614.31,443.83 1614.98,443.14 1615.65,442.46 1616.32,441.79 1616.99,441.14 1617.66,440.49 1618.33,439.86 1619,439.24 1619.67,438.63 1620.34,438.04 1621.01,437.46 1621.68,436.9 1622.35,436.35 1623.02,435.82 1623.69,435.31 1624.36,434.82 1625.03,434.34 1625.7,433.88 1626.37,433.44 1627.04,433.03 1627.71,432.63 1628.38,432.25 1629.05,431.89 1629.72,431.56 1630.39,431.24 1631.06,430.95 1631.73,430.68 1632.4,430.43 1633.07,430.21 1633.74,430.01 1634.41,429.83 1635.08,429.67 1635.75,429.54 1636.42,429.43 1637.09,429.35 1637.76,429.29 1638.43,429.25 1639.1,429.24"/>
<polyline clip-path="url(#clipc)" fill="none" stroke="#2c6cb6" stroke-width="2.5" stroke-linejoin="round" points="969,-16.1 969.67,-16.1 970.34,-16.1 971.01,-16.1 971.68,-16.1 972.35,-16.1 973.02,-16.1 973.69,-16.1 974.36,-16.1 975.03,-16.1 975.7,-16.1 976.37,-16.1 977.04,-16.1 977.71,-16.1 978.38,-16.1 979.05,-16.1 979.72,-16.1 980.39,-16.1 981.06,-16.1 981.73,-16.1 982.4,-16.1 983.07,-16.1 983.74,-16.1 984.41,-16.1 985.08,-16.1 985.75,-16.1 986.42,-16.1 987.09,-16.1 987.76,-16.1 988.43,-16.1 989.1,-16.1 989.77,-16.1 990.44,-16.1 991.11,-16.1 991.78,-16.1 992.45,-16.1 993.12,-16.1 993.79,-16.1 994.46,-16.1 995.13,-16.1 995.8,-16.1 996.47,-16.1 997.14,-16.1 997.81,-16.1 998.48,-16.1 999.15,-16.1 999.82,-16.1 1000.49,-16.1 1001.16,-16.1 1001.83,-16.1 1002.5,-16.1 1003.18,-16.1 1003.85,-16.1 1004.52,-16.1 1005.19,-16.1 1005.86,-16.1 1006.53,-16.1 1007.2,-16.1 1007.87,-16.1 1008.54,-16.1 1009.21,-16.1 1009.88,-16.1 1010.55,-16.1 1011.22,-16.1 1011.89,-16.1 1012.56,-16.1 1013.23,-16.1 1013.9,-16.1 1014.57,-16.1 1015.24,-16.1 1015.91,-16.1 1016.58,-16.1 1017.25,-16.1 1017.92,-16.1 1018.59,-9.9 1019.26,2.84 1019.93,15.5 1020.6,26.42 1021.27,37.1 1021.94,47.7 1022.61,58.24 1023.28,68.7 1023.95,79.08 1024.62,89.38 1025.29,99.6 1025.96,109.73 1026.63,119.76 1027.3,129.7 1027.97,139.54 1028.64,149.27 1029.31,158.9 1029.98,168.42 1030.65,177.83 1031.32,187.13 1031.99,196.3 1032.66,205.36 1033.33,214.29 1034,223.09 1034.67,231.77 1035.34,240.32 1036.01,248.78 1036.68,257.29 1037.35,265.65 1038.02,273.86 1038.69,281.93 1039.36,289.84 1040.03,297.59 1040.7,305.19 1041.37,312.63 1042.04,319.91 1042.71,327.02 1043.38,333.98 1044.05,340.77 1044.72,347.39 1045.39,353.84 1046.06,360.13 1046.73,366.24 1047.4,372.19 1048.07,377.96 1048.74,383.57 1049.41,389 1050.08,394.3 1050.75,399.42 1051.42,404.37 1052.09,409.13 1052.76,413.72 1053.43,418.13 1054.1,422.36 1054.77,426.41 1055.44,430.29 1056.11,433.99 1056.78,437.51 1057.45,440.87 1058.12,444.04 1058.79,447.05 1059.46,449.88 1060.13,452.55 1060.8,455.04 1061.47,457.37 1062.14,459.54 1062.81,461.54 1063.48,463.38 1064.15,465.06 1064.82,466.58 1065.49,467.95 1066.16,469.16 1066.83,470.22 1067.5,471.14 1068.17,471.9 1068.84,472.52 1069.51,473 1070.19,473.34 1070.86,473.54 1071.53,473.6 1072.2,473.53 1072.87,473.33 1073.54,472.99 1074.21,472.53 1074.88,471.94 1075.55,471.23 1076.22,470.4 1076.89,469.45 1077.56,468.39 1078.23,467.23 1078.9,465.95 1079.57,464.57 1080.24,463.1 1080.91,461.52 1081.58,459.86 1082.25,458.1 1082.92,456.26 1083.59,454.33 1084.26,452.33 1084.93,450.25 1085.6,448.1 1086.27,445.88 1086.94,443.59 1087.61,441.24 1088.28,438.84 1088.95,436.38 1089.62,433.86 1090.29,431.3 1090.96,428.7 1091.63,426.06 1092.3,423.37 1092.97,420.66 1093.64,417.91 1094.31,415.14 1094.98,412.34 1095.65,409.52 1096.32,406.69 1096.99,403.84 1097.66,400.98 1098.33,398.12 1099,395.24 1099.67,392.37 1100.34,389.5 1101.01,386.64 1101.68,383.79 1102.35,380.94 1103.02,378.11 1103.69,375.3 1104.36,372.51 1105.03,369.74 1105.7,366.99 1106.37,364.28 1107.04,361.59 1107.71,358.94 1108.38,356.32 1109.05,353.74 1109.72,351.21 1110.39,348.71 1111.06,346.26 1111.73,343.86 1112.4,341.51 1113.07,339.21 1113.74,336.96 1114.41,334.77 1115.08,332.63 1115.75,330.56 1116.42,328.54 1117.09,326.59 1117.76,324.7 1118.43,322.88 1119.1,321.12 1119.77,319.43 1120.44,317.82 1121.11,316.27 1121.78,314.79 1122.45,313.39 1123.12,312.06 1123.79,310.8 1124.46,309.62 1125.13,308.52 1125.8,307.49 1126.47,306.54 1127.14,305.66 1127.81,304.87 1128.48,304.15 1129.15,303.52 1129.82,302.96 1130.49,302.48 1131.16,302.08 1131.83,301.76 1132.5,301.52 1133.17,301.36 1133.84,301.27 1134.51,301.27 1135.18,301.34 1135.85,301.51 1136.53,301.74 1137.2,302.04 1137.87,302.42 1138.54,302.85 1139.21,303.36 1139.88,303.93 1140.55,304.56 1141.22,305.26 1141.89,306.03 1142.56,306.85 1143.23,307.74 1143.9,308.69 1144.57,309.7 1145.24,310.77 1145.91,311.89 1146.58,313.07 1147.25,314.31 1147.92,315.6 1148.59,316.95 1149.26,318.34 1149.93,319.79 1150.6,321.28 1151.27,322.83 1151.94,324.42 1152.61,326.06 1153.28,327.73 1153.95,329.46 1154.62,331.22 1155.29,333.02 1155.96,334.86 1156.63,336.74 1157.3,338.65 1157.97,340.59 1158.64,342.57 1159.31,344.57 1159.98,346.6 1160.65,348.66 1161.32,350.75 1161.99,352.86 1162.66,354.99 1163.33,357.14 1164,359.31 1164.67,361.5 1165.34,363.7 1166.01,365.92 1166.68,368.14 1167.35,370.38 1168.02,372.63 1168.69,374.88 1169.36,377.14 1170.03,379.41 1170.7,381.67 1171.37,383.94 1172.04,386.2 1172.71,388.47 1173.38,390.72 1174.05,392.98 1174.72,395.22 1175.39,397.46 1176.06,399.68 1176.73,401.9 1177.4,404.1 1178.07,406.29 1178.74,408.46 1179.41,410.61 1180.08,412.74 1180.75,414.86 1181.42,416.95 1182.09,419.02 1182.76,421.06 1183.43,423.08 1184.1,425.07 1184.77,427.04 1185.44,428.97 1186.11,430.87 1186.78,432.75 1187.45,434.59 1188.12,436.4 1188.79,438.17 1189.46,439.91 1190.13,441.61 1190.8,443.27 1191.47,444.9 1192.14,446.48 1192.81,448.03 1193.48,449.53 1194.15,451 1194.82,452.42 1195.49,453.8 1196.16,455.13 1196.83,456.43 1197.5,457.67 1198.17,458.88 1198.84,460.03 1199.51,461.14 1200.18,462.21 1200.85,463.23 1201.52,464.2 1202.19,465.12 1202.86,466 1203.53,466.83 1204.21,467.61 1204.88,468.34 1205.55,469.02 1206.22,469.66 1206.89,470.25 1207.56,470.79 1208.23,471.28 1208.9,471.73 1209.57,472.12 1210.24,472.47 1210.91,472.77 1211.58,473.03 1212.25,473.23 1212.92,473.39 1213.59,473.51 1214.26,473.58 1214.93,473.6 1215.6,473.58 1216.27,473.5 1216.94,473.38 1217.61,473.21 1218.28,472.99 1218.95,472.72 1219.62,472.41 1220.29,472.05 1220.96,471.65 1221.63,471.2 1222.3,470.71 1222.97,470.18 1223.64,469.61 1224.31,468.99 1224.98,468.34 1225.65,467.65 1226.32,466.93 1226.99,466.16 1227.66,465.36 1228.33,464.53 1229,463.67 1229.67,462.77 1230.34,461.84 1231.01,460.89 1231.68,459.9 1232.35,458.89 1233.02,457.86 1233.69,456.8 1234.36,455.71 1235.03,454.61 1235.7,453.48 1236.37,452.33 1237.04,451.17 1237.71,449.99 1238.38,448.8 1239.05,447.59 1239.72,446.37 1240.39,445.13 1241.06,443.89 1241.73,442.64 1242.4,441.38 1243.07,440.12 1243.74,438.85 1244.41,437.57 1245.08,436.3 1245.75,435.02 1246.42,433.75 1247.09,432.47 1247.76,431.2 1248.43,429.93 1249.1,428.67 1249.77,427.42 1250.44,426.17 1251.11,424.94 1251.78,423.71 1252.45,422.49 1253.12,421.29 1253.79,420.1 1254.46,418.93 1255.13,417.77 1255.8,416.63 1256.47,415.5 1257.14,414.4 1257.81,413.31 1258.48,412.25 1259.15,411.21 1259.82,410.19 1260.49,409.2 1261.16,408.23 1261.83,407.28 1262.5,406.36 1263.17,405.47 1263.84,404.61 1264.51,403.77 1265.18,402.97 1265.85,402.19 1266.52,401.45 1267.19,400.73 1267.86,400.05 1268.53,399.4 1269.2,398.78 1269.87,398.2 1270.55,397.65 1271.22,397.13 1271.89,396.65 1272.56,396.2 1273.23,395.79 1273.9,395.41 1274.57,395.07 1275.24,394.76 1275.91,394.49 1276.58,394.26 1277.25,394.06 1277.92,393.9 1278.59,393.77 1279.26,393.68 1279.93,393.63 1280.6,393.61 1281.27,393.63 1281.94,393.69 1282.61,393.8 1283.28,393.95 1283.95,394.13 1284.62,394.35 1285.29,394.59 1285.96,394.87 1286.63,395.18 1287.3,395.53 1287.97,395.9 1288.64,396.31 1289.31,396.74 1289.98,397.21 1290.65,397.7 1291.32,398.22 1291.99,398.77 1292.66,399.35 1293.33,399.96 1294,400.59 1294.67,401.25 1295.34,401.94 1296.01,402.65 1296.68,403.38 1297.35,404.14 1298.02,404.92 1298.69,405.72 1299.36,406.54 1300.03,407.39 1300.7,408.25 1301.37,409.14 1302.04,410.04 1302.71,410.96 1303.38,411.89 1304.05,412.84 1304.72,413.81 1305.39,414.79 1306.06,415.79 1306.73,416.8 1307.4,417.82 1308.07,418.85 1308.74,419.89 1309.41,420.94 1310.08,421.99 1310.75,423.06 1311.42,424.13 1312.09,425.21 1312.76,426.3 1313.43,427.38 1314.1,428.48 1314.77,429.57 1315.44,430.67 1316.11,431.76 1316.78,432.86 1317.45,433.95 1318.12,435.05 1318.79,436.14 1319.46,437.23 1320.13,438.31 1320.8,439.39 1321.47,440.46 1322.14,441.53 1322.81,442.59 1323.48,443.64 1324.15,444.68 1324.82,445.71 1325.49,446.73 1326.16,447.75 1326.83,448.75 1327.5,449.73 1328.17,450.71 1328.84,451.67 1329.51,452.61 1330.18,453.54 1330.85,454.46 1331.52,455.36 1332.19,456.24 1332.86,457.11 1333.53,457.95 1334.2,458.78 1334.87,459.59 1335.54,460.38 1336.21,461.15 1336.88,461.9 1337.55,462.63 1338.23,463.34 1338.9,464.03 1339.57,464.69 1340.24,465.33 1340.91,465.95 1341.58,466.55 1342.25,467.13 1342.92,467.68 1343.59,468.2 1344.26,468.71 1344.93,469.19 1345.6,469.64 1346.27,470.07 1346.94,470.48 1347.61,470.86 1348.28,471.21 1348.95,471.55 1349.62,471.85 1350.29,472.13 1350.96,472.39 1351.63,472.62 1352.3,472.83 1352.97,473.01 1353.64,473.17 1354.31,473.3 1354.98,473.41 1355.65,473.49 1356.32,473.55 1356.99,473.59 1357.66,473.6 1358.33,473.59 1359,473.55 1359.67,473.48 1360.34,473.39 1361.01,473.28 1361.68,473.14 1362.35,472.98 1363.02,472.79 1363.69,472.58 1364.36,472.35 1365.03,472.09 1365.7,471.82 1366.37,471.52 1367.04,471.2 1367.71,470.86 1368.38,470.5 1369.05,470.12 1369.72,469.72 1370.39,469.31 1371.06,468.87 1371.73,468.42 1372.4,467.95 1373.07,467.47 1373.74,466.97 1374.41,466.46 1375.08,465.93 1375.75,465.39 1376.42,464.83 1377.09,464.27 1377.76,463.69 1378.43,463.1 1379.1,462.5 1379.77,461.9 1380.44,461.28 1381.11,460.66 1381.78,460.03 1382.45,459.39 1383.12,458.74 1383.79,458.1 1384.46,457.44 1385.13,456.79 1385.8,456.13 1386.47,455.46 1387.14,454.8 1387.81,454.14 1388.48,453.47 1389.15,452.81 1389.82,452.14 1390.49,451.48 1391.16,450.82 1391.83,450.17 1392.5,449.52 1393.17,448.87 1393.84,448.23 1394.51,447.59 1395.18,446.96 1395.85,446.34 1396.52,445.72 1397.19,445.12 1397.86,444.52 1398.53,443.93 1399.2,443.35 1399.87,442.78 1400.54,442.22 1401.21,441.68 1401.88,441.14 1402.55,440.62 1403.22,440.11 1403.89,439.61 1404.57,439.13 1405.24,438.67 1405.91,438.21 1406.58,437.77 1407.25,437.35 1407.92,436.95 1408.59,436.56 1409.26,436.18 1409.93,435.82 1410.6,435.48 1411.27,435.16 1411.94,434.86 1412.61,434.57 1413.28,434.3 1413.95,434.05 1414.62,433.82 1415.29,433.6 1415.96,433.41 1416.63,433.23 1417.3,433.08 1417.97,432.94 1418.64,432.82 1419.31,432.72 1419.98,432.64 1420.65,432.58 1421.32,432.53 1421.99,432.51 1422.66,432.51 1423.33,432.52 1424,432.56 1424.67,432.61 1425.34,432.69 1426.01,432.78 1426.68,432.89 1427.35,433.02 1428.02,433.16 1428.69,433.33 1429.36,433.51 1430.03,433.7 1430.7,433.91 1431.37,434.14 1432.04,434.39 1432.71,434.65 1433.38,434.92 1434.05,435.21 1434.72,435.52 1435.39,435.84 1436.06,436.17 1436.73,436.52 1437.4,436.88 1438.07,437.25 1438.74,437.64 1439.41,438.04 1440.08,438.45 1440.75,438.88 1441.42,439.31 1442.09,439.76 1442.76,440.21 1443.43,440.68 1444.1,441.16 1444.77,441.64 1445.44,442.14 1446.11,442.64 1446.78,443.15 1447.45,443.67 1448.12,444.19 1448.79,444.72 1449.46,445.26 1450.13,445.8 1450.8,446.35 1451.47,446.9 1452.14,447.46 1452.81,448.02 1453.48,448.58 1454.15,449.15 1454.82,449.72 1455.49,450.29 1456.16,450.86 1456.83,451.44 1457.5,452.01 1458.17,452.59 1458.84,453.16 1459.51,453.73 1460.18,454.3 1460.85,454.87 1461.52,455.44 1462.19,456.01 1462.86,456.57 1463.53,457.13 1464.2,457.68 1464.87,458.23 1465.54,458.77 1466.21,459.31 1466.88,459.85 1467.55,460.38 1468.22,460.9 1468.89,461.42 1469.56,461.92 1470.23,462.43 1470.9,462.92 1471.57,463.4 1472.25,463.88 1472.92,464.35 1473.59,464.81 1474.26,465.26 1474.93,465.7 1475.6,466.13 1476.27,466.55 1476.94,466.96 1477.61,467.36 1478.28,467.75 1478.95,468.12 1479.62,468.49 1480.29,468.84 1480.96,469.18 1481.63,469.51 1482.3,469.83 1482.97,470.14 1483.64,470.43 1484.31,470.71 1484.98,470.98 1485.65,471.23 1486.32,471.48 1486.99,471.71 1487.66,471.92 1488.33,472.13 1489,472.32 1489.67,472.49 1490.34,472.66 1491.01,472.81 1491.68,472.95 1492.35,473.07 1493.02,473.18 1493.69,473.28 1494.36,473.36 1495.03,473.43 1495.7,473.49 1496.37,473.54 1497.04,473.57 1497.71,473.59 1498.38,473.6 1499.05,473.6 1499.72,473.58 1500.39,473.55 1501.06,473.51 1501.73,473.46 1502.4,473.39 1503.07,473.32 1503.74,473.23 1504.41,473.13 1505.08,473.03 1505.75,472.91 1506.42,472.78 1507.09,472.64 1507.76,472.49 1508.43,472.33 1509.1,472.16 1509.77,471.99 1510.44,471.8 1511.11,471.61 1511.78,471.4 1512.45,471.19 1513.12,470.97 1513.79,470.75 1514.46,470.51 1515.13,470.27 1515.8,470.02 1516.47,469.77 1517.14,469.51 1517.81,469.24 1518.48,468.97 1519.15,468.7 1519.82,468.42 1520.49,468.13 1521.16,467.84 1521.83,467.55 1522.5,467.25 1523.17,466.95 1523.84,466.65 1524.51,466.34 1525.18,466.03 1525.85,465.72 1526.52,465.41 1527.19,465.1 1527.86,464.78 1528.53,464.47 1529.2,464.16 1529.87,463.84 1530.54,463.53 1531.21,463.21 1531.88,462.9 1532.55,462.59 1533.22,462.28 1533.89,461.97 1534.56,461.66 1535.23,461.36 1535.9,461.06 1536.57,460.76 1537.24,460.46 1537.91,460.17 1538.59,459.88 1539.26,459.6 1539.93,459.32 1540.6,459.04 1541.27,458.77 1541.94,458.51 1542.61,458.25 1543.28,457.99 1543.95,457.75 1544.62,457.5 1545.29,457.27 1545.96,457.04 1546.63,456.81 1547.3,456.59 1547.97,456.38 1548.64,456.18 1549.31,455.98 1549.98,455.8 1550.65,455.61 1551.32,455.44 1551.99,455.27 1552.66,455.12 1553.33,454.97 1554,454.82 1554.67,454.69 1555.34,454.57 1556.01,454.45 1556.68,454.34 1557.35,454.24 1558.02,454.15 1558.69,454.07 1559.36,453.99 1560.03,453.93 1560.7,453.87 1561.37,453.82 1562.04,453.78 1562.71,453.75 1563.38,453.73 1564.05,453.72 1564.72,453.72 1565.39,453.72 1566.06,453.73 1566.73,453.76 1567.4,453.79 1568.07,453.83 1568.74,453.87 1569.41,453.9 1570.08,453.93 1570.75,453.97 1571.42,454.01 1572.09,454.07 1572.76,454.13 1573.43,454.19 1574.1,454.27 1574.77,454.35 1575.44,454.44 1576.11,454.54 1576.78,454.65 1577.45,454.76 1578.12,454.88 1578.79,455 1579.46,455.13 1580.13,455.27 1580.8,455.42 1581.47,455.57 1582.14,455.72 1582.81,455.89 1583.48,456.06 1584.15,456.23 1584.82,456.41 1585.49,456.6 1586.16,456.79 1586.83,456.98 1587.5,457.18 1588.17,457.39 1588.84,457.6 1589.51,457.82 1590.18,458.03 1590.85,458.26 1591.52,458.49 1592.19,458.72 1592.86,458.95 1593.53,459.19 1594.2,459.43 1594.87,459.67 1595.54,459.92 1596.21,460.17 1596.88,460.42 1597.55,460.68 1598.22,460.93 1598.89,461.19 1599.56,461.45 1600.23,461.71 1600.9,461.97 1601.57,462.24 1602.24,462.5 1602.91,462.77 1603.58,463.03 1604.25,463.3 1604.92,463.56 1605.59,463.83 1606.27,464.09 1606.94,464.36 1607.61,464.62 1608.28,464.89 1608.95,465.15 1609.62,465.41 1610.29,465.67 1610.96,465.93 1611.63,466.18 1612.3,466.44 1612.97,466.69 1613.64,466.94 1614.31,467.19 1614.98,467.43 1615.65,467.67 1616.32,467.91 1616.99,468.14 1617.66,468.38 1618.33,468.6 1619,468.83 1619.67,469.05 1620.34,469.27 1621.01,469.48 1621.68,469.69 1622.35,469.89 1623.02,470.09 1623.69,470.29 1624.36,470.48 1625.03,470.66 1625.7,470.85 1626.37,471.02 1627.04,471.19 1627.71,471.36 1628.38,471.52 1629.05,471.67 1629.72,471.82 1630.39,471.96 1631.06,472.1 1631.73,472.23 1632.4,472.36 1633.07,472.48 1633.74,472.59 1634.41,472.7 1635.08,472.8 1635.75,472.9 1636.42,472.99 1637.09,473.07 1637.76,473.15 1638.43,473.22 1639.1,473.29"/>
<polyline clip-path="url(#clipc)" fill="none" stroke="#d72418" stroke-width="2.5" stroke-linejoin="round" points="969,-16.1 969.67,-16.1 970.34,-16.1 971.01,-16.1 971.68,-16.1 972.35,-16.1 973.02,-16.1 973.69,-16.1 974.36,-16.1 975.03,-16.1 975.7,-16.1 976.37,-16.1 977.04,-16.1 977.71,-16.1 978.38,-16.1 979.05,-16.1 979.72,-16.1 980.39,-16.1 981.06,-16.1 981.73,-16.1 982.4,-16.1 983.07,-16.1 983.74,-16.1 984.41,-16.1 985.08,-16.1 985.75,-16.1 986.42,-16.1 987.09,-16.1 987.76,-16.1 988.43,-16.1 989.1,-16.1 989.77,-16.1 990.44,-16.1 991.11,-16.1 991.78,-16.1 992.45,-16.1 993.12,-16.1 993.79,-16.1 994.46,-16.1 995.13,-16.1 995.8,-16.1 996.47,-16.1 997.14,-16.1 997.81,-16.1 998.48,-16.1 999.15,-16.1 999.82,-16.1 1000.49,-16.1 1001.16,-16.1 1001.83,-16.1 1002.5,-16.1 1003.18,-16.1 1003.85,-16.1 1004.52,-16.1 1005.19,-16.1 1005.86,-16.1 1006.53,-16.1 1007.2,-16.1 1007.87,-16.1 1008.54,-16.1 1009.21,-16.1 1009.88,-16.1 1010.55,-16.1 1011.22,-16.1 1011.89,-16.1 1012.56,-16.1 1013.23,-16.1 1013.9,-16.1 1014.57,-16.1 1015.24,-16.1 1015.91,-16.1 1016.58,-16.1 1017.25,-16.1 1017.92,-16.1 1018.59,-16.1 1019.26,-16.1 1019.93,-16.1 1020.6,-16.1 1021.27,-16.1 1021.94,-16.1 1022.61,-16.1 1023.28,-16.1 1023.95,-16.1 1024.62,-16.1 1025.29,-12.51 1025.96,-2.39 1026.63,7.66 1027.3,17.63 1027.97,27.51 1028.64,37.3 1029.31,46.99 1029.98,56.6 1030.65,66.11 1031.32,75.52 1031.99,84.83 1032.66,94.03 1033.33,103.13 1034,112.12 1034.67,121.01 1035.34,129.78 1036.01,138.44 1036.68,146.98 1037.35,155.41 1038.02,163.73 1038.69,171.92 1039.36,179.99 1040.03,187.95 1040.7,195.78 1041.37,203.49 1042.04,211.08 1042.71,218.54 1043.38,225.88 1044.05,233.09 1044.72,240.18 1045.39,247.14 1046.06,253.98 1046.73,260.69 1047.4,267.27 1048.07,273.73 1048.74,280.06 1049.41,286.26 1050.08,292.34 1050.75,298.29 1051.42,304.11 1052.09,309.81 1052.76,315.39 1053.43,320.84 1054.1,326.17 1054.77,331.37 1055.44,336.45 1056.11,341.41 1056.78,346.25 1057.45,350.97 1058.12,355.57 1058.79,360.05 1059.46,364.42 1060.13,368.67 1060.8,372.8 1061.47,376.83 1062.14,380.74 1062.81,384.53 1063.48,388.22 1064.15,391.8 1064.82,395.28 1065.49,398.65 1066.16,401.91 1066.83,405.07 1067.5,408.13 1068.17,411.09 1068.84,413.96 1069.51,416.72 1070.19,419.4 1070.86,421.98 1071.53,424.47 1072.2,426.87 1072.87,429.18 1073.54,431.41 1074.21,433.55 1074.88,435.61 1075.55,437.59 1076.22,439.49 1076.89,441.32 1077.56,443.07 1078.23,444.74 1078.9,446.35 1079.57,447.88 1080.24,449.35 1080.91,450.75 1081.58,452.09 1082.25,453.37 1082.92,454.59 1083.59,455.75 1084.26,456.85 1084.93,457.89 1085.6,458.89 1086.27,459.83 1086.94,460.72 1087.61,461.57 1088.28,462.37 1088.95,463.12 1089.62,463.84 1090.29,464.51 1090.96,465.14 1091.63,465.73 1092.3,466.29 1092.97,466.81 1093.64,467.3 1094.31,467.76 1094.98,468.19 1095.65,468.58 1096.32,468.95 1096.99,469.3 1097.66,469.62 1098.33,469.91 1099,470.18 1099.67,470.43 1100.34,470.66 1101.01,470.87 1101.68,471.06 1102.35,471.24 1103.02,471.4 1103.69,471.54 1104.36,471.67 1105.03,471.78 1105.7,471.89 1106.37,471.98 1107.04,472.05 1107.71,472.12 1108.38,472.18 1109.05,472.23 1109.72,472.27 1110.39,472.3 1111.06,472.33 1111.73,472.35 1112.4,472.36 1113.07,472.36 1113.74,472.36 1114.41,472.36 1115.08,472.35 1115.75,472.34 1116.42,472.32 1117.09,472.3 1117.76,472.28 1118.43,472.25 1119.1,472.22 1119.77,472.19 1120.44,472.16 1121.11,472.12 1121.78,472.08 1122.45,472.05 1123.12,472.01 1123.79,471.97 1124.46,471.93 1125.13,471.89 1125.8,471.85 1126.47,471.81 1127.14,471.77 1127.81,471.73 1128.48,471.69 1129.15,471.65 1129.82,471.61 1130.49,471.57 1131.16,471.54 1131.83,471.5 1132.5,471.47 1133.17,471.44 1133.84,471.41 1134.51,471.38 1135.18,471.35 1135.85,471.33 1136.53,471.3 1137.2,471.28 1137.87,471.26 1138.54,471.24 1139.21,471.23 1139.88,471.22 1140.55,471.21 1141.22,471.2 1141.89,471.19 1142.56,471.19 1143.23,471.19 1143.9,471.19 1144.57,471.19 1145.24,471.2 1145.91,471.21 1146.58,471.22 1147.25,471.23 1147.92,471.24 1148.59,471.26 1149.26,471.28 1149.93,471.3 1150.6,471.33 1151.27,471.35 1151.94,471.38 1152.61,471.41 1153.28,471.44 1153.95,471.47 1154.62,471.51 1155.29,471.54 1155.96,471.58 1156.63,471.62 1157.3,471.66 1157.97,471.7 1158.64,471.74 1159.31,471.78 1159.98,471.83 1160.65,471.87 1161.32,471.92 1161.99,471.96 1162.66,472.01 1163.33,472.05 1164,472.1 1164.67,472.14 1165.34,472.19 1166.01,472.24 1166.68,472.28 1167.35,472.33 1168.02,472.37 1168.69,472.42 1169.36,472.46 1170.03,472.5 1170.7,472.55 1171.37,472.59 1172.04,472.63 1172.71,472.67 1173.38,472.71 1174.05,472.75 1174.72,472.79 1175.39,472.83 1176.06,472.86 1176.73,472.9 1177.4,472.93 1178.07,472.97 1178.74,473 1179.41,473.03 1180.08,473.06 1180.75,473.09 1181.42,473.11 1182.09,473.14 1182.76,473.17 1183.43,473.19 1184.1,473.22 1184.77,473.24 1185.44,473.26 1186.11,473.28 1186.78,473.3 1187.45,473.32 1188.12,473.34 1188.79,473.35 1189.46,473.37 1190.13,473.39 1190.8,473.4 1191.47,473.41 1192.14,473.43 1192.81,473.44 1193.48,473.45 1194.15,473.46 1194.82,473.47 1195.49,473.48 1196.16,473.49 1196.83,473.5 1197.5,473.51 1198.17,473.51 1198.84,473.52 1199.51,473.53 1200.18,473.53 1200.85,473.54 1201.52,473.54 1202.19,473.55 1202.86,473.55 1203.53,473.56 1204.21,473.56 1204.88,473.56 1205.55,473.57 1206.22,473.57 1206.89,473.57 1207.56,473.57 1208.23,473.58 1208.9,473.58 1209.57,473.58 1210.24,473.58 1210.91,473.58 1211.58,473.59 1212.25,473.59 1212.92,473.59 1213.59,473.59 1214.26,473.59 1214.93,473.59 1215.6,473.59 1216.27,473.59 1216.94,473.59 1217.61,473.59 1218.28,473.6 1218.95,473.6 1219.62,473.6 1220.29,473.6 1220.96,473.6 1221.63,473.6 1222.3,473.6 1222.97,473.6 1223.64,473.6 1224.31,473.6 1224.98,473.6 1225.65,473.6 1226.32,473.6 1226.99,473.6 1227.66,473.6 1228.33,473.6 1229,473.6 1229.67,473.6 1230.34,473.6 1231.01,473.6 1231.68,473.6 1232.35,473.6 1233.02,473.6 1233.69,473.6 1234.36,473.6 1235.03,473.6 1235.7,473.6 1236.37,473.6 1237.04,473.6 1237.71,473.6 1238.38,473.6 1239.05,473.6 1239.72,473.6 1240.39,473.6 1241.06,473.6 1241.73,473.6 1242.4,473.6 1243.07,473.6 1243.74,473.6 1244.41,473.6 1245.08,473.59 1245.75,473.56 1246.42,473.51 1247.09,473.44 1247.76,473.35 1248.43,473.24 1249.1,473.11 1249.77,472.96 1250.44,472.8 1251.11,472.61 1251.78,472.4 1252.45,472.18 1253.12,471.93 1253.79,471.67 1254.46,471.38 1255.13,471.08 1255.8,470.76 1256.47,470.42 1257.14,470.06 1257.81,469.69 1258.48,469.3 1259.15,468.88 1259.82,468.46 1260.49,468.01 1261.16,467.55 1261.83,467.07 1262.5,466.58 1263.17,466.07 1263.84,465.54 1264.51,465 1265.18,464.44 1265.85,463.87 1266.52,463.28 1267.19,462.68 1267.86,462.06 1268.53,461.43 1269.2,460.79 1269.87,460.13 1270.55,459.47 1271.22,458.79 1271.89,458.09 1272.56,457.39 1273.23,456.67 1273.9,455.95 1274.57,455.21 1275.24,454.47 1275.91,453.71 1276.58,452.95 1277.25,452.17 1277.92,451.39 1278.59,450.6 1279.26,449.8 1279.93,449 1280.6,448.19 1281.27,447.37 1281.94,446.55 1282.61,445.72 1283.28,444.89 1283.95,444.05 1284.62,443.21 1285.29,442.37 1285.96,441.52 1286.63,440.67 1287.3,439.82 1287.97,438.96 1288.64,438.11 1289.31,437.25 1289.98,436.4 1290.65,435.54 1291.32,434.69 1291.99,433.83 1292.66,432.98 1293.33,432.13 1294,431.28 1294.67,430.44 1295.34,429.6 1296.01,428.76 1296.68,427.93 1297.35,427.1 1298.02,426.28 1298.69,425.46 1299.36,424.65 1300.03,423.84 1300.7,423.05 1301.37,422.26 1302.04,421.48 1302.71,420.7 1303.38,419.94 1304.05,419.18 1304.72,418.44 1305.39,417.7 1306.06,416.97 1306.73,416.26 1307.4,415.56 1308.07,414.86 1308.74,414.18 1309.41,413.51 1310.08,412.86 1310.75,412.22 1311.42,411.59 1312.09,410.97 1312.76,410.37 1313.43,409.78 1314.1,409.21 1314.77,408.65 1315.44,408.11 1316.11,407.58 1316.78,407.07 1317.45,406.58 1318.12,406.1 1318.79,405.64 1319.46,405.19 1320.13,404.76 1320.8,404.35 1321.47,403.96 1322.14,403.58 1322.81,403.23 1323.48,402.89 1324.15,402.57 1324.82,402.27 1325.49,401.98 1326.16,401.72 1326.83,401.47 1327.5,401.25 1328.17,401.04 1328.84,400.85 1329.51,400.68 1330.18,400.53 1330.85,400.41 1331.52,400.3 1332.19,400.21 1332.86,400.14 1333.53,400.09 1334.2,400.06 1334.87,400.05 1335.54,400.06 1336.21,400.09 1336.88,400.14 1337.55,400.21 1338.23,400.3 1338.9,400.41 1339.57,400.53 1340.24,400.68 1340.91,400.85 1341.58,401.04 1342.25,401.25 1342.92,401.47 1343.59,401.72 1344.26,401.98 1344.93,402.27 1345.6,402.57 1346.27,402.89 1346.94,403.23 1347.61,403.58 1348.28,403.96 1348.95,404.35 1349.62,404.76 1350.29,405.19 1350.96,405.64 1351.63,406.1 1352.3,406.58 1352.97,407.07 1353.64,407.58 1354.31,408.11 1354.98,408.65 1355.65,409.21 1356.32,409.78 1356.99,410.37 1357.66,410.97 1358.33,411.59 1359,412.22 1359.67,412.86 1360.34,413.51 1361.01,414.18 1361.68,414.86 1362.35,415.56 1363.02,416.26 1363.69,416.97 1364.36,417.7 1365.03,418.44 1365.7,419.18 1366.37,419.94 1367.04,420.7 1367.71,421.48 1368.38,422.26 1369.05,423.05 1369.72,423.84 1370.39,424.65 1371.06,425.46 1371.73,426.28 1372.4,427.1 1373.07,427.93 1373.74,428.76 1374.41,429.6 1375.08,430.44 1375.75,431.28 1376.42,432.13 1377.09,432.98 1377.76,433.83 1378.43,434.69 1379.1,435.54 1379.77,436.4 1380.44,437.25 1381.11,438.11 1381.78,438.96 1382.45,439.82 1383.12,440.67 1383.79,441.52 1384.46,442.37 1385.13,443.21 1385.8,444.05 1386.47,444.89 1387.14,445.72 1387.81,446.55 1388.48,447.37 1389.15,448.19 1389.82,449 1390.49,449.8 1391.16,450.6 1391.83,451.39 1392.5,452.17 1393.17,452.95 1393.84,453.71 1394.51,454.47 1395.18,455.21 1395.85,455.95 1396.52,456.67 1397.19,457.39 1397.86,458.09 1398.53,458.79 1399.2,459.47 1399.87,460.13 1400.54,460.79 1401.21,461.43 1401.88,462.06 1402.55,462.68 1403.22,463.28 1403.89,463.87 1404.57,464.44 1405.24,465 1405.91,465.54 1406.58,466.07 1407.25,466.58 1407.92,467.07 1408.59,467.55 1409.26,468.01 1409.93,468.46 1410.6,468.88 1411.27,469.3 1411.94,469.69 1412.61,470.06 1413.28,470.42 1413.95,470.76 1414.62,471.08 1415.29,471.38 1415.96,471.67 1416.63,471.93 1417.3,472.18 1417.97,472.4 1418.64,472.61 1419.31,472.8 1419.98,472.96 1420.65,473.11 1421.32,473.24 1421.99,473.35 1422.66,473.44 1423.33,473.51 1424,473.56 1424.67,473.59 1425.34,473.6 1426.01,473.59 1426.68,473.58 1427.35,473.55 1428.02,473.51 1428.69,473.47 1429.36,473.41 1430.03,473.34 1430.7,473.26 1431.37,473.17 1432.04,473.07 1432.71,472.96 1433.38,472.84 1434.05,472.71 1434.72,472.57 1435.39,472.42 1436.06,472.26 1436.73,472.09 1437.4,471.91 1438.07,471.72 1438.74,471.52 1439.41,471.31 1440.08,471.1 1440.75,470.87 1441.42,470.64 1442.09,470.4 1442.76,470.15 1443.43,469.89 1444.1,469.63 1444.77,469.36 1445.44,469.08 1446.11,468.79 1446.78,468.5 1447.45,468.2 1448.12,467.89 1448.79,467.58 1449.46,467.26 1450.13,466.94 1450.8,466.61 1451.47,466.28 1452.14,465.94 1452.81,465.6 1453.48,465.25 1454.15,464.9 1454.82,464.55 1455.49,464.19 1456.16,463.83 1456.83,463.47 1457.5,463.1 1458.17,462.73 1458.84,462.36 1459.51,461.99 1460.18,461.62 1460.85,461.25 1461.52,460.87 1462.19,460.5 1462.86,460.12 1463.53,459.75 1464.2,459.38 1464.87,459.01 1465.54,458.63 1466.21,458.26 1466.88,457.9 1467.55,457.53 1468.22,457.17 1468.89,456.81 1469.56,456.45 1470.23,456.1 1470.9,455.75 1471.57,455.4 1472.25,455.06 1472.92,454.72 1473.59,454.38 1474.26,454.06 1474.93,453.73 1475.6,453.42 1476.27,453.1 1476.94,452.8 1477.61,452.5 1478.28,452.21 1478.95,451.92 1479.62,451.64 1480.29,451.37 1480.96,451.1 1481.63,450.85 1482.3,450.6 1482.97,450.36 1483.64,450.12 1484.31,449.9 1484.98,449.68 1485.65,449.48 1486.32,449.28 1486.99,449.09 1487.66,448.91 1488.33,448.74 1489,448.58 1489.67,448.43 1490.34,448.29 1491.01,448.16 1491.68,448.04 1492.35,447.93 1493.02,447.83 1493.69,447.74 1494.36,447.66 1495.03,447.59 1495.7,447.53 1496.37,447.48 1497.04,447.45 1497.71,447.42 1498.38,447.4 1499.05,447.4 1499.72,447.4 1500.39,447.41 1501.06,447.42 1501.73,447.44 1502.4,447.46 1503.07,447.48 1503.74,447.51 1504.41,447.55 1505.08,447.59 1505.75,447.63 1506.42,447.68 1507.09,447.74 1507.76,447.8 1508.43,447.86 1509.1,447.93 1509.77,448 1510.44,448.08 1511.11,448.16 1511.78,448.24 1512.45,448.33 1513.12,448.42 1513.79,448.52 1514.46,448.62 1515.13,448.73 1515.8,448.84 1516.47,448.96 1517.14,449.07 1517.81,449.2 1518.48,449.32 1519.15,449.45 1519.82,449.58 1520.49,449.72 1521.16,449.86 1521.83,450.01 1522.5,450.15 1523.17,450.3 1523.84,450.46 1524.51,450.61 1525.18,450.77 1525.85,450.94 1526.52,451.1 1527.19,451.26 1527.86,451.43 1528.53,451.6 1529.2,451.77 1529.87,451.95 1530.54,452.12 1531.21,452.3 1531.88,452.48 1532.55,452.66 1533.22,452.85 1533.89,453.03 1534.56,453.22 1535.23,453.41 1535.9,453.59 1536.57,453.79 1537.24,453.98 1537.91,454.17 1538.59,454.37 1539.26,454.56 1539.93,454.76 1540.6,454.96 1541.27,455.15 1541.94,455.35 1542.61,455.55 1543.28,455.75 1543.95,455.95 1544.62,456.15 1545.29,456.36 1545.96,456.56 1546.63,456.76 1547.3,456.96 1547.97,457.16 1548.64,457.36 1549.31,457.57 1549.98,457.77 1550.65,457.97 1551.32,458.17 1551.99,458.37 1552.66,458.57 1553.33,458.77 1554,458.97 1554.67,459.16 1555.34,459.36 1556.01,459.56 1556.68,459.75 1557.35,459.95 1558.02,460.14 1558.69,460.33 1559.36,460.52 1560.03,460.71 1560.7,460.9 1561.37,461.09 1562.04,461.27 1562.71,461.46 1563.38,461.64 1564.05,461.82 1564.72,462 1565.39,462.18 1566.06,462.35 1566.73,462.53 1567.4,462.7 1568.07,462.87 1568.74,463.04 1569.41,463.21 1570.08,463.38 1570.75,463.54 1571.42,463.7 1572.09,463.86 1572.76,464.02 1573.43,464.17 1574.1,464.33 1574.77,464.48 1575.44,464.63 1576.11,464.78 1576.78,464.92 1577.45,465.07 1578.12,465.21 1578.79,465.35 1579.46,465.48 1580.13,465.62 1580.8,465.75 1581.47,465.88 1582.14,466.01 1582.81,466.13 1583.48,466.26 1584.15,466.38 1584.82,466.5 1585.49,466.61 1586.16,466.73 1586.83,466.84 1587.5,466.95 1588.17,467.06 1588.84,467.16 1589.51,467.27 1590.18,467.37 1590.85,467.47 1591.52,467.56 1592.19,467.66 1592.86,467.75 1593.53,467.84 1594.2,467.93 1594.87,468.01 1595.54,468.1 1596.21,468.18 1596.88,468.26 1597.55,468.34 1598.22,468.41 1598.89,468.49 1599.56,468.56 1600.23,468.63 1600.9,468.7 1601.57,468.76 1602.24,468.82 1602.91,468.89 1603.58,468.95 1604.25,469 1604.92,469.06 1605.59,469.11 1606.27,469.17 1606.94,469.22 1607.61,469.27 1608.28,469.31 1608.95,469.36 1609.62,469.4 1610.29,469.44 1610.96,469.48 1611.63,469.52 1612.3,469.56 1612.97,469.6 1613.64,469.63 1614.31,469.66 1614.98,469.69 1615.65,469.72 1616.32,469.75 1616.99,469.78 1617.66,469.8 1618.33,469.83 1619,469.85 1619.67,469.87 1620.34,469.89 1621.01,469.91 1621.68,469.92 1622.35,469.94 1623.02,469.96 1623.69,469.97 1624.36,469.98 1625.03,469.99 1625.7,470 1626.37,470.01 1627.04,470.02 1627.71,470.03 1628.38,470.03 1629.05,470.04 1629.72,470.04 1630.39,470.04 1631.06,470.04 1631.73,470.05 1632.4,470.04 1633.07,470.04 1633.74,470.04 1634.41,470.04 1635.08,470.04 1635.75,470.03 1636.42,470.03 1637.09,470.02 1637.76,470.01 1638.43,470.01 1639.1,470"/>
<rect x="969" y="13.9" width="670.1" height="459.7" fill="none" stroke="#111111" stroke-width="4"/>
<path d="M1036.01 473.6v-10M1036.01 13.9v10.5M1103.02 473.6v-10M1103.02 13.9v10.5M1170.03 473.6v-10M1170.03 13.9v10.5M1237.04 473.6v-10M1237.04 13.9v10.5M1304.05 473.6v-10M1304.05 13.9v10.5M1371.06 473.6v-10M1371.06 13.9v10.5M1438.07 473.6v-10M1438.07 13.9v10.5M1505.08 473.6v-10M1505.08 13.9v10.5M1572.09 473.6v-10M1572.09 13.9v10.5M969 416.14h8.5M1639.1 416.14h-8.5M969 358.68h8.5M1639.1 358.68h-8.5M969 301.21h8.5M1639.1 301.21h-8.5M969 243.75h8.5M1639.1 243.75h-8.5M969 186.29h8.5M1639.1 186.29h-8.5M969 128.82h8.5M1639.1 128.82h-8.5M969 71.36h8.5M1639.1 71.36h-8.5" stroke="#111111" stroke-width="3.8" fill="none"/>
<rect x="1282.9" y="37.9" width="276.2" height="186" fill="#fff" stroke="#111111" stroke-width="2.5"/>
<path d="M1292.7 64.3H1343.8" stroke="#111111" stroke-width="2.6" stroke-dasharray="5.5 4.7"/>
<path d="M1292.7 109.2H1343.8" stroke="#111111" stroke-width="2.6" stroke-dasharray="11 3 2 3"/>
<path d="M1292.7 153.7H1343.8" stroke="#2c6cb6" stroke-width="2.8"/>
<path d="M1292.7 198.5H1343.8" stroke="#d72418" stroke-width="2.8"/>
<g font-family='"Liberation Serif","Times New Roman",serif'>
<text x="1361.93" y="70.4" font-size="26.7" fill="#111">Bessel (ε ≈ 1)</text>
<text x="1361.6" y="115.4" font-size="26.7" fill="#111">Gauss</text>
<text x="1361.93" y="160.2" font-size="26.7" fill="#111">Bessel (ε = 0.78)</text>
<text x="1361.93" y="206.4" font-size="26.7" fill="#111">Droplet</text>
</g>
<g font-family='"Liberation Serif","Times New Roman",serif'><text x="86.01" y="26.07" font-size="37.5" fill="#111111">1.4</text>
<text x="85.29" y="97.47" font-size="37.5" fill="#111111">1.2</text>
<text x="104.1" y="173.4" font-size="37.5" fill="#111111">1</text>
<text x="83.55" y="248.37" font-size="37.5" fill="#111111">0.8</text>
<text x="84.34" y="324.47" font-size="37.5" fill="#111111">0.6</text>
<text x="83.81" y="399.97" font-size="37.5" fill="#111111">0.4</text>
<text x="85.29" y="476.07" font-size="37.5" fill="#111111">0.2</text>
<text x="136.18" y="509.93" font-size="37.5" fill="#111111">0</text>
<text x="236.33" y="509.77" font-size="37.5" fill="#111111">0.2</text>
<text x="352.74" y="509.77" font-size="37.5" fill="#111111">0.4</text>
<text x="469.71" y="509.77" font-size="37.5" fill="#111111">0.6</text>
<text x="586.26" y="509.77" font-size="37.5" fill="#111111">0.8</text>
<text x="711.95" y="510.3" font-size="37.5" fill="#111111">1</text>
<text x="733.5" y="35.83" font-size="37.5" fill="#111111">10</text>
<text x="732.57" y="113.63" font-size="37.5" fill="#111111">8</text>
<text x="731.99" y="207.73" font-size="37.5" fill="#111111">6</text>
<text x="732.37" y="297.3" font-size="37.5" fill="#111111">4</text>
<text x="731.45" y="391.8" font-size="37.5" fill="#111111">2</text>
<text x="731.67" y="479.73" font-size="37.5" fill="#111111">0</text>
<text x="-0.43" y="35.84" font-size="43.5" fill="#111111">a)</text>
<text x="831.94" y="29.74" font-size="43.5" fill="#111111">c)</text>
<text x="1.1" y="627.14" font-size="43.5" fill="#111111">b)</text>
<text transform="translate(74.9,267.4) rotate(-90)" font-size="43">P/P<tspan font-size="24">B</tspan></text>
<text transform="translate(771,118.8) rotate(90)" font-size="33.8">FWHM<tspan font-size="21">d</tspan> / FWHM<tspan font-size="21">g</tspan></text>
<text x="379.99" y="560.3" font-size="43">r<tspan font-size="18.5">2</tspan>/r<tspan font-size="18.5">1</tspan></text>
<text x="911.35" y="24.98" font-size="36.5" fill="#111111">0.4</text>
<text x="911.2" y="138.78" font-size="36.5" fill="#111111">0.3</text>
<text x="911.79" y="252.28" font-size="36.5" fill="#111111">0.2</text>
<text x="910.77" y="367.48" font-size="36.5" fill="#111111">0.1</text>
<text x="936.14" y="478.44" font-size="36.5" fill="#111111">0</text>
<text x="962.88" y="506.24" font-size="36.5" fill="#111111">0</text>
<text x="1094.73" y="506.6" font-size="36.5" fill="#111111">2</text>
<text x="1226.8" y="506.6" font-size="36.5" fill="#111111">4</text>
<text x="1362.33" y="506.24" font-size="36.5" fill="#111111">6</text>
<text x="1497.53" y="506.24" font-size="36.5" fill="#111111">8</text>
<text x="1619.84" y="506.24" font-size="36.5" fill="#111111">10</text>
<text transform="translate(895.8,344.8) rotate(-90)" font-size="34.5">Intensity (arb.u.)</text>
<text x="1274.2" y="546.1" font-size="34">r/ω<tspan font-size="21">0</tspan></text>
<text x="70.04" y="636.1" font-size="38" fill="#111111">-4</text>
<text x="80.05" y="667.93" font-size="38" fill="#111111">0</text>
<text x="79.19" y="700" font-size="38" fill="#111111">4</text>
<text x="70.04" y="754.3" font-size="38" fill="#111111">-4</text>
<text x="80.05" y="786.13" font-size="38" fill="#111111">0</text>
<text x="79.19" y="818.2" font-size="38" fill="#111111">4</text>
<text x="70.04" y="872.5" font-size="38" fill="#111111">-4</text>
<text x="80.05" y="904.33" font-size="38" fill="#111111">0</text>
<text x="79.19" y="936.4" font-size="38" fill="#111111">4</text>
<text x="70.04" y="990.7" font-size="38" fill="#111111">-4</text>
<text x="80.05" y="1022.53" font-size="38" fill="#111111">0</text>
<text x="79.19" y="1054.6" font-size="38" fill="#111111">4</text>
<text transform="translate(68.1,858.8) rotate(-90)" font-size="37">x/ω<tspan font-size="22">0</tspan></text>
<text x="149.86" y="1105.3" font-size="38" fill="#111111">-4</text>
<text x="289.11" y="1104.93" font-size="38" fill="#111111">-3</text>
<text x="428.22" y="1105.3" font-size="38" fill="#111111">-2</text>
<text x="567.11" y="1105.3" font-size="38" fill="#111111">-1</text>
<text x="711.8" y="1104.93" font-size="38" fill="#111111">0</text>
<text x="850.07" y="1105.3" font-size="38" fill="#111111">1</text>
<text x="989.61" y="1105.3" font-size="38" fill="#111111">2</text>
<text x="1128.03" y="1104.93" font-size="38" fill="#111111">3</text>
<text x="1250" y="1108.4" font-size="34.5">z/z<tspan font-size="24">r</tspan></text>
<text x="118.33" y="708.55" font-size="26" fill="#ffffff">Gauss</text>
<text x="119.05" y="826" font-size="26" fill="#ffffff">Bessel (ε = 1)</text>
<text x="118.35" y="944.6" font-size="26" fill="#ffffff">Bessel (ε ≈ 0.78)</text>
<text x="118.32" y="1061.6" font-size="26.0" fill="#fff">Droplet (r<tspan font-size="16">2</tspan>/r<tspan font-size="16">1</tspan>=0.57)</text>
<text x="1414.84" y="701.8" font-size="32.5" fill="#111111">1</text>
<text x="1416.86" y="834.04" font-size="32.5" fill="#111111">.5</text>
<text x="1414.96" y="966.88" font-size="32.5" fill="#111111">0</text>
<text transform="translate(1464.0,706.34) rotate(90)" font-size="34.9">Intensity (arb.u.)</text>
<text x="1545.28" y="586.22" font-size="28.6" fill="#111111">Mask</text></g>
</svg>
</body></html>
